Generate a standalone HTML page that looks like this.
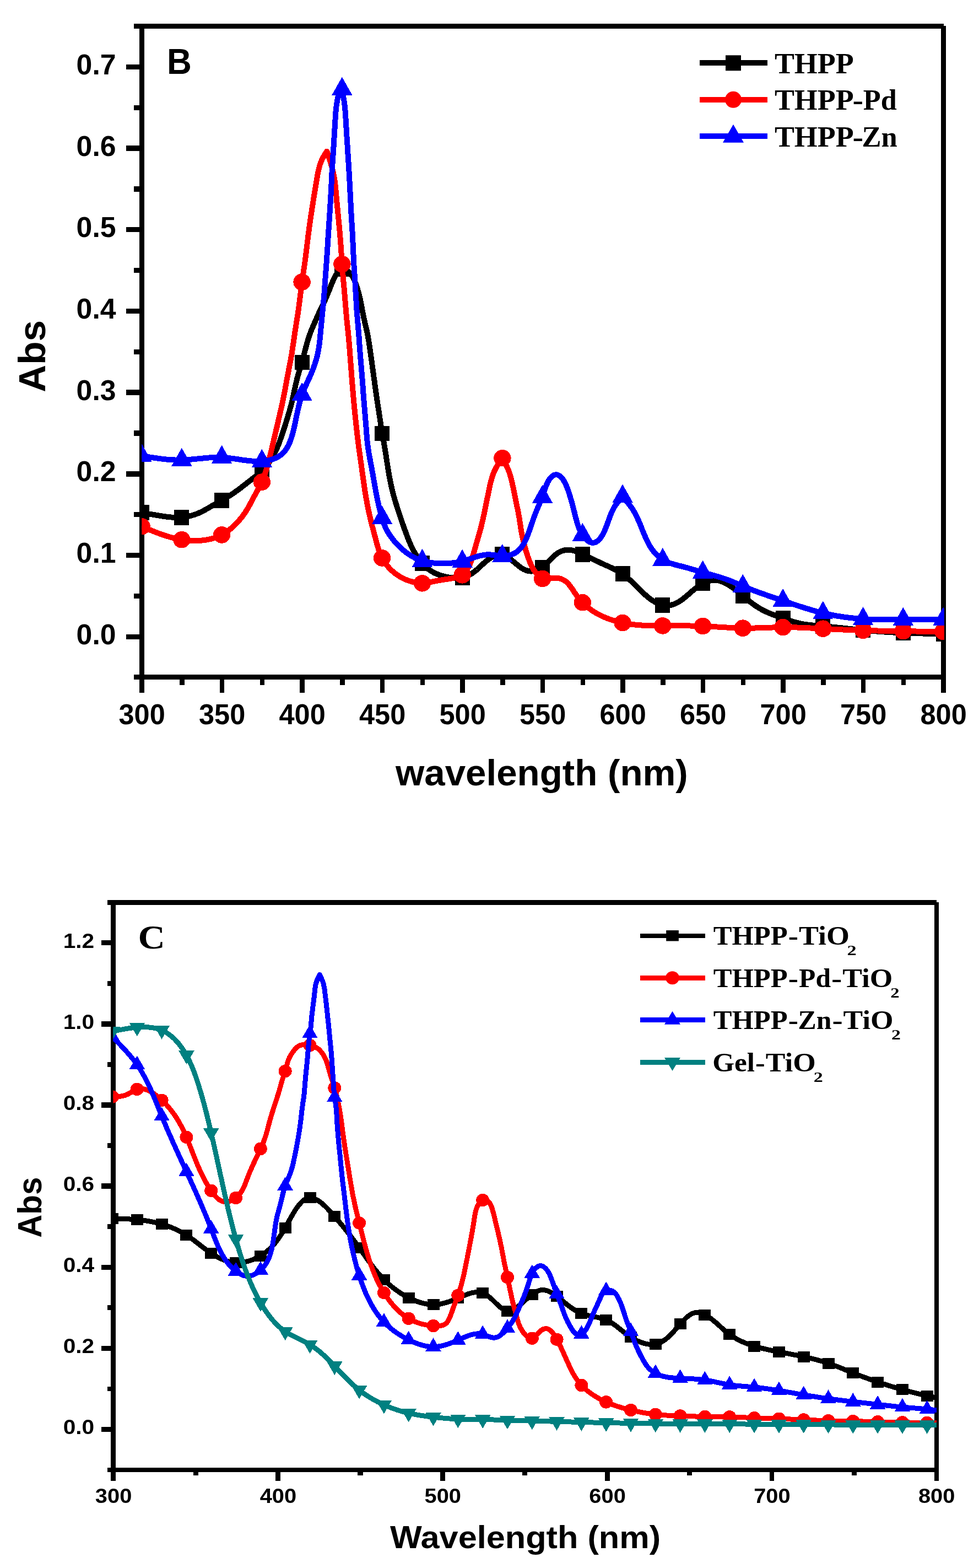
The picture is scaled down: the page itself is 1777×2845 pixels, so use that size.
<!DOCTYPE html>
<html lang="en">
<head>
<meta charset="utf-8">
<title>UV-Vis absorption spectra</title>
<style>
html, body { margin: 0; padding: 0; background: #ffffff; }
body { width: 1777px; height: 2845px; overflow: hidden; }
svg { display: block; }
text { fill: #000; }
</style>
</head>
<body>
<svg xmlns="http://www.w3.org/2000/svg" width="1777" height="2845" viewBox="0 0 1777 2845">
<rect width="1777" height="2845" fill="#fff"/>
<defs>
<clipPath id="clipB"><rect x="257.3" y="47" width="1456.6" height="1182"/></clipPath>
<clipPath id="clipC"><rect x="205.4" y="1637" width="1494.9" height="1030"/></clipPath>
</defs>
<g shape-rendering="crispEdges">
<rect x="243.20" y="42.80" width="1469.40" height="9.20" fill="#000"/>
<rect x="243.20" y="1224.10" width="1473.80" height="8.90" fill="#000"/>
<rect x="253.40" y="42.80" width="8.50" height="1213.70" fill="#000"/>
<rect x="1708.30" y="46.60" width="8.70" height="1209.90" fill="#000"/>
<rect x="228.90" y="1150.50" width="24.50" height="9.40" fill="#000"/>
<rect x="228.90" y="1002.81" width="24.50" height="9.40" fill="#000"/>
<rect x="228.90" y="855.12" width="24.50" height="9.40" fill="#000"/>
<rect x="228.90" y="707.43" width="24.50" height="9.40" fill="#000"/>
<rect x="228.90" y="559.74" width="24.50" height="9.40" fill="#000"/>
<rect x="228.90" y="412.05" width="24.50" height="9.40" fill="#000"/>
<rect x="228.90" y="264.36" width="24.50" height="9.40" fill="#000"/>
<rect x="228.90" y="116.67" width="24.50" height="9.40" fill="#000"/>
<rect x="243.20" y="1076.76" width="10.20" height="9.20" fill="#000"/>
<rect x="243.20" y="929.06" width="10.20" height="9.20" fill="#000"/>
<rect x="243.20" y="781.38" width="10.20" height="9.20" fill="#000"/>
<rect x="243.20" y="633.68" width="10.20" height="9.20" fill="#000"/>
<rect x="243.20" y="486.00" width="10.20" height="9.20" fill="#000"/>
<rect x="243.20" y="338.30" width="10.20" height="9.20" fill="#000"/>
<rect x="243.20" y="190.61" width="10.20" height="9.20" fill="#000"/>
<rect x="398.75" y="1233.00" width="8.70" height="23.50" fill="#000"/>
<rect x="544.25" y="1233.00" width="8.70" height="23.50" fill="#000"/>
<rect x="689.75" y="1233.00" width="8.70" height="23.50" fill="#000"/>
<rect x="835.25" y="1233.00" width="8.70" height="23.50" fill="#000"/>
<rect x="980.75" y="1233.00" width="8.70" height="23.50" fill="#000"/>
<rect x="1126.25" y="1233.00" width="8.70" height="23.50" fill="#000"/>
<rect x="1271.75" y="1233.00" width="8.70" height="23.50" fill="#000"/>
<rect x="1417.25" y="1233.00" width="8.70" height="23.50" fill="#000"/>
<rect x="1562.75" y="1233.00" width="8.70" height="23.50" fill="#000"/>
<rect x="326.00" y="1233.00" width="8.70" height="9.60" fill="#000"/>
<rect x="471.50" y="1233.00" width="8.70" height="9.60" fill="#000"/>
<rect x="617.00" y="1233.00" width="8.70" height="9.60" fill="#000"/>
<rect x="762.50" y="1233.00" width="8.70" height="9.60" fill="#000"/>
<rect x="908.00" y="1233.00" width="8.70" height="9.60" fill="#000"/>
<rect x="1053.50" y="1233.00" width="8.70" height="9.60" fill="#000"/>
<rect x="1199.00" y="1233.00" width="8.70" height="9.60" fill="#000"/>
<rect x="1344.50" y="1233.00" width="8.70" height="9.60" fill="#000"/>
<rect x="1490.00" y="1233.00" width="8.70" height="9.60" fill="#000"/>
<rect x="1635.50" y="1233.00" width="8.70" height="9.60" fill="#000"/>
</g>
<text transform="translate(210.60 1168.70) scale(0.9850 1)" font-family='"Liberation Sans", Arial, Helvetica, sans-serif' font-size="52.6" font-weight="bold" text-anchor="end">0.0</text>
<text transform="translate(210.60 1021.01) scale(0.9850 1)" font-family='"Liberation Sans", Arial, Helvetica, sans-serif' font-size="52.6" font-weight="bold" text-anchor="end">0.1</text>
<text transform="translate(210.60 873.32) scale(0.9850 1)" font-family='"Liberation Sans", Arial, Helvetica, sans-serif' font-size="52.6" font-weight="bold" text-anchor="end">0.2</text>
<text transform="translate(210.60 725.63) scale(0.9850 1)" font-family='"Liberation Sans", Arial, Helvetica, sans-serif' font-size="52.6" font-weight="bold" text-anchor="end">0.3</text>
<text transform="translate(210.60 577.94) scale(0.9850 1)" font-family='"Liberation Sans", Arial, Helvetica, sans-serif' font-size="52.6" font-weight="bold" text-anchor="end">0.4</text>
<text transform="translate(210.60 430.25) scale(0.9850 1)" font-family='"Liberation Sans", Arial, Helvetica, sans-serif' font-size="52.6" font-weight="bold" text-anchor="end">0.5</text>
<text transform="translate(210.60 282.56) scale(0.9850 1)" font-family='"Liberation Sans", Arial, Helvetica, sans-serif' font-size="52.6" font-weight="bold" text-anchor="end">0.6</text>
<text transform="translate(210.60 134.87) scale(0.9850 1)" font-family='"Liberation Sans", Arial, Helvetica, sans-serif' font-size="52.6" font-weight="bold" text-anchor="end">0.7</text>
<text transform="translate(257.60 1314.40) scale(0.9600 1)" font-family='"Liberation Sans", Arial, Helvetica, sans-serif' font-size="52.6" font-weight="bold" text-anchor="middle">300</text>
<text transform="translate(403.10 1314.40) scale(0.9600 1)" font-family='"Liberation Sans", Arial, Helvetica, sans-serif' font-size="52.6" font-weight="bold" text-anchor="middle">350</text>
<text transform="translate(548.60 1314.40) scale(0.9600 1)" font-family='"Liberation Sans", Arial, Helvetica, sans-serif' font-size="52.6" font-weight="bold" text-anchor="middle">400</text>
<text transform="translate(694.10 1314.40) scale(0.9600 1)" font-family='"Liberation Sans", Arial, Helvetica, sans-serif' font-size="52.6" font-weight="bold" text-anchor="middle">450</text>
<text transform="translate(839.60 1314.40) scale(0.9600 1)" font-family='"Liberation Sans", Arial, Helvetica, sans-serif' font-size="52.6" font-weight="bold" text-anchor="middle">500</text>
<text transform="translate(985.10 1314.40) scale(0.9600 1)" font-family='"Liberation Sans", Arial, Helvetica, sans-serif' font-size="52.6" font-weight="bold" text-anchor="middle">550</text>
<text transform="translate(1130.60 1314.40) scale(0.9600 1)" font-family='"Liberation Sans", Arial, Helvetica, sans-serif' font-size="52.6" font-weight="bold" text-anchor="middle">600</text>
<text transform="translate(1276.10 1314.40) scale(0.9600 1)" font-family='"Liberation Sans", Arial, Helvetica, sans-serif' font-size="52.6" font-weight="bold" text-anchor="middle">650</text>
<text transform="translate(1421.60 1314.40) scale(0.9600 1)" font-family='"Liberation Sans", Arial, Helvetica, sans-serif' font-size="52.6" font-weight="bold" text-anchor="middle">700</text>
<text transform="translate(1567.10 1314.40) scale(0.9600 1)" font-family='"Liberation Sans", Arial, Helvetica, sans-serif' font-size="52.6" font-weight="bold" text-anchor="middle">750</text>
<text transform="translate(1712.60 1314.40) scale(0.9600 1)" font-family='"Liberation Sans", Arial, Helvetica, sans-serif' font-size="52.6" font-weight="bold" text-anchor="middle">800</text>
<text transform="translate(983.30 1425.00) scale(1.0050 1)" font-family='"Liberation Sans", Arial, Helvetica, sans-serif' font-size="66.95" font-weight="bold" text-anchor="middle">wavelength (nm)</text>
<text transform="translate(81.80 646.30) rotate(-90) scale(1.0100 1)" font-family='"Liberation Sans", Arial, Helvetica, sans-serif' font-size="68.5" font-weight="bold" text-anchor="middle">Abs</text>
<text transform="translate(303.10 133.90) scale(0.9545 1)" font-family='"Liberation Sans", Arial, Helvetica, sans-serif' font-size="65.06" font-weight="bold" text-anchor="start">B</text>
<g clip-path="url(#clipB)" shape-rendering="crispEdges">
<path d="M257.1,930.0L258.6,930.2L260.1,930.5L261.5,930.8L263.0,931.1L264.5,931.3L266.0,931.6L267.5,931.9L268.9,932.1L270.4,932.4L271.9,932.7L273.4,932.9L274.9,933.2L276.3,933.4L277.8,933.7L279.3,934.0L280.8,934.2L282.3,934.5L283.8,934.7L285.3,935.0L286.8,935.2L288.2,935.5L289.7,935.7L291.2,936.0L292.7,936.2L294.2,936.4L295.7,936.7L297.2,936.9L298.7,937.1L300.2,937.3L301.7,937.5L303.2,937.7L304.7,937.9L306.2,938.1L307.7,938.2L309.2,938.4L310.7,938.5L312.2,938.6L314.2,938.8L316.2,938.9L318.1,939.0L320.1,939.0L322.1,939.0L324.1,939.0L326.1,938.9L328.1,938.8L330.0,938.7L332.0,938.5L334.0,938.3L336.0,938.0L337.9,937.7L339.9,937.3L341.8,936.9L343.8,936.5L345.7,936.0L347.6,935.5L349.5,934.9L351.4,934.3L353.3,933.7L355.2,933.0L357.1,932.3L358.9,931.6L360.8,930.8L362.6,930.0L364.4,929.2L366.2,928.3L368.0,927.4L369.3,926.7L370.6,926.0L372.0,925.3L373.3,924.5L374.6,923.8L375.9,923.1L377.2,922.3L378.5,921.6L379.8,920.8L381.1,920.1L382.4,919.3L383.7,918.6L385.0,917.8L386.4,917.1L387.7,916.4L389.0,915.6L390.3,914.9L391.6,914.2L392.9,913.4L394.2,912.7L395.5,912.0L396.9,911.2L398.2,910.5L399.5,909.7L400.8,909.0L402.1,908.3L403.4,907.5L404.7,906.8L406.0,906.0L407.3,905.2L409.0,904.2L410.7,903.2L412.4,902.2L414.1,901.1L415.8,900.1L417.5,899.0L419.2,897.9L420.8,896.8L422.5,895.7L424.1,894.6L425.8,893.4L427.4,892.3L429.0,891.1L430.7,889.9L432.3,888.7L433.5,887.8L434.7,886.9L435.9,886.0L437.1,885.1L438.3,884.2L439.4,883.3L440.6,882.4L441.8,881.5L443.0,880.5L444.2,879.6L445.4,878.7L446.6,877.8L447.7,876.8L448.9,875.9L450.1,875.0L451.3,874.0L452.5,873.1L453.7,872.2L454.9,871.3L456.0,870.4L457.2,869.4L458.4,868.5L459.6,867.6L460.8,866.7L462.0,865.8L463.2,864.9L464.4,863.9L465.9,862.7L467.5,861.4L469.0,860.2L470.5,858.9L472.0,857.6L473.5,856.2L475.0,854.9L476.4,853.5L477.8,852.1L479.1,850.6L480.5,849.1L481.8,847.6L483.1,846.1L484.3,844.6L485.6,843.0L486.8,841.4L487.9,839.8L488.8,838.6L489.6,837.3L490.5,836.1L491.3,834.8L492.1,833.5L492.9,832.3L493.7,831.0L494.5,829.7L495.2,828.4L495.9,827.0L496.7,825.7L497.4,824.4L498.1,823.0L498.8,821.7L499.4,820.3L500.1,819.0L500.8,817.6L501.4,816.2L502.0,814.9L502.6,813.5L503.2,812.1L503.8,810.7L504.4,809.3L505.0,807.9L505.5,806.5L506.1,805.1L506.6,803.7L507.2,802.3L507.7,800.9L508.2,799.5L508.7,798.0L509.2,796.6L509.7,795.2L510.2,793.8L510.7,792.4L511.2,790.9L511.7,789.5L512.2,788.1L512.7,786.7L513.1,785.2L513.6,783.8L514.1,782.4L514.6,781.0L515.0,779.5L515.5,778.1L515.9,776.7L516.4,775.3L516.9,773.8L517.3,772.4L517.8,771.0L518.2,769.5L518.7,768.1L519.1,766.7L519.6,765.2L520.0,763.8L520.4,762.4L520.9,760.9L521.3,759.5L521.8,758.1L522.2,756.6L522.6,755.2L523.0,753.7L523.5,752.3L523.9,750.9L524.3,749.4L524.9,747.5L525.4,745.6L526.0,743.7L526.5,741.7L527.0,739.8L527.6,737.9L528.1,735.9L528.6,734.0L529.1,732.1L529.6,730.1L530.0,728.2L530.5,726.2L530.9,724.3L531.4,722.3L531.8,720.4L532.3,718.4L532.7,716.5L533.1,714.5L533.5,712.6L533.9,710.6L534.3,708.7L534.7,706.7L535.2,704.8L535.6,702.8L536.0,700.8L536.4,698.9L536.9,696.9L537.3,695.0L537.8,693.1L538.3,691.1L538.7,689.2L539.2,687.2L539.7,685.3L540.3,683.4L540.8,681.5L541.3,679.5L541.9,677.6L542.5,675.7L543.0,673.8L543.6,671.9L544.2,670.0L544.6,668.5L545.1,667.1L545.5,665.7L546.0,664.2L546.4,662.8L546.8,661.3L547.2,659.9L547.7,658.5L548.1,657.0L548.5,655.6L548.9,654.1L549.3,652.7L549.7,651.2L550.1,649.8L550.5,648.3L550.9,646.9L551.2,645.4L551.6,644.0L552.0,642.5L552.4,641.0L552.8,639.6L553.1,638.1L553.5,636.7L553.9,635.2L554.3,633.8L554.7,632.3L555.0,630.9L555.4,629.4L555.8,628.0L556.2,626.5L556.7,624.6L557.3,622.7L557.8,620.7L558.4,618.8L559.0,616.9L559.5,615.0L560.1,613.1L560.8,611.2L561.4,609.3L562.0,607.4L562.7,605.6L563.4,603.7L564.1,601.9L564.8,600.0L565.6,598.2L566.4,596.3L567.1,594.5L567.9,592.7L568.7,590.9L569.5,589.1L570.3,587.2L571.1,585.4L571.9,583.6L572.7,581.8L573.5,580.0L574.3,578.2L575.1,576.3L575.9,574.5L576.7,572.7L577.5,570.9L578.3,569.1L579.1,567.3L579.9,565.5L580.7,563.7L581.6,561.9L582.4,560.1L583.3,558.3L584.2,556.5L584.8,555.2L585.5,553.8L586.2,552.5L586.8,551.1L587.5,549.7L588.1,548.3L588.8,547.0L589.4,545.6L590.1,544.2L590.7,542.7L591.3,541.3L592.0,539.9L592.6,538.4L593.2,537.0L593.8,535.5L594.5,534.0L595.1,532.5L595.7,531.0L596.3,529.5L596.9,528.0L597.6,526.4L598.2,524.9L598.8,523.3L599.4,521.7L600.1,520.1L600.7,518.5L601.3,516.9L602.0,515.3L602.7,513.7L603.3,512.0L604.0,510.5L604.7,508.9L605.4,507.3L606.1,505.8L606.8,504.3L607.5,502.9L608.3,501.4L609.0,500.1L609.8,498.8L610.9,497.1L612.0,495.6L613.1,494.1L614.2,492.9L615.4,491.7L616.6,490.8L618.2,489.8L619.8,489.1L621.5,488.7L623.3,488.7L625.1,489.0L626.6,489.4L628.0,490.0L629.5,490.8L630.9,491.7L632.3,492.8L633.7,494.0L635.0,495.3L636.2,496.7L637.4,498.2L638.5,499.8L639.6,501.5L640.3,502.8L641.1,504.1L641.8,505.5L642.5,506.9L643.1,508.4L643.8,509.9L644.4,511.3L645.0,512.9L645.6,514.4L646.1,515.9L646.7,517.5L647.2,519.0L647.7,520.5L648.2,522.1L648.7,523.6L649.2,525.2L649.6,526.7L650.1,528.3L650.5,529.8L651.0,531.3L651.4,532.8L651.8,534.4L652.1,535.9L652.5,537.4L652.9,538.9L653.2,540.4L653.6,541.9L653.9,543.5L654.2,545.0L654.5,546.5L654.8,548.0L655.1,549.4L655.4,550.9L655.7,552.4L656.0,553.9L656.3,555.4L656.5,556.9L656.8,558.4L657.1,559.8L657.4,561.3L657.6,562.8L658.0,564.8L658.4,566.7L658.8,568.7L659.1,570.6L659.5,572.6L659.9,574.5L660.3,576.5L660.8,578.4L661.2,580.4L661.6,582.3L662.1,584.3L662.5,586.2L663.0,588.2L663.4,590.1L663.9,592.0L664.3,594.0L664.8,595.9L665.2,597.9L665.7,599.8L666.1,601.7L666.5,603.7L666.9,605.6L667.3,607.6L667.7,609.6L668.0,611.5L668.4,613.5L668.7,615.5L669.1,617.4L669.4,619.4L669.7,621.4L670.0,623.3L670.3,625.3L670.6,626.8L670.8,628.3L671.0,629.8L671.2,631.3L671.4,632.7L671.7,634.2L671.9,635.7L672.1,637.2L672.3,638.7L672.5,640.2L672.7,641.7L672.9,643.1L673.1,644.6L673.3,646.1L673.5,647.6L673.7,649.1L673.9,650.6L674.1,652.1L674.3,653.6L674.6,655.0L674.8,656.5L675.0,658.0L675.2,659.5L675.4,661.0L675.6,662.5L675.8,664.0L676.0,665.5L676.2,666.9L676.4,668.4L676.6,669.9L676.8,671.4L677.0,672.9L677.2,674.4L677.4,675.9L677.6,677.3L677.8,678.8L678.0,680.3L678.2,681.8L678.4,683.3L678.6,684.8L678.9,686.3L679.1,687.8L679.3,689.2L679.5,690.7L679.7,692.2L679.9,693.7L680.1,695.2L680.3,696.7L680.5,698.2L680.7,699.6L680.9,701.1L681.1,702.6L681.3,704.1L681.5,705.6L681.7,707.1L681.9,708.6L682.2,710.0L682.4,711.5L682.6,713.0L682.8,714.5L683.0,716.0L683.2,717.5L683.4,719.0L683.6,720.4L683.9,721.9L684.1,723.4L684.3,724.9L684.5,726.4L684.7,727.9L685.0,729.4L685.2,730.8L685.4,732.3L685.6,733.8L685.9,735.3L686.1,736.8L686.3,738.3L686.5,739.7L686.8,741.2L687.0,742.7L687.2,744.2L687.5,745.7L687.7,747.2L687.9,748.6L688.1,750.1L688.4,751.6L688.6,753.1L688.8,754.6L689.1,756.0L689.3,757.5L689.5,759.0L689.7,760.5L690.0,762.0L690.2,763.5L690.4,764.9L690.6,766.4L690.9,767.9L691.1,769.4L691.3,770.9L691.5,772.4L691.8,773.8L692.0,775.3L692.2,776.8L692.5,778.8L692.8,780.8L693.1,782.7L693.4,784.7L693.8,786.7L694.1,788.7L694.4,790.6L694.8,792.6L695.1,794.6L695.5,796.5L695.9,798.5L696.2,800.5L696.5,801.9L696.8,803.4L697.0,804.9L697.3,806.4L697.6,807.9L697.8,809.3L698.1,810.8L698.3,812.3L698.6,813.8L698.8,815.2L699.1,816.7L699.3,818.2L699.6,819.7L699.8,821.2L700.0,822.6L700.3,824.1L700.5,825.6L700.7,827.1L701.0,828.6L701.2,830.1L701.4,831.5L701.6,833.0L701.9,834.5L702.1,836.0L702.3,837.5L702.5,839.0L702.8,840.4L703.0,841.9L703.2,843.4L703.5,844.9L703.7,846.4L703.9,847.9L704.2,849.3L704.4,850.8L704.6,852.3L704.9,853.8L705.1,855.3L705.4,856.8L705.6,858.2L705.9,859.7L706.2,861.2L706.4,862.7L706.7,864.1L707.0,865.6L707.2,867.1L707.5,868.6L707.8,870.0L708.1,871.5L708.4,873.0L708.7,874.5L709.0,875.9L709.4,877.9L709.8,879.8L710.2,881.8L710.7,883.7L711.1,885.7L711.6,887.6L712.0,889.6L712.5,891.5L713.0,893.5L713.5,895.4L714.0,897.3L714.5,899.3L715.1,901.2L715.6,903.1L716.2,905.0L716.7,906.9L717.3,908.9L717.7,910.3L718.1,911.7L718.6,913.2L719.0,914.6L719.5,916.0L719.9,917.5L720.4,918.9L720.8,920.3L721.3,921.8L721.8,923.2L722.2,924.6L722.7,926.0L723.2,927.5L723.6,928.9L724.1,930.3L724.6,931.8L725.0,933.2L725.5,934.6L726.0,936.0L726.5,937.5L726.9,938.9L727.4,940.3L727.9,941.7L728.4,943.2L728.9,944.6L729.4,946.0L729.8,947.4L730.3,948.8L730.8,950.3L731.3,951.7L731.8,953.1L732.3,954.5L732.8,955.9L733.3,957.4L733.8,958.8L734.3,960.2L734.8,961.6L735.3,963.0L735.9,964.4L736.4,965.8L736.9,967.2L737.4,968.7L738.0,970.1L738.5,971.5L739.0,972.9L739.6,974.3L740.1,975.7L740.7,977.1L741.2,978.5L741.8,979.9L742.4,981.3L742.9,982.7L743.5,984.1L744.1,985.4L744.7,986.8L745.3,988.2L745.9,989.6L746.5,990.9L747.2,992.3L747.8,993.7L748.5,995.0L749.1,996.3L749.8,997.7L750.5,999.0L751.2,1000.3L752.0,1001.6L752.7,1002.9L753.5,1004.2L754.2,1005.5L755.3,1007.2L756.4,1008.9L757.5,1010.6L758.6,1012.2L759.8,1013.8L761.0,1015.4L762.2,1017.0L763.5,1018.6L764.7,1020.1L766.0,1021.6L767.4,1023.1L768.7,1024.6L770.1,1026.0L771.5,1027.4L773.0,1028.8L774.5,1030.1L776.0,1031.4L777.5,1032.6L779.1,1033.8L780.7,1034.9L782.4,1036.0L784.1,1037.1L785.8,1038.0L787.5,1039.0L789.3,1039.9L791.1,1040.7L793.0,1041.5L794.4,1042.0L795.8,1042.6L797.2,1043.1L798.6,1043.6L800.1,1044.0L801.5,1044.5L803.0,1044.9L804.4,1045.3L805.9,1045.7L807.4,1046.0L808.9,1046.3L810.4,1046.7L811.9,1046.9L813.4,1047.2L814.9,1047.5L816.4,1047.7L817.9,1047.9L819.4,1048.1L820.9,1048.2L822.5,1048.4L824.0,1048.5L825.5,1048.5L827.0,1048.6L828.5,1048.6L830.5,1048.6L832.4,1048.5L834.4,1048.3L836.4,1048.1L838.3,1047.7L840.2,1047.4L842.1,1046.9L844.0,1046.4L845.8,1045.8L847.7,1045.1L849.5,1044.3L851.2,1043.5L853.0,1042.6L854.7,1041.6L856.4,1040.6L858.0,1039.5L859.7,1038.3L860.9,1037.4L862.1,1036.5L863.2,1035.5L864.4,1034.6L865.6,1033.6L866.7,1032.6L867.9,1031.5L869.0,1030.5L870.2,1029.4L871.3,1028.4L872.4,1027.3L873.6,1026.2L874.7,1025.1L875.9,1024.1L877.0,1023.0L878.2,1021.9L879.4,1020.9L880.5,1019.9L881.7,1018.8L882.9,1017.8L884.1,1016.9L885.3,1015.9L886.5,1015.0L887.8,1014.1L889.0,1013.3L890.3,1012.5L892.0,1011.4L893.8,1010.5L895.5,1009.7L897.3,1008.9L899.1,1008.3L900.9,1007.8L902.8,1007.3L904.6,1007.0L906.4,1006.9L908.2,1006.8L910.0,1007.0L911.8,1007.2L913.6,1007.6L915.3,1008.2L917.0,1008.9L918.7,1009.7L920.4,1010.6L922.1,1011.6L923.8,1012.7L925.0,1013.6L926.2,1014.5L927.5,1015.4L928.7,1016.4L929.9,1017.4L931.1,1018.4L932.4,1019.4L933.6,1020.4L934.8,1021.5L936.0,1022.5L937.2,1023.5L938.5,1024.5L939.7,1025.5L940.9,1026.5L942.1,1027.5L943.4,1028.4L944.6,1029.3L945.9,1030.2L947.1,1031.0L948.8,1032.0L950.6,1033.0L952.3,1033.8L954.1,1034.5L955.9,1035.2L957.7,1035.7L959.5,1036.1L961.4,1036.4L963.2,1036.5L965.1,1036.5L967.0,1036.4L968.8,1036.2L970.7,1035.8L972.5,1035.4L974.3,1034.8L976.1,1034.1L977.9,1033.3L979.6,1032.4L981.4,1031.4L983.0,1030.4L984.7,1029.2L986.2,1028.0L987.4,1027.1L988.5,1026.1L989.7,1025.0L990.8,1024.0L991.8,1022.9L992.9,1021.8L994.0,1020.7L995.1,1019.6L996.1,1018.5L997.2,1017.4L998.2,1016.2L999.3,1015.1L1000.3,1014.0L1001.4,1012.9L1002.5,1011.8L1003.6,1010.7L1004.7,1009.7L1005.8,1008.7L1006.9,1007.7L1008.4,1006.4L1010.0,1005.2L1011.6,1004.1L1013.2,1003.0L1014.9,1002.0L1016.5,1001.2L1018.3,1000.4L1020.0,999.7L1021.8,999.1L1023.6,998.6L1025.4,998.2L1027.2,997.9L1029.1,997.8L1030.9,997.7L1032.8,997.8L1034.7,997.9L1036.6,998.2L1038.5,998.5L1040.4,999.0L1042.3,999.5L1044.2,1000.1L1045.6,1000.5L1047.0,1001.0L1048.5,1001.6L1049.9,1002.1L1051.3,1002.7L1052.7,1003.3L1054.1,1003.9L1055.5,1004.5L1056.9,1005.2L1058.3,1005.8L1059.7,1006.5L1061.1,1007.1L1062.5,1007.8L1063.8,1008.4L1065.2,1009.1L1066.6,1009.8L1067.9,1010.4L1069.3,1011.1L1070.7,1011.8L1072.0,1012.4L1073.4,1013.1L1074.7,1013.8L1076.1,1014.5L1077.4,1015.1L1078.8,1015.8L1080.1,1016.5L1081.5,1017.1L1082.8,1017.8L1084.6,1018.6L1086.4,1019.5L1088.2,1020.4L1090.0,1021.2L1091.8,1022.1L1093.6,1022.9L1095.5,1023.7L1097.3,1024.5L1099.1,1025.4L1100.9,1026.2L1102.7,1027.0L1104.5,1027.8L1106.4,1028.6L1108.2,1029.5L1110.0,1030.3L1111.8,1031.1L1113.6,1032.0L1115.4,1032.9L1117.1,1033.8L1118.9,1034.8L1120.2,1035.5L1121.5,1036.2L1122.8,1037.0L1124.1,1037.7L1125.4,1038.5L1126.7,1039.3L1128.0,1040.2L1129.2,1041.0L1130.5,1041.9L1131.7,1042.8L1133.0,1043.7L1134.2,1044.7L1135.4,1045.6L1136.6,1046.6L1137.9,1047.6L1139.1,1048.6L1140.2,1049.6L1141.4,1050.7L1142.6,1051.7L1143.8,1052.8L1145.0,1053.9L1146.1,1055.0L1147.3,1056.1L1148.5,1057.2L1149.6,1058.3L1150.8,1059.4L1151.9,1060.5L1153.1,1061.7L1154.2,1062.8L1155.3,1063.9L1156.5,1065.1L1157.6,1066.2L1158.8,1067.3L1159.9,1068.4L1161.0,1069.6L1162.2,1070.7L1163.3,1071.8L1164.4,1072.9L1165.6,1074.0L1166.7,1075.1L1167.9,1076.1L1169.0,1077.2L1170.1,1078.2L1171.3,1079.3L1172.4,1080.3L1173.6,1081.3L1174.8,1082.3L1175.9,1083.2L1177.1,1084.2L1178.6,1085.4L1180.2,1086.6L1181.8,1087.7L1183.4,1088.9L1185.0,1089.9L1186.6,1090.9L1188.3,1091.9L1189.9,1092.8L1191.6,1093.6L1193.2,1094.4L1194.9,1095.1L1196.6,1095.8L1198.4,1096.4L1200.1,1096.9L1201.9,1097.3L1203.7,1097.7L1205.5,1098.0L1207.3,1098.2L1209.1,1098.3L1211.0,1098.4L1212.8,1098.3L1214.7,1098.2L1216.5,1098.0L1218.3,1097.7L1220.1,1097.2L1221.8,1096.7L1223.6,1096.1L1225.3,1095.4L1227.0,1094.7L1228.7,1093.8L1230.4,1092.9L1232.0,1092.0L1233.7,1090.9L1235.3,1089.8L1237.0,1088.7L1238.2,1087.8L1239.4,1086.9L1240.6,1086.0L1241.8,1085.0L1243.0,1084.1L1244.2,1083.1L1245.4,1082.1L1246.6,1081.1L1247.8,1080.0L1249.0,1079.0L1250.2,1078.0L1251.4,1076.9L1252.6,1075.9L1253.8,1074.8L1255.0,1073.8L1256.2,1072.7L1257.4,1071.7L1258.7,1070.7L1259.9,1069.7L1261.1,1068.7L1262.3,1067.7L1263.6,1066.7L1264.8,1065.7L1266.1,1064.8L1267.3,1063.9L1268.6,1063.0L1269.9,1062.1L1271.2,1061.2L1272.5,1060.4L1273.8,1059.6L1275.1,1058.9L1276.4,1058.2L1277.8,1057.5L1279.6,1056.6L1281.4,1055.9L1283.2,1055.2L1285.1,1054.5L1286.9,1054.0L1288.8,1053.6L1290.6,1053.2L1292.5,1052.9L1294.4,1052.7L1296.2,1052.7L1298.1,1052.7L1299.9,1052.8L1301.7,1053.1L1303.6,1053.4L1305.4,1053.8L1307.2,1054.3L1309.0,1054.8L1310.8,1055.5L1312.6,1056.2L1314.4,1057.0L1316.2,1057.8L1318.0,1058.7L1319.3,1059.5L1320.6,1060.2L1321.9,1061.0L1323.2,1061.8L1324.5,1062.6L1325.8,1063.5L1327.1,1064.4L1328.4,1065.3L1329.7,1066.2L1331.0,1067.1L1332.3,1068.1L1333.6,1069.1L1334.8,1070.1L1336.1,1071.0L1337.4,1072.1L1338.6,1073.1L1339.9,1074.1L1341.1,1075.1L1342.4,1076.1L1343.6,1077.2L1344.9,1078.2L1346.1,1079.2L1347.3,1080.3L1348.5,1081.3L1349.8,1082.3L1351.0,1083.3L1352.2,1084.3L1353.4,1085.3L1354.6,1086.3L1355.8,1087.3L1357.0,1088.2L1358.2,1089.2L1359.4,1090.2L1360.6,1091.1L1361.8,1092.0L1363.0,1093.0L1364.2,1093.9L1365.4,1094.8L1367.0,1096.0L1368.6,1097.1L1370.2,1098.3L1371.8,1099.4L1373.5,1100.5L1375.1,1101.6L1376.8,1102.6L1378.4,1103.6L1380.1,1104.6L1381.8,1105.6L1383.6,1106.6L1385.3,1107.5L1387.0,1108.3L1388.8,1109.2L1390.6,1110.0L1392.4,1110.8L1394.2,1111.6L1396.1,1112.4L1397.9,1113.2L1399.7,1113.9L1401.6,1114.6L1403.5,1115.3L1405.3,1116.0L1406.8,1116.5L1408.2,1117.0L1409.6,1117.6L1411.0,1118.1L1412.4,1118.6L1413.8,1119.1L1415.3,1119.6L1416.7,1120.0L1418.1,1120.5L1419.5,1121.0L1421.0,1121.5L1422.4,1122.0L1423.8,1122.5L1425.2,1123.0L1426.6,1123.5L1428.1,1124.0L1429.5,1124.5L1430.9,1125.0L1432.3,1125.5L1433.7,1126.0L1435.6,1126.6L1437.5,1127.3L1439.4,1127.9L1441.3,1128.4L1443.2,1129.0L1445.2,1129.5L1447.1,1130.0L1449.0,1130.5L1450.9,1131.0L1452.9,1131.4L1454.8,1131.8L1456.8,1132.1L1458.7,1132.5L1460.7,1132.8L1462.7,1133.1L1464.7,1133.4L1466.6,1133.6L1468.6,1133.9L1470.6,1134.1L1472.6,1134.3L1474.1,1134.5L1475.6,1134.6L1477.1,1134.7L1478.6,1134.9L1480.1,1135.0L1481.6,1135.1L1483.1,1135.2L1484.6,1135.4L1486.1,1135.5L1487.6,1135.6L1489.1,1135.7L1490.6,1135.8L1492.1,1135.9L1493.6,1136.1L1495.1,1136.2L1496.6,1136.3L1498.1,1136.4L1499.6,1136.6L1501.1,1136.7L1502.6,1136.8L1504.1,1137.0L1505.6,1137.1L1507.1,1137.2L1508.6,1137.4L1510.0,1137.5L1511.5,1137.7L1513.0,1137.8L1514.5,1138.0L1516.0,1138.1L1517.5,1138.3L1519.0,1138.4L1520.5,1138.6L1522.0,1138.7L1523.5,1138.9L1525.0,1139.0L1526.5,1139.2L1528.0,1139.3L1529.5,1139.5L1531.0,1139.7L1532.9,1139.9L1534.9,1140.1L1536.9,1140.3L1538.9,1140.5L1540.9,1140.7L1542.9,1140.9L1544.9,1141.1L1546.9,1141.4L1548.8,1141.6L1550.8,1141.8L1552.8,1142.0L1554.8,1142.2L1556.8,1142.4L1558.8,1142.6L1560.8,1142.8L1562.8,1143.0L1564.8,1143.2L1566.7,1143.4L1568.7,1143.6L1570.7,1143.8L1572.7,1144.0L1574.7,1144.1L1576.2,1144.3L1577.7,1144.4L1579.2,1144.5L1580.7,1144.7L1582.2,1144.8L1583.7,1144.9L1585.2,1145.0L1586.7,1145.2L1588.2,1145.3L1589.7,1145.4L1591.2,1145.5L1592.7,1145.6L1594.1,1145.7L1595.6,1145.9L1597.1,1146.0L1598.6,1146.1L1600.1,1146.2L1601.6,1146.3L1603.1,1146.4L1604.6,1146.5L1606.1,1146.6L1607.6,1146.7L1609.1,1146.8L1610.6,1146.9L1612.1,1147.0L1613.6,1147.1L1615.1,1147.2L1616.6,1147.3L1618.1,1147.4L1619.6,1147.4L1621.1,1147.5L1622.6,1147.6L1624.1,1147.7L1625.6,1147.8L1627.1,1147.8L1628.6,1147.9L1630.1,1148.0L1631.6,1148.1L1633.1,1148.1L1634.6,1148.2L1636.1,1148.3L1637.6,1148.3L1639.1,1148.4L1640.6,1148.5L1642.1,1148.5L1643.6,1148.6L1645.1,1148.6L1646.6,1148.7L1648.1,1148.7L1649.6,1148.8L1651.1,1148.8L1652.6,1148.9L1654.1,1148.9L1655.6,1149.0L1657.1,1149.0L1658.6,1149.1L1660.1,1149.1L1661.6,1149.1L1663.1,1149.2L1664.6,1149.2L1666.1,1149.3L1667.6,1149.3L1669.1,1149.3L1670.6,1149.4L1672.1,1149.4L1673.6,1149.4L1675.1,1149.5L1676.6,1149.5L1678.1,1149.5L1679.6,1149.5L1681.1,1149.6L1682.6,1149.6L1684.1,1149.6L1685.6,1149.7L1687.1,1149.7L1688.6,1149.7L1690.1,1149.7L1691.6,1149.7L1693.1,1149.8L1694.6,1149.8L1696.1,1149.8L1697.6,1149.8L1699.1,1149.9L1700.6,1149.9L1702.1,1149.9L1703.6,1149.9L1705.1,1149.9L1706.6,1150.0L1708.1,1150.0L1709.6,1150.0L1711.1,1150.0L1712.1,1150.0" fill="none" stroke="#000000" stroke-width="10.0" stroke-linejoin="round" stroke-linecap="butt"/>
<rect x="243.6" y="916.1" width="27" height="27.8" fill="#000000"/>
<rect x="316.4" y="924.9" width="27" height="27.8" fill="#000000"/>
<rect x="389.1" y="894.1" width="27" height="27.8" fill="#000000"/>
<rect x="461.9" y="840.9" width="27" height="27.8" fill="#000000"/>
<rect x="534.6" y="643.6" width="27" height="27.8" fill="#000000"/>
<rect x="607.4" y="473.7" width="27" height="27.8" fill="#000000"/>
<rect x="680.1" y="772.5" width="27" height="27.8" fill="#000000"/>
<rect x="752.9" y="1007.9" width="27" height="27.8" fill="#000000"/>
<rect x="825.6" y="1033.9" width="27" height="27.8" fill="#000000"/>
<rect x="898.4" y="992.4" width="27" height="27.8" fill="#000000"/>
<rect x="971.1" y="1015.9" width="27" height="27.8" fill="#000000"/>
<rect x="1043.8" y="991.7" width="27" height="27.8" fill="#000000"/>
<rect x="1116.6" y="1027.4" width="27" height="27.8" fill="#000000"/>
<rect x="1189.3" y="1083.7" width="27" height="27.8" fill="#000000"/>
<rect x="1262.1" y="1044.6" width="27" height="27.8" fill="#000000"/>
<rect x="1334.8" y="1067.3" width="27" height="27.8" fill="#000000"/>
<rect x="1407.6" y="1107.5" width="27" height="27.8" fill="#000000"/>
<rect x="1480.3" y="1122.1" width="27" height="27.8" fill="#000000"/>
<rect x="1553.1" y="1129.5" width="27" height="27.8" fill="#000000"/>
<rect x="1625.8" y="1134.5" width="27" height="27.8" fill="#000000"/>
<rect x="1698.6" y="1136.1" width="27" height="27.8" fill="#000000"/>
<path d="M257.1,955.2L258.5,955.8L259.9,956.4L261.3,957.0L262.6,957.6L264.0,958.1L265.4,958.7L266.8,959.3L268.2,959.9L269.6,960.4L271.0,961.0L272.3,961.6L273.7,962.1L275.1,962.7L276.5,963.3L277.9,963.8L279.3,964.4L280.7,964.9L282.1,965.5L283.5,966.0L284.9,966.5L286.3,967.1L287.7,967.6L289.1,968.1L290.5,968.6L292.0,969.1L293.4,969.6L294.8,970.1L296.2,970.6L297.6,971.1L299.1,971.5L300.5,972.0L301.9,972.4L303.4,972.9L304.8,973.3L306.2,973.8L307.7,974.2L309.1,974.6L310.6,975.0L312.1,975.4L313.5,975.7L315.0,976.1L316.4,976.5L317.9,976.8L319.4,977.1L320.9,977.5L322.4,977.8L323.9,978.1L325.3,978.4L326.8,978.6L328.4,978.9L329.9,979.1L331.4,979.4L332.9,979.6L334.4,979.8L335.9,980.0L337.5,980.2L339.0,980.3L340.5,980.5L342.1,980.6L343.6,980.7L345.2,980.8L346.7,980.9L348.3,981.0L349.8,981.1L351.3,981.1L352.9,981.1L354.4,981.1L356.0,981.1L357.5,981.1L359.1,981.0L360.6,981.0L362.1,980.9L363.7,980.8L365.2,980.7L366.7,980.5L368.3,980.4L369.8,980.2L371.3,980.0L372.8,979.8L374.3,979.5L375.8,979.3L377.3,979.0L378.8,978.7L380.3,978.4L381.7,978.0L383.2,977.7L384.7,977.3L386.1,976.9L387.6,976.5L389.0,976.0L390.9,975.4L392.8,974.7L394.6,974.0L396.5,973.2L398.3,972.4L400.1,971.6L401.9,970.7L403.6,969.8L405.4,968.8L407.1,967.8L408.8,966.7L410.4,965.6L412.1,964.5L413.7,963.3L414.9,962.4L416.1,961.5L417.3,960.6L418.4,959.6L419.6,958.6L420.7,957.7L421.9,956.7L423.0,955.6L424.1,954.6L425.2,953.6L426.3,952.5L427.3,951.5L428.4,950.4L429.4,949.3L430.5,948.2L431.5,947.1L432.5,946.0L433.5,944.8L434.5,943.7L435.5,942.5L436.4,941.4L437.4,940.2L438.3,939.1L439.3,937.9L440.2,936.7L441.1,935.5L442.0,934.3L442.8,933.0L443.7,931.8L444.5,930.6L445.6,928.9L446.7,927.2L447.8,925.5L448.8,923.8L449.8,922.1L450.6,920.8L451.3,919.5L452.0,918.2L452.7,916.8L453.5,915.5L454.2,914.2L454.9,912.9L455.6,911.6L456.3,910.2L457.0,908.9L457.7,907.6L458.4,906.2L459.1,904.9L459.8,903.6L460.5,902.3L461.2,900.9L462.0,899.6L462.7,898.3L463.4,897.0L464.1,895.6L464.8,894.3L465.5,893.0L466.2,891.7L467.0,890.4L467.7,889.0L468.4,887.7L469.1,886.4L470.0,884.6L471.0,882.9L471.9,881.1L472.8,879.3L473.7,877.5L474.6,875.7L475.4,873.9L476.2,872.1L477.0,870.3L477.8,868.4L478.5,866.6L479.2,864.7L479.9,862.9L480.6,861.0L481.2,859.1L481.9,857.2L482.5,855.3L483.1,853.4L483.5,852.0L484.0,850.5L484.4,849.1L484.8,847.6L485.2,846.2L485.6,844.7L486.0,843.3L486.4,841.8L486.8,840.4L487.2,838.9L487.5,837.5L487.9,836.0L488.3,834.5L488.6,833.1L489.0,831.6L489.4,830.2L489.7,828.7L490.1,827.2L490.4,825.8L490.8,824.3L491.2,822.8L491.5,821.4L491.9,819.9L492.2,818.4L492.6,817.0L492.9,815.5L493.3,814.1L493.6,812.6L494.0,811.1L494.3,809.7L494.7,808.2L495.0,806.7L495.4,805.3L495.7,803.8L496.1,802.4L496.4,800.9L496.8,799.4L497.1,798.0L497.4,796.5L497.8,795.1L498.1,793.6L498.5,792.1L498.8,790.7L499.2,789.2L499.5,787.7L499.8,786.3L500.2,784.8L500.5,783.4L500.9,781.9L501.2,780.4L501.5,779.0L501.9,777.5L502.2,776.1L502.6,774.6L502.9,773.1L503.3,771.7L503.6,770.2L503.9,768.8L504.3,767.3L504.6,765.8L504.9,764.4L505.3,762.9L505.6,761.4L506.0,760.0L506.3,758.5L506.6,757.1L507.0,755.6L507.3,754.1L507.7,752.7L508.0,751.2L508.3,749.8L508.7,748.3L509.0,746.8L509.4,745.4L509.7,743.9L510.0,742.4L510.4,741.0L510.7,739.5L511.1,738.1L511.4,736.6L511.7,735.1L512.0,733.7L512.4,732.2L512.7,730.7L513.0,729.3L513.3,727.8L513.6,726.3L513.9,724.9L514.2,723.4L514.5,721.9L514.8,720.5L515.1,719.0L515.4,717.5L515.7,716.0L515.9,714.6L516.2,713.1L516.5,711.6L516.8,710.1L517.0,708.7L517.3,707.2L517.6,705.7L517.9,704.2L518.1,702.8L518.4,701.3L518.7,699.8L518.9,698.3L519.2,696.9L519.5,695.4L519.7,693.9L520.0,692.4L520.3,690.9L520.6,689.5L520.8,688.0L521.1,686.5L521.4,685.0L521.7,683.6L522.0,682.1L522.2,680.6L522.5,679.1L522.8,677.7L523.1,676.2L523.4,674.7L523.7,673.3L524.0,671.8L524.2,670.3L524.5,668.8L524.8,667.4L525.1,665.9L525.4,664.4L525.7,662.9L526.0,661.5L526.3,660.0L526.5,658.5L526.8,657.0L527.1,655.6L527.4,654.1L527.6,652.6L527.9,651.1L528.2,649.7L528.4,648.2L528.7,646.7L529.0,645.2L529.2,643.8L529.5,642.3L529.7,640.8L529.9,639.3L530.2,637.8L530.4,636.4L530.6,634.9L530.9,633.4L531.1,631.9L531.3,630.4L531.5,628.9L531.8,627.5L532.0,626.0L532.2,624.5L532.4,623.0L532.6,621.5L532.8,620.0L533.1,618.5L533.3,617.1L533.5,615.6L533.7,614.1L533.9,612.6L534.1,611.1L534.3,609.6L534.5,608.1L534.8,606.7L535.0,605.2L535.2,603.7L535.4,602.2L535.7,600.7L535.9,599.2L536.1,597.8L536.3,596.3L536.6,594.8L536.8,593.3L537.0,591.8L537.3,590.3L537.5,588.9L537.8,587.4L538.0,585.9L538.2,584.4L538.5,582.9L538.7,581.5L539.0,580.0L539.2,578.5L539.4,577.0L539.7,575.5L539.9,574.0L540.1,572.6L540.4,571.1L540.6,569.6L540.8,568.1L541.0,566.6L541.3,565.1L541.5,563.7L541.7,562.2L541.9,560.7L542.1,559.2L542.3,557.7L542.5,556.2L542.7,554.7L542.9,553.3L543.1,551.8L543.3,550.3L543.5,548.8L543.7,547.3L543.9,545.8L544.1,544.3L544.3,542.8L544.4,541.3L544.6,539.9L544.8,538.4L545.0,536.9L545.2,535.4L545.4,533.9L545.5,532.4L545.7,530.9L545.9,529.4L546.1,527.9L546.3,526.4L546.4,525.0L546.6,523.5L546.8,522.0L547.0,520.5L547.2,519.0L547.4,517.5L547.6,516.0L547.8,514.5L548.0,513.0L548.2,511.6L548.4,510.1L548.6,508.6L548.8,507.1L549.0,505.6L549.2,504.1L549.4,502.6L549.6,501.2L549.9,499.7L550.1,498.2L550.3,496.7L550.5,495.2L550.8,493.7L551.0,492.3L551.2,490.8L551.4,489.3L551.6,487.8L551.9,486.3L552.1,484.8L552.3,483.3L552.5,481.9L552.7,480.4L552.9,478.9L553.2,477.4L553.4,475.9L553.6,474.4L553.8,472.9L554.0,471.5L554.2,470.0L554.4,468.5L554.6,467.0L554.8,465.5L555.0,464.0L555.1,462.5L555.3,461.0L555.5,459.6L555.7,458.1L555.9,456.6L556.1,455.1L556.3,453.6L556.4,452.1L556.6,450.6L556.8,449.1L557.0,447.6L557.2,446.1L557.3,444.7L557.5,443.2L557.7,441.7L557.9,440.2L558.1,438.7L558.2,437.2L558.4,435.7L558.6,434.2L558.8,432.7L559.0,431.2L559.2,429.8L559.4,428.3L559.5,426.8L559.7,425.3L559.9,423.8L560.1,422.3L560.3,420.8L560.5,419.3L560.7,417.8L560.9,416.4L561.1,414.9L561.3,413.4L561.5,411.9L561.7,410.4L561.9,408.9L562.1,407.4L562.3,406.0L562.5,404.5L562.7,403.0L562.9,401.5L563.2,400.0L563.4,398.5L563.6,397.0L563.8,395.6L564.0,394.1L564.2,392.6L564.4,391.1L564.7,389.6L564.9,388.1L565.1,386.6L565.3,385.2L565.6,383.7L565.8,382.2L566.0,380.7L566.2,379.2L566.5,377.7L566.7,376.3L566.9,374.8L567.2,373.3L567.4,371.8L567.7,370.3L567.9,368.9L568.1,367.4L568.4,365.9L568.6,364.4L568.9,362.9L569.1,361.4L569.3,360.0L569.6,358.5L569.8,357.0L570.1,355.5L570.3,354.0L570.5,352.5L570.8,351.1L571.0,349.6L571.3,348.1L571.5,346.6L571.7,345.1L572.0,343.6L572.2,342.2L572.5,340.7L572.7,339.2L573.0,337.7L573.2,336.2L573.4,334.7L573.7,333.2L573.9,331.7L574.2,330.3L574.4,328.8L574.7,327.3L574.9,325.8L575.2,324.3L575.5,322.8L575.7,321.4L576.0,319.9L576.3,318.4L576.5,316.9L576.8,315.4L577.1,314.0L577.4,312.5L577.7,311.0L578.1,309.1L578.6,307.1L579.0,305.2L579.5,303.3L580.0,301.3L580.6,299.4L581.2,297.6L581.9,295.7L582.6,293.9L583.3,292.0L584.1,290.2L584.9,288.5L585.8,286.7L586.8,285.0L587.7,283.3L588.7,281.6L589.8,279.9L590.8,278.2L591.9,276.6L593.0,274.9L593.3,274.5L593.8,275.9L594.3,277.4L594.7,278.8L595.2,280.2L595.7,281.6L596.2,283.1L596.7,284.5L597.1,285.9L597.6,287.4L598.1,288.8L598.5,290.2L599.0,291.7L599.4,293.1L599.9,294.5L600.3,296.0L600.7,297.4L601.2,298.8L601.7,300.8L602.2,302.7L602.8,304.6L603.3,306.5L603.8,308.5L604.2,310.4L604.7,312.4L605.1,314.3L605.5,316.3L605.9,318.2L606.3,320.2L606.6,322.1L607.0,324.1L607.3,326.1L607.6,328.0L607.8,330.0L608.1,332.0L608.3,334.0L608.6,336.0L608.8,338.0L608.9,339.5L609.1,340.9L609.3,342.4L609.4,343.9L609.5,345.4L609.7,346.9L609.8,348.4L610.0,349.9L610.1,351.4L610.2,352.9L610.4,354.4L610.5,355.9L610.6,357.4L610.8,358.9L610.9,360.4L611.0,361.9L611.2,363.4L611.3,364.9L611.4,366.4L611.6,367.9L611.7,369.4L611.9,370.9L612.0,372.4L612.1,373.8L612.3,375.3L612.4,376.8L612.6,378.3L612.7,379.8L612.9,381.3L613.0,382.8L613.2,384.3L613.3,385.8L613.4,387.3L613.6,388.8L613.7,390.3L613.9,391.8L614.0,393.3L614.2,394.8L614.3,396.3L614.5,397.8L614.6,399.2L614.8,400.7L614.9,402.2L615.1,403.7L615.2,405.2L615.4,406.7L615.5,408.2L615.7,409.7L615.8,411.2L615.9,412.7L616.1,414.2L616.2,415.7L616.3,417.2L616.5,418.7L616.6,420.2L616.8,421.7L616.9,423.2L617.0,424.7L617.1,426.1L617.3,427.6L617.4,429.1L617.5,430.6L617.6,432.1L617.7,433.6L617.9,435.1L618.0,436.6L618.1,438.1L618.2,439.6L618.3,441.1L618.4,442.6L618.5,444.1L618.6,445.6L618.7,447.1L618.8,448.6L618.9,450.1L619.0,451.6L619.1,453.1L619.2,454.6L619.3,456.1L619.4,457.6L619.5,459.1L619.6,460.6L619.7,462.1L619.8,463.6L619.9,465.1L620.0,466.6L620.1,468.1L620.2,469.6L620.3,471.1L620.4,472.6L620.5,474.1L620.6,475.6L620.7,477.1L620.8,478.5L620.9,480.0L621.0,481.5L621.2,483.0L621.3,484.5L621.4,486.0L621.5,487.5L621.6,489.0L621.8,490.5L621.9,492.0L622.0,493.5L622.1,495.0L622.2,496.5L622.4,498.0L622.5,499.5L622.6,501.0L622.8,502.5L622.9,504.0L623.0,505.5L623.1,507.0L623.3,508.5L623.4,510.0L623.5,511.5L623.7,513.0L623.8,514.5L623.9,515.9L624.1,517.4L624.2,518.9L624.3,520.4L624.5,521.9L624.6,523.4L624.7,524.9L624.9,526.4L625.0,527.9L625.1,529.4L625.3,530.9L625.4,532.4L625.5,533.9L625.6,535.4L625.8,536.9L625.9,538.4L626.0,539.9L626.1,541.4L626.3,542.9L626.4,544.4L626.5,545.9L626.6,547.4L626.8,548.8L626.9,550.3L627.0,551.8L627.1,553.3L627.2,554.8L627.4,556.3L627.5,557.8L627.6,559.3L627.7,560.8L627.8,562.3L628.0,563.8L628.1,565.3L628.2,566.8L628.3,568.3L628.5,569.8L628.6,571.3L628.7,572.8L628.9,574.3L629.0,575.8L629.1,577.3L629.3,578.8L629.4,580.2L629.6,581.7L629.7,583.2L629.9,584.7L630.0,586.2L630.2,587.7L630.4,589.2L630.5,590.7L630.7,592.2L630.8,593.7L631.0,595.2L631.2,596.7L631.3,598.2L631.5,599.6L631.7,601.1L631.8,602.6L632.0,604.1L632.1,605.6L632.3,607.1L632.4,608.6L632.6,610.1L632.7,611.6L632.8,613.1L633.0,614.6L633.1,616.1L633.2,617.6L633.4,619.1L633.5,620.6L633.6,622.0L633.8,623.5L633.9,625.0L634.0,626.5L634.1,628.0L634.3,629.5L634.4,631.0L634.5,632.5L634.6,634.0L634.7,635.5L634.8,637.0L635.0,638.5L635.1,640.0L635.2,641.5L635.3,643.0L635.4,644.5L635.5,646.0L635.6,647.5L635.8,649.0L635.9,650.5L636.0,652.0L636.1,653.5L636.2,655.0L636.3,656.5L636.4,658.0L636.6,659.5L636.7,661.0L636.8,662.5L636.9,663.9L637.0,665.4L637.1,666.9L637.2,668.4L637.3,669.9L637.5,671.4L637.6,672.9L637.7,674.4L637.8,675.9L637.9,677.4L638.0,678.9L638.1,680.4L638.3,681.9L638.4,683.4L638.5,684.9L638.6,686.4L638.7,687.9L638.8,689.4L639.0,690.9L639.1,692.4L639.2,693.9L639.3,695.4L639.4,696.9L639.6,698.4L639.7,699.9L639.8,701.4L639.9,702.9L640.1,704.4L640.2,705.8L640.3,707.3L640.4,708.8L640.6,710.3L640.7,711.8L640.8,713.3L641.0,714.8L641.1,716.3L641.2,717.8L641.3,719.3L641.5,720.8L641.6,722.3L641.7,723.8L641.9,725.3L642.0,726.8L642.2,728.3L642.3,729.8L642.4,731.3L642.6,732.8L642.7,734.3L642.9,735.7L643.0,737.2L643.2,738.7L643.3,740.2L643.4,741.7L643.6,743.2L643.7,744.7L643.9,746.2L644.0,747.7L644.2,749.2L644.3,750.7L644.5,752.2L644.6,753.7L644.8,755.2L644.9,756.7L645.1,758.2L645.3,759.6L645.4,761.1L645.6,762.6L645.7,764.1L645.9,765.6L646.0,767.1L646.2,768.6L646.4,770.1L646.5,771.6L646.7,773.1L646.9,774.6L647.0,776.1L647.2,777.6L647.3,779.0L647.5,780.5L647.7,782.0L647.9,783.5L648.0,785.0L648.2,786.5L648.4,788.0L648.5,789.5L648.7,791.0L648.9,792.5L649.1,794.0L649.2,795.4L649.4,796.9L649.6,798.4L649.8,799.9L650.0,801.4L650.2,802.9L650.3,804.4L650.5,805.9L650.7,807.4L650.9,808.9L651.1,810.3L651.3,811.8L651.5,813.3L651.7,814.8L651.9,816.3L652.1,817.8L652.3,819.3L652.5,820.8L652.7,822.2L652.9,823.7L653.1,825.2L653.3,826.7L653.6,828.2L653.8,829.7L654.0,831.2L654.2,832.6L654.4,834.1L654.6,835.6L654.8,837.1L655.0,838.6L655.2,840.1L655.5,841.6L655.7,843.0L655.9,844.5L656.1,846.0L656.3,847.5L656.5,849.0L656.7,850.5L656.9,852.0L657.1,853.5L657.3,854.9L657.5,856.4L657.8,857.9L658.0,859.4L658.2,860.9L658.4,862.4L658.6,863.9L658.8,865.4L659.0,866.8L659.2,868.3L659.4,869.8L659.6,871.3L659.8,872.8L660.0,874.3L660.2,875.8L660.4,877.2L660.7,878.7L660.9,880.2L661.1,881.7L661.3,883.2L661.5,884.7L661.7,886.2L662.0,887.6L662.2,889.1L662.4,890.6L662.7,892.1L662.9,893.6L663.1,895.1L663.4,896.5L663.6,898.0L663.9,899.5L664.1,901.0L664.4,902.5L664.6,903.9L664.9,905.4L665.2,906.9L665.4,908.4L665.7,909.8L666.0,911.3L666.3,912.8L666.5,914.3L666.8,915.7L667.1,917.2L667.4,918.7L667.7,920.2L668.0,921.6L668.3,923.1L668.6,924.6L668.9,926.0L669.2,927.5L669.5,929.0L669.9,930.4L670.2,931.9L670.5,933.4L670.8,934.8L671.2,936.3L671.5,937.8L671.9,939.2L672.2,940.7L672.5,942.1L672.9,943.6L673.3,945.1L673.6,946.5L674.0,948.0L674.3,949.4L674.7,950.9L675.1,952.3L675.4,953.8L675.8,955.3L676.2,956.7L676.6,958.2L676.9,959.6L677.3,961.1L677.7,962.5L678.1,964.0L678.5,965.5L678.8,966.9L679.2,968.4L679.6,969.8L680.0,971.3L680.4,972.7L680.8,974.2L681.2,975.7L681.6,977.1L681.9,978.6L682.3,980.0L682.7,981.5L683.1,983.0L683.5,984.4L683.9,985.9L684.3,987.3L684.7,988.8L685.2,990.2L685.6,991.7L686.0,993.1L686.5,994.5L687.0,996.0L687.4,997.4L687.9,998.8L688.6,1000.7L689.3,1002.6L690.1,1004.4L690.8,1006.3L691.6,1008.1L692.5,1009.9L693.4,1011.7L694.3,1013.4L695.0,1014.8L695.8,1016.1L696.6,1017.3L697.4,1018.6L698.2,1019.9L699.0,1021.1L699.9,1022.4L700.8,1023.6L701.7,1024.8L702.6,1026.0L703.6,1027.2L704.5,1028.3L705.5,1029.5L706.5,1030.6L707.6,1031.7L708.6,1032.8L709.7,1033.8L710.8,1034.9L711.9,1035.9L713.0,1036.9L714.2,1037.9L715.3,1038.9L716.5,1039.9L717.7,1040.8L718.9,1041.7L720.2,1042.6L721.4,1043.4L722.7,1044.3L723.9,1045.1L725.2,1045.9L726.5,1046.7L727.9,1047.4L729.2,1048.1L730.5,1048.8L731.9,1049.5L733.3,1050.1L734.7,1050.8L736.0,1051.4L737.4,1052.0L738.8,1052.5L740.3,1053.1L741.7,1053.6L743.1,1054.1L744.6,1054.5L746.0,1055.0L747.5,1055.4L748.9,1055.8L750.4,1056.1L751.8,1056.4L753.8,1056.8L755.8,1057.2L757.7,1057.4L759.7,1057.7L761.7,1057.8L763.7,1057.9L765.6,1057.9L767.6,1057.9L769.6,1057.8L771.5,1057.6L773.5,1057.4L775.5,1057.1L777.5,1056.8L778.9,1056.6L780.4,1056.3L781.9,1056.0L783.4,1055.8L784.9,1055.5L786.4,1055.2L787.9,1054.9L789.4,1054.6L790.9,1054.3L792.4,1054.0L793.9,1053.7L795.4,1053.4L797.0,1053.1L798.5,1052.9L800.0,1052.6L801.5,1052.3L803.1,1052.1L804.6,1051.8L806.1,1051.6L807.7,1051.3L809.2,1051.1L810.8,1050.9L812.3,1050.7L813.9,1050.4L815.4,1050.2L816.9,1050.0L818.4,1049.7L820.0,1049.4L821.5,1049.1L822.9,1048.8L824.4,1048.5L826.3,1048.0L828.2,1047.5L830.1,1046.9L831.9,1046.3L833.6,1045.5L835.3,1044.7L836.9,1043.8L838.5,1042.9L840.0,1041.8L841.4,1040.6L842.8,1039.3L844.1,1037.9L845.3,1036.5L846.5,1035.0L847.6,1033.4L848.7,1031.8L849.7,1030.1L850.7,1028.3L851.4,1027.0L852.0,1025.6L852.7,1024.2L853.3,1022.8L853.9,1021.4L854.5,1020.0L855.0,1018.6L855.5,1017.1L856.1,1015.7L856.6,1014.2L857.0,1012.8L857.5,1011.3L858.0,1009.8L858.4,1008.3L858.9,1006.9L859.3,1005.4L859.7,1003.9L860.1,1002.4L860.5,1000.9L860.9,999.4L861.3,998.0L861.7,996.5L862.1,995.0L862.6,993.5L863.0,992.1L863.4,990.6L863.8,989.1L864.2,987.7L864.6,986.2L865.1,984.7L865.5,983.3L865.9,981.8L866.3,980.4L866.8,978.9L867.2,977.5L867.6,976.0L868.1,974.6L868.5,973.2L868.9,971.7L869.3,970.3L869.7,968.8L870.1,967.4L870.7,965.5L871.2,963.5L871.8,961.6L872.3,959.7L872.8,957.8L873.3,955.8L873.8,953.9L874.3,952.0L874.7,950.0L875.2,948.1L875.7,946.1L876.1,944.2L876.5,942.2L877.0,940.3L877.4,938.3L877.8,936.4L878.3,934.4L878.7,932.5L879.0,931.0L879.3,929.5L879.6,928.1L879.9,926.6L880.2,925.1L880.5,923.7L880.8,922.2L881.1,920.7L881.4,919.2L881.7,917.8L882.0,916.3L882.3,914.8L882.6,913.3L882.9,911.9L883.2,910.4L883.5,908.9L883.8,907.4L884.1,906.0L884.4,904.5L884.7,903.0L885.0,901.5L885.3,900.1L885.6,898.6L885.9,897.1L886.2,895.6L886.5,894.2L886.8,892.7L887.1,891.2L887.4,889.7L887.7,888.3L888.0,886.8L888.3,885.3L888.6,883.9L889.0,882.4L889.3,880.9L889.6,879.5L890.0,878.0L890.3,876.5L890.8,874.6L891.3,872.7L891.9,870.7L892.4,868.8L893.0,866.9L893.5,865.0L894.2,863.1L894.8,861.3L895.5,859.4L896.2,857.6L897.0,855.7L897.7,853.9L898.6,852.2L899.5,850.4L900.4,848.7L901.4,846.9L902.4,845.2L903.4,843.5L904.5,841.9L905.6,840.2L906.7,838.5L907.8,836.9L909.0,835.3L909.8,834.0L910.7,832.8L911.6,831.6L911.8,831.2L912.8,832.9L913.8,834.7L914.8,836.4L915.7,838.2L916.7,839.9L917.6,841.7L918.5,843.5L919.4,845.2L920.2,847.0L921.0,848.8L921.8,850.7L922.6,852.5L923.3,854.3L924.0,856.2L924.7,858.1L925.3,860.0L925.9,861.8L926.4,863.8L927.0,865.7L927.5,867.6L928.0,869.5L928.5,871.5L929.0,873.4L929.4,875.3L929.9,877.3L930.2,878.8L930.5,880.2L930.8,881.7L931.2,883.2L931.5,884.6L931.8,886.1L932.1,887.6L932.4,889.0L932.7,890.5L933.0,892.0L933.3,893.5L933.6,894.9L933.9,896.4L934.2,897.9L934.5,899.4L934.8,900.8L935.1,902.3L935.4,903.8L935.7,905.3L936.0,906.7L936.2,908.2L936.5,909.7L936.9,911.1L937.2,912.6L937.5,914.1L937.8,915.6L938.1,917.0L938.4,918.5L938.7,920.0L939.1,921.9L939.5,923.9L939.9,925.8L940.3,927.8L940.7,929.8L941.1,931.7L941.4,933.7L941.8,935.6L942.1,937.6L942.5,939.6L942.8,941.5L943.1,943.5L943.4,945.5L943.7,947.5L944.0,949.4L944.3,951.4L944.6,953.4L944.9,955.4L945.2,957.3L945.5,959.3L945.9,961.3L946.2,963.2L946.5,965.2L946.9,967.2L947.3,969.1L947.6,971.1L948.0,973.1L948.5,975.0L948.8,976.5L949.1,978.0L949.4,979.4L949.8,980.9L950.1,982.3L950.5,983.8L950.9,985.3L951.2,986.7L951.6,988.2L952.0,989.7L952.4,991.1L952.8,992.6L953.2,994.1L953.6,995.5L954.0,997.0L954.4,998.5L954.9,999.9L955.3,1001.4L955.7,1002.9L956.2,1004.3L956.7,1005.8L957.1,1007.2L957.6,1008.7L958.1,1010.2L958.6,1011.6L959.2,1013.1L959.7,1014.5L960.3,1016.0L960.8,1017.4L961.4,1018.9L962.0,1020.3L962.6,1021.7L963.2,1023.2L963.9,1024.6L964.5,1026.0L965.2,1027.4L965.9,1028.8L966.6,1030.1L967.4,1031.5L968.1,1032.8L968.9,1034.1L969.8,1035.4L970.6,1036.6L971.8,1038.2L973.0,1039.8L974.3,1041.3L975.6,1042.6L977.0,1043.9L978.4,1045.1L979.9,1046.2L981.4,1047.1L983.0,1047.9L984.7,1048.6L986.4,1049.0L988.2,1049.4L990.0,1049.6L991.8,1049.7L993.7,1049.7L995.6,1049.6L997.6,1049.5L999.5,1049.4L1001.5,1049.2L1003.4,1049.1L1005.4,1049.0L1007.3,1048.9L1009.2,1048.9L1011.1,1049.0L1013.0,1049.1L1014.8,1049.4L1016.6,1049.8L1018.3,1050.3L1020.0,1050.9L1021.7,1051.7L1023.3,1052.5L1024.8,1053.4L1026.3,1054.4L1027.8,1055.5L1029.2,1056.8L1030.5,1058.0L1031.8,1059.4L1033.0,1060.9L1034.2,1062.4L1035.4,1063.9L1036.5,1065.5L1037.6,1067.2L1038.5,1068.4L1039.3,1069.7L1040.1,1070.9L1041.0,1072.2L1041.8,1073.5L1042.7,1074.8L1043.5,1076.0L1044.4,1077.3L1045.3,1078.5L1046.2,1079.8L1047.1,1081.0L1048.0,1082.2L1048.9,1083.4L1049.9,1084.6L1050.8,1085.8L1051.8,1087.0L1052.8,1088.1L1053.8,1089.3L1054.8,1090.4L1055.8,1091.5L1056.9,1092.6L1057.9,1093.7L1059.0,1094.8L1060.1,1095.8L1061.1,1096.9L1062.2,1097.9L1063.4,1098.9L1064.5,1099.9L1065.6,1100.9L1066.8,1101.8L1068.0,1102.8L1069.1,1103.7L1070.7,1104.9L1072.3,1106.1L1074.0,1107.2L1075.6,1108.4L1077.3,1109.5L1079.0,1110.5L1080.7,1111.6L1082.4,1112.6L1084.2,1113.5L1085.9,1114.5L1087.2,1115.2L1088.6,1115.9L1089.9,1116.5L1091.3,1117.2L1092.6,1117.8L1094.0,1118.5L1095.4,1119.1L1096.8,1119.7L1098.1,1120.3L1099.5,1120.8L1100.9,1121.4L1102.3,1121.9L1103.7,1122.5L1105.1,1123.0L1106.6,1123.5L1108.0,1124.0L1109.4,1124.5L1110.8,1125.0L1112.3,1125.4L1113.7,1125.9L1115.1,1126.3L1116.6,1126.7L1118.0,1127.1L1119.5,1127.5L1120.9,1127.9L1122.4,1128.3L1123.9,1128.7L1125.3,1129.0L1126.8,1129.4L1128.3,1129.7L1129.7,1130.0L1131.2,1130.3L1132.7,1130.6L1134.1,1130.9L1135.6,1131.1L1137.6,1131.5L1139.6,1131.8L1141.5,1132.1L1143.5,1132.4L1145.5,1132.7L1147.5,1132.9L1149.5,1133.2L1150.9,1133.3L1152.4,1133.5L1153.9,1133.7L1155.4,1133.8L1156.9,1133.9L1158.4,1134.1L1159.9,1134.2L1161.4,1134.3L1162.9,1134.4L1164.4,1134.5L1165.9,1134.6L1167.4,1134.7L1168.9,1134.8L1170.4,1134.8L1171.9,1134.9L1173.4,1135.0L1174.9,1135.0L1176.4,1135.1L1177.9,1135.1L1179.5,1135.2L1181.0,1135.2L1182.5,1135.2L1184.0,1135.3L1185.5,1135.3L1187.0,1135.3L1188.5,1135.4L1190.0,1135.4L1191.5,1135.4L1193.0,1135.4L1194.5,1135.4L1196.0,1135.4L1197.5,1135.4L1199.0,1135.4L1200.6,1135.4L1202.1,1135.4L1203.6,1135.4L1205.1,1135.4L1206.6,1135.4L1208.1,1135.4L1209.6,1135.4L1211.1,1135.4L1212.6,1135.4L1214.1,1135.4L1215.6,1135.4L1217.1,1135.4L1218.6,1135.4L1220.1,1135.4L1221.6,1135.4L1223.1,1135.4L1224.6,1135.4L1226.1,1135.4L1227.6,1135.4L1229.1,1135.4L1230.6,1135.4L1232.1,1135.4L1233.6,1135.4L1235.1,1135.4L1236.6,1135.4L1238.1,1135.4L1239.6,1135.4L1241.1,1135.4L1243.1,1135.4L1245.1,1135.4L1247.1,1135.4L1249.1,1135.4L1251.1,1135.4L1253.1,1135.5L1255.1,1135.5L1257.1,1135.5L1259.1,1135.6L1261.1,1135.6L1263.1,1135.6L1265.1,1135.7L1267.1,1135.7L1269.1,1135.8L1271.1,1135.9L1273.1,1135.9L1275.1,1136.0L1277.1,1136.1L1279.1,1136.2L1281.1,1136.3L1282.6,1136.3L1284.1,1136.4L1285.6,1136.5L1287.1,1136.6L1288.6,1136.7L1290.1,1136.8L1291.6,1136.8L1293.1,1136.9L1294.6,1137.0L1296.1,1137.1L1297.6,1137.2L1299.1,1137.3L1300.6,1137.4L1302.1,1137.5L1303.6,1137.6L1305.1,1137.7L1306.6,1137.8L1308.1,1137.9L1309.6,1137.9L1311.1,1138.0L1312.6,1138.1L1314.1,1138.2L1315.6,1138.3L1317.1,1138.4L1318.6,1138.5L1320.1,1138.6L1321.6,1138.7L1323.1,1138.7L1324.6,1138.8L1326.1,1138.9L1327.6,1139.0L1329.1,1139.0L1330.6,1139.1L1332.1,1139.2L1333.6,1139.2L1335.1,1139.3L1336.6,1139.4L1338.1,1139.4L1339.6,1139.5L1341.1,1139.5L1342.6,1139.5L1344.1,1139.6L1346.1,1139.6L1348.1,1139.6L1350.1,1139.7L1352.1,1139.7L1354.1,1139.7L1355.6,1139.7L1357.1,1139.7L1358.6,1139.7L1360.1,1139.7L1361.6,1139.6L1363.1,1139.6L1364.6,1139.6L1366.1,1139.6L1367.6,1139.5L1369.1,1139.5L1370.6,1139.5L1372.1,1139.4L1373.6,1139.4L1375.1,1139.3L1376.6,1139.3L1378.1,1139.3L1379.6,1139.2L1381.1,1139.2L1382.6,1139.1L1384.1,1139.1L1385.6,1139.0L1387.1,1139.0L1388.6,1138.9L1390.1,1138.9L1391.6,1138.8L1393.1,1138.8L1394.6,1138.7L1396.1,1138.7L1397.6,1138.6L1399.1,1138.6L1400.6,1138.5L1402.1,1138.5L1403.6,1138.4L1405.1,1138.4L1406.6,1138.3L1408.1,1138.3L1409.6,1138.3L1411.1,1138.2L1412.6,1138.2L1414.1,1138.2L1415.6,1138.2L1417.1,1138.1L1418.6,1138.1L1420.1,1138.1L1421.6,1138.1L1423.1,1138.1L1424.6,1138.1L1426.1,1138.1L1427.6,1138.1L1429.1,1138.1L1430.6,1138.1L1432.1,1138.1L1433.6,1138.2L1435.1,1138.2L1436.6,1138.2L1438.1,1138.2L1439.6,1138.3L1441.1,1138.3L1442.6,1138.4L1444.1,1138.4L1445.6,1138.4L1447.1,1138.5L1448.6,1138.5L1450.1,1138.6L1451.6,1138.6L1453.1,1138.7L1454.6,1138.8L1456.1,1138.8L1457.6,1138.9L1459.1,1138.9L1460.6,1139.0L1462.1,1139.1L1463.6,1139.1L1465.1,1139.2L1466.6,1139.3L1468.1,1139.4L1469.6,1139.4L1471.1,1139.5L1472.6,1139.6L1474.1,1139.7L1475.6,1139.7L1477.1,1139.8L1478.6,1139.9L1480.1,1140.0L1481.6,1140.1L1483.1,1140.1L1484.6,1140.2L1486.1,1140.3L1487.6,1140.4L1489.1,1140.5L1490.6,1140.5L1492.1,1140.6L1493.6,1140.7L1495.1,1140.8L1496.6,1140.9L1498.1,1140.9L1499.6,1141.0L1501.1,1141.1L1502.6,1141.2L1504.1,1141.2L1505.6,1141.3L1507.1,1141.4L1508.6,1141.5L1510.1,1141.5L1511.6,1141.6L1513.1,1141.7L1514.6,1141.8L1516.1,1141.8L1517.6,1141.9L1519.1,1142.0L1520.6,1142.1L1522.1,1142.1L1523.6,1142.2L1525.1,1142.3L1526.6,1142.3L1528.0,1142.4L1529.5,1142.5L1531.0,1142.5L1532.5,1142.6L1534.0,1142.6L1535.5,1142.7L1537.0,1142.8L1538.5,1142.8L1540.0,1142.9L1541.5,1143.0L1543.0,1143.0L1544.5,1143.1L1546.0,1143.1L1547.5,1143.2L1549.0,1143.2L1550.5,1143.3L1552.0,1143.4L1553.5,1143.4L1555.0,1143.5L1556.5,1143.5L1558.0,1143.6L1559.5,1143.6L1561.0,1143.7L1562.5,1143.7L1564.0,1143.7L1565.5,1143.8L1567.0,1143.8L1568.5,1143.9L1570.0,1143.9L1571.5,1144.0L1573.0,1144.0L1574.5,1144.0L1576.0,1144.1L1577.5,1144.1L1579.0,1144.2L1580.5,1144.2L1582.0,1144.2L1583.5,1144.3L1585.0,1144.3L1586.5,1144.3L1588.0,1144.4L1589.5,1144.4L1591.0,1144.4L1592.5,1144.5L1594.0,1144.5L1595.5,1144.5L1597.0,1144.5L1598.5,1144.6L1600.0,1144.6L1601.5,1144.6L1603.0,1144.6L1604.5,1144.7L1606.0,1144.7L1607.5,1144.7L1609.1,1144.7L1610.6,1144.8L1612.1,1144.8L1613.6,1144.8L1615.1,1144.8L1616.6,1144.9L1618.1,1144.9L1619.6,1144.9L1621.1,1144.9L1622.6,1144.9L1624.1,1145.0L1625.6,1145.0L1627.1,1145.0L1628.6,1145.0L1630.1,1145.0L1631.6,1145.1L1633.1,1145.1L1634.6,1145.1L1636.1,1145.1L1637.6,1145.1L1639.1,1145.2L1640.6,1145.2L1642.1,1145.2L1643.6,1145.2L1645.1,1145.2L1646.6,1145.2L1648.1,1145.3L1649.6,1145.3L1651.1,1145.3L1652.6,1145.3L1654.1,1145.3L1655.6,1145.4L1657.1,1145.4L1658.6,1145.4L1660.1,1145.4L1661.6,1145.4L1663.1,1145.5L1664.6,1145.5L1666.1,1145.5L1667.6,1145.5L1669.1,1145.5L1670.6,1145.5L1672.1,1145.6L1673.6,1145.6L1675.1,1145.6L1676.6,1145.6L1678.1,1145.6L1679.6,1145.7L1681.1,1145.7L1682.6,1145.7L1684.1,1145.7L1685.6,1145.7L1687.1,1145.7L1688.6,1145.8L1690.1,1145.8L1691.6,1145.8L1693.1,1145.8L1694.6,1145.8L1696.1,1145.9L1697.6,1145.9L1699.1,1145.9L1700.6,1145.9L1702.1,1145.9L1703.6,1145.9L1705.1,1146.0L1706.6,1146.0L1708.1,1146.0L1709.6,1146.0L1711.1,1146.0L1712.1,1146.0" fill="none" stroke="#ff0000" stroke-width="10.0" stroke-linejoin="round" stroke-linecap="butt"/>
<ellipse cx="257.1" cy="955.2" rx="15.7" ry="15.3" fill="#ff0000"/>
<ellipse cx="329.9" cy="979.2" rx="15.7" ry="15.3" fill="#ff0000"/>
<ellipse cx="402.6" cy="970.4" rx="15.7" ry="15.3" fill="#ff0000"/>
<ellipse cx="475.4" cy="874.6" rx="15.7" ry="15.3" fill="#ff0000"/>
<ellipse cx="548.1" cy="511.7" rx="15.7" ry="15.3" fill="#ff0000"/>
<ellipse cx="620.9" cy="479.2" rx="15.7" ry="15.3" fill="#ff0000"/>
<ellipse cx="693.6" cy="1012.4" rx="15.7" ry="15.3" fill="#ff0000"/>
<ellipse cx="766.4" cy="1058.3" rx="15.7" ry="15.3" fill="#ff0000"/>
<ellipse cx="839.1" cy="1043.3" rx="15.7" ry="15.3" fill="#ff0000"/>
<ellipse cx="911.9" cy="831.2" rx="15.7" ry="15.3" fill="#ff0000"/>
<ellipse cx="984.6" cy="1050.0" rx="15.7" ry="15.3" fill="#ff0000"/>
<ellipse cx="1057.3" cy="1093.2" rx="15.7" ry="15.3" fill="#ff0000"/>
<ellipse cx="1130.1" cy="1130.1" rx="15.7" ry="15.3" fill="#ff0000"/>
<ellipse cx="1202.8" cy="1135.4" rx="15.7" ry="15.3" fill="#ff0000"/>
<ellipse cx="1275.6" cy="1136.0" rx="15.7" ry="15.3" fill="#ff0000"/>
<ellipse cx="1348.3" cy="1139.7" rx="15.7" ry="15.3" fill="#ff0000"/>
<ellipse cx="1421.1" cy="1138.1" rx="15.7" ry="15.3" fill="#ff0000"/>
<ellipse cx="1493.8" cy="1140.7" rx="15.7" ry="15.3" fill="#ff0000"/>
<ellipse cx="1566.6" cy="1143.8" rx="15.7" ry="15.3" fill="#ff0000"/>
<ellipse cx="1639.3" cy="1145.2" rx="15.7" ry="15.3" fill="#ff0000"/>
<ellipse cx="1712.1" cy="1146.0" rx="15.7" ry="15.3" fill="#ff0000"/>
<path d="M257.1,827.0L258.6,827.3L260.1,827.5L261.6,827.8L263.1,828.0L264.6,828.3L266.0,828.5L267.5,828.8L269.0,829.0L270.5,829.3L272.0,829.5L273.5,829.7L275.0,830.0L276.5,830.2L278.0,830.4L279.5,830.7L281.0,830.9L282.5,831.1L284.0,831.3L285.4,831.5L286.9,831.7L288.4,831.9L289.9,832.1L291.4,832.3L292.9,832.5L294.4,832.7L295.9,832.8L297.4,833.0L298.9,833.2L300.4,833.3L301.9,833.5L303.4,833.6L305.4,833.8L307.3,833.9L309.3,834.1L311.3,834.2L313.3,834.3L315.3,834.4L317.3,834.5L319.3,834.6L321.3,834.6L323.3,834.7L325.3,834.7L327.3,834.7L329.3,834.6L331.3,834.6L333.3,834.5L335.3,834.4L337.3,834.3L338.8,834.2L340.3,834.1L341.8,834.0L343.3,833.9L344.7,833.8L346.2,833.7L347.7,833.5L349.2,833.4L350.7,833.3L352.2,833.1L353.7,833.0L355.2,832.8L356.7,832.7L358.2,832.5L359.7,832.4L361.2,832.2L362.7,832.1L364.2,831.9L365.7,831.8L367.2,831.6L368.7,831.5L370.2,831.3L371.7,831.2L373.2,831.0L374.7,830.9L376.2,830.8L377.7,830.6L379.2,830.5L380.7,830.4L382.2,830.3L383.7,830.2L385.2,830.1L387.2,830.0L389.2,830.0L391.2,829.9L393.2,829.9L395.2,829.8L397.2,829.8L399.2,829.9L401.2,829.9L403.2,830.0L405.2,830.1L407.2,830.3L409.2,830.4L410.6,830.6L412.1,830.7L413.6,830.9L415.1,831.0L416.6,831.2L418.1,831.4L419.6,831.6L421.1,831.8L422.6,832.0L424.1,832.2L425.6,832.4L427.1,832.6L428.6,832.8L430.1,833.1L431.6,833.3L433.1,833.5L434.6,833.7L436.0,833.9L437.5,834.2L439.0,834.4L440.5,834.6L442.0,834.8L443.5,835.0L445.0,835.2L446.5,835.4L448.0,835.6L449.5,835.8L451.0,836.0L452.5,836.1L454.0,836.3L455.5,836.4L457.0,836.5L458.5,836.6L460.0,836.7L461.5,836.8L463.0,836.9L464.5,837.0L466.0,837.0L467.5,837.0L469.0,837.0L470.5,837.0L472.0,837.0L473.6,836.9L475.1,836.8L476.6,836.7L478.1,836.6L479.6,836.4L481.1,836.3L482.6,836.1L484.1,835.8L485.6,835.6L487.1,835.3L488.5,835.0L490.0,834.7L491.5,834.3L493.4,833.7L495.3,833.1L497.1,832.5L499.0,831.7L500.8,830.9L502.5,830.1L504.2,829.1L505.9,828.1L507.5,827.0L509.1,825.9L510.6,824.7L512.1,823.4L513.5,822.1L514.8,820.7L516.1,819.2L517.4,817.7L518.5,816.1L519.7,814.5L520.7,812.9L521.7,811.2L522.7,809.5L523.6,807.7L524.5,805.9L525.1,804.5L525.7,803.1L526.3,801.7L526.8,800.3L527.3,798.9L527.9,797.5L528.3,796.1L528.8,794.6L529.3,793.2L529.7,791.7L530.2,790.3L530.6,788.8L531.0,787.3L531.4,785.9L531.8,784.4L532.2,782.9L532.5,781.4L532.9,780.0L533.2,778.5L533.6,777.0L533.9,775.5L534.3,774.0L534.6,772.6L534.9,771.1L535.2,769.6L535.6,768.1L535.9,766.6L536.2,765.1L536.5,763.7L536.8,762.2L537.1,760.7L537.4,759.2L537.7,757.8L538.0,756.3L538.3,754.8L538.6,753.3L539.0,751.9L539.3,750.4L539.6,748.9L539.9,747.4L540.2,746.0L540.5,744.5L540.9,743.0L541.2,741.6L541.5,740.1L541.9,738.6L542.2,737.2L542.6,735.7L542.9,734.3L543.4,732.3L543.9,730.4L544.4,728.5L545.0,726.5L545.5,724.6L546.1,722.7L546.7,720.8L547.3,718.9L547.9,717.0L548.6,715.1L549.3,713.3L550.0,711.4L550.7,709.5L551.5,707.7L552.3,705.8L552.9,704.5L553.5,703.1L554.1,701.7L554.7,700.3L555.3,699.0L555.9,697.6L556.6,696.2L557.2,694.9L557.8,693.5L558.4,692.1L559.1,690.8L559.7,689.4L560.3,688.0L560.9,686.6L561.6,685.3L562.2,683.9L562.8,682.5L563.4,681.1L564.0,679.8L564.6,678.4L565.2,677.0L565.8,675.6L566.3,674.2L566.9,672.8L567.5,671.4L568.0,670.0L568.5,668.6L569.1,667.2L569.6,665.8L570.1,664.4L570.6,663.0L571.3,661.1L571.9,659.2L572.5,657.3L573.1,655.4L573.7,653.5L574.3,651.6L574.8,649.6L575.3,647.7L575.8,645.8L576.3,643.9L576.7,641.9L577.1,640.0L577.5,638.0L577.9,636.0L578.2,634.1L578.5,632.1L578.8,630.1L579.1,628.2L579.4,626.2L579.6,624.7L579.8,623.2L580.0,621.7L580.1,620.2L580.3,618.7L580.5,617.2L580.6,615.7L580.8,614.2L580.9,612.7L581.1,611.2L581.2,609.7L581.3,608.2L581.5,606.7L581.6,605.2L581.8,603.7L581.9,602.2L582.0,600.7L582.2,599.3L582.3,597.8L582.5,596.3L582.6,594.8L582.7,593.3L582.9,591.8L583.0,590.3L583.2,588.8L583.3,587.3L583.5,585.8L583.6,584.3L583.8,582.8L583.9,581.3L584.1,579.8L584.2,578.3L584.3,576.8L584.5,575.3L584.6,573.8L584.8,572.3L584.9,570.8L585.1,569.3L585.2,567.8L585.4,566.3L585.5,564.8L585.7,563.4L585.8,561.9L586.0,560.4L586.1,558.9L586.3,557.4L586.4,555.9L586.6,554.4L586.7,552.9L586.9,551.4L587.0,549.9L587.1,548.4L587.3,546.9L587.4,545.4L587.5,543.9L587.7,542.4L587.8,540.9L587.9,539.4L588.0,537.9L588.2,536.4L588.3,534.9L588.4,533.5L588.5,532.0L588.6,530.5L588.7,529.0L588.8,527.5L589.0,526.0L589.1,524.5L589.2,523.0L589.3,521.5L589.4,520.0L589.5,518.5L589.6,517.0L589.7,515.5L589.8,514.0L589.9,512.5L590.0,511.0L590.1,509.5L590.3,508.0L590.4,506.5L590.5,505.0L590.6,503.5L590.7,502.0L590.8,500.5L590.9,499.0L591.0,497.5L591.1,496.0L591.2,494.5L591.4,493.0L591.5,491.5L591.6,490.0L591.7,488.5L591.8,487.0L591.9,485.5L592.0,484.0L592.2,482.5L592.3,481.0L592.4,479.5L592.5,478.0L592.6,476.6L592.7,475.1L592.8,473.6L592.9,472.1L593.0,470.6L593.1,469.1L593.2,467.6L593.3,466.1L593.4,464.6L593.5,463.1L593.6,461.6L593.7,460.1L593.8,458.6L593.9,457.1L594.0,455.6L594.1,454.1L594.2,452.6L594.3,451.1L594.4,449.6L594.5,448.1L594.5,446.6L594.6,445.1L594.7,443.6L594.8,442.1L594.9,440.6L595.0,439.1L595.1,437.6L595.2,436.1L595.3,434.6L595.4,433.1L595.5,431.6L595.6,430.1L595.7,428.6L595.8,427.1L595.9,425.6L596.0,424.1L596.1,422.6L596.2,421.1L596.3,419.6L596.4,418.1L596.5,416.6L596.6,415.1L596.7,413.6L596.8,412.1L596.9,410.6L597.0,409.1L597.1,407.6L597.2,406.1L597.3,404.6L597.4,403.1L597.5,401.6L597.6,400.1L597.7,398.6L597.8,397.1L597.9,395.6L598.0,394.1L598.1,392.6L598.2,391.1L598.3,389.7L598.4,388.2L598.5,386.7L598.6,385.2L598.7,383.7L598.8,382.2L598.9,380.7L599.0,379.2L599.1,377.7L599.2,376.2L599.3,374.7L599.4,373.2L599.4,371.7L599.5,370.2L599.6,368.7L599.7,367.2L599.8,365.7L599.9,364.2L600.0,362.7L600.1,361.2L600.1,359.7L600.2,358.2L600.3,356.7L600.4,355.2L600.5,353.7L600.6,352.2L600.6,350.7L600.7,349.2L600.8,347.7L600.9,346.2L600.9,344.7L601.0,343.2L601.1,341.7L601.2,340.2L601.2,338.7L601.3,337.2L601.4,335.7L601.5,334.2L601.5,332.7L601.6,331.2L601.7,329.7L601.8,328.2L601.8,326.7L601.9,325.2L602.0,323.7L602.0,322.2L602.1,320.7L602.2,319.2L602.3,317.7L602.4,316.2L602.4,314.7L602.5,313.2L602.6,311.7L602.7,310.2L602.8,308.7L602.8,307.2L602.9,305.7L603.0,304.2L603.1,302.7L603.2,301.2L603.3,299.7L603.4,298.2L603.5,296.7L603.6,295.2L603.7,293.7L603.8,292.2L603.9,290.7L604.0,289.2L604.1,287.7L604.2,286.2L604.3,284.7L604.4,283.2L604.5,281.7L604.6,280.2L604.7,278.7L604.8,277.2L604.9,275.7L605.0,274.2L605.1,272.7L605.2,271.2L605.3,269.7L605.4,268.2L605.5,266.7L605.6,265.2L605.7,263.7L605.8,262.2L605.9,260.7L606.0,259.3L606.1,257.8L606.2,256.3L606.2,254.8L606.3,253.3L606.4,251.8L606.5,250.3L606.6,248.8L606.7,247.3L606.8,245.8L606.9,244.3L607.0,242.8L607.1,241.3L607.1,239.8L607.2,238.2L607.3,236.7L607.4,235.2L607.5,233.7L607.6,232.2L607.7,230.7L607.8,229.2L607.8,227.7L607.9,226.2L608.0,224.7L608.1,223.2L608.2,221.7L608.3,220.2L608.4,218.7L608.5,217.2L608.6,215.7L608.7,214.2L608.8,212.7L608.9,211.2L609.0,209.7L609.1,208.2L609.2,206.7L609.3,205.2L609.4,203.6L609.6,202.1L609.7,200.7L609.9,199.2L610.0,197.7L610.2,196.2L610.4,194.2L610.6,192.2L610.9,190.2L611.2,188.3L611.5,186.3L611.8,184.3L612.1,182.4L612.5,180.5L612.9,178.5L613.3,176.6L613.7,174.7L614.2,172.8L614.7,170.9L615.3,169.0L615.9,167.2L616.5,165.3L617.1,163.5L617.8,161.7L618.3,160.3L619.0,162.0L619.7,163.7L620.4,165.4L621.0,167.2L621.5,169.0L622.1,170.9L622.5,172.7L623.0,174.6L623.4,176.5L623.7,178.4L624.1,180.3L624.4,182.3L624.7,184.2L625.0,186.2L625.2,188.2L625.5,190.1L625.7,192.1L625.8,193.6L626.0,195.1L626.1,196.6L626.3,198.1L626.4,199.6L626.6,201.1L626.7,202.6L626.8,204.1L626.9,205.6L627.0,207.2L627.1,208.7L627.2,210.2L627.3,211.7L627.4,213.2L627.5,214.7L627.6,216.2L627.7,217.8L627.8,219.3L627.9,220.8L628.0,222.3L628.1,223.8L628.2,225.3L628.3,226.8L628.4,228.3L628.4,229.8L628.5,231.3L628.6,232.8L628.7,234.3L628.8,235.8L628.9,237.3L629.0,238.8L629.1,240.3L629.2,241.8L629.2,243.3L629.3,244.8L629.4,246.3L629.5,247.8L629.6,249.3L629.7,250.8L629.8,252.3L629.9,253.8L630.0,255.3L630.1,256.8L630.2,258.3L630.3,259.8L630.4,261.3L630.5,262.8L630.6,264.3L630.7,265.8L630.7,267.3L630.8,268.8L630.9,270.3L631.0,271.8L631.1,273.3L631.2,274.8L631.3,276.3L631.4,277.8L631.5,279.3L631.6,280.8L631.7,282.3L631.8,283.8L631.9,285.3L632.0,286.8L632.1,288.3L632.2,289.8L632.3,291.3L632.4,292.8L632.5,294.3L632.6,295.8L632.7,297.3L632.8,298.8L632.9,300.3L633.0,301.8L633.1,303.3L633.2,304.8L633.2,306.3L633.3,307.8L633.4,309.2L633.5,310.7L633.6,312.2L633.7,313.7L633.8,315.2L633.8,316.7L633.9,318.2L634.0,319.7L634.1,321.2L634.2,322.7L634.3,324.2L634.3,325.7L634.4,327.2L634.5,328.7L634.6,330.2L634.7,331.7L634.7,333.2L634.8,334.7L634.9,336.2L635.0,337.7L635.0,339.2L635.1,340.7L635.2,342.2L635.3,343.7L635.3,345.2L635.4,346.7L635.5,348.2L635.6,349.7L635.6,351.2L635.7,352.7L635.8,354.2L635.9,355.7L635.9,357.2L636.0,358.7L636.1,360.2L636.2,361.7L636.2,363.2L636.3,364.7L636.4,366.2L636.5,367.7L636.5,369.2L636.6,370.7L636.7,372.2L636.8,373.7L636.8,375.2L636.9,376.7L637.0,378.2L637.1,379.7L637.2,381.2L637.3,382.7L637.3,384.2L637.4,385.7L637.5,387.2L637.6,388.7L637.7,390.2L637.8,391.7L637.8,393.2L637.9,394.7L638.0,396.2L638.1,397.7L638.2,399.2L638.3,400.7L638.4,402.2L638.5,403.7L638.6,405.2L638.7,406.7L638.8,408.2L638.9,409.7L638.9,411.2L639.0,412.7L639.1,414.2L639.2,415.7L639.3,417.2L639.4,418.6L639.5,420.1L639.6,421.6L639.7,423.1L639.7,424.6L639.8,426.1L639.9,427.6L640.0,429.1L640.1,430.6L640.1,432.1L640.2,433.6L640.3,435.1L640.4,436.6L640.4,438.1L640.5,439.6L640.6,441.1L640.6,442.6L640.7,444.1L640.8,445.6L640.8,447.1L640.9,448.6L641.0,450.1L641.0,451.6L641.1,453.1L641.2,454.6L641.2,456.1L641.3,457.6L641.4,459.1L641.4,460.6L641.5,462.1L641.6,463.6L641.6,465.1L641.7,466.6L641.8,468.1L641.9,469.6L641.9,471.1L642.0,472.6L642.1,474.1L642.2,475.6L642.3,477.1L642.4,478.6L642.4,480.1L642.5,481.6L642.6,483.1L642.7,484.6L642.8,486.1L642.9,487.6L643.0,489.1L643.1,490.6L643.2,492.1L643.3,493.6L643.4,495.1L643.5,496.6L643.6,498.1L643.7,499.6L643.8,501.1L643.9,502.6L644.0,504.1L644.1,505.6L644.2,507.1L644.2,508.6L644.3,510.1L644.4,511.6L644.5,513.1L644.6,514.6L644.7,516.1L644.8,517.6L644.9,519.1L645.0,520.5L645.1,522.0L645.2,523.5L645.2,525.0L645.3,526.5L645.4,528.0L645.5,529.5L645.6,531.0L645.7,532.5L645.8,534.0L645.9,535.5L645.9,537.0L646.0,538.5L646.1,540.0L646.2,541.5L646.3,543.0L646.4,544.5L646.5,546.0L646.6,547.5L646.7,549.0L646.7,550.5L646.8,552.0L646.9,553.5L647.0,555.0L647.1,556.5L647.2,558.0L647.3,559.5L647.4,561.0L647.5,562.5L647.6,564.0L647.8,565.5L647.9,567.0L648.0,568.5L648.1,570.0L648.2,571.5L648.3,573.0L648.5,574.5L648.6,576.0L648.7,577.5L648.8,578.9L649.0,580.4L649.1,581.9L649.2,583.4L649.4,584.9L649.5,586.4L649.6,587.9L649.8,589.4L649.9,590.9L650.0,592.4L650.1,593.9L650.3,595.4L650.4,596.9L650.5,598.4L650.7,599.9L650.8,601.4L650.9,602.9L651.0,604.4L651.1,605.9L651.3,607.4L651.4,608.9L651.5,610.4L651.6,611.9L651.7,613.3L651.8,614.8L651.9,616.3L652.0,617.8L652.1,619.3L652.2,620.8L652.3,622.3L652.4,623.8L652.5,625.3L652.6,626.8L652.7,628.3L652.8,629.8L653.0,631.3L653.1,632.8L653.2,634.3L653.3,635.8L653.4,637.3L653.5,638.8L653.6,640.3L653.7,641.8L653.8,643.3L654.0,644.8L654.1,646.3L654.2,647.8L654.3,649.3L654.4,650.8L654.6,652.3L654.7,653.8L654.8,655.3L655.0,656.7L655.1,658.2L655.2,659.7L655.3,661.2L655.5,662.7L655.6,664.2L655.7,665.7L655.9,667.2L656.0,668.7L656.1,670.2L656.3,671.7L656.4,673.2L656.5,674.7L656.6,676.2L656.8,677.7L656.9,679.2L657.0,680.7L657.1,682.2L657.3,683.7L657.4,685.2L657.5,686.7L657.6,688.2L657.7,689.6L657.8,691.1L658.0,692.6L658.1,694.1L658.2,695.6L658.3,697.1L658.4,698.6L658.5,700.1L658.6,701.6L658.7,703.1L658.8,704.6L658.9,706.1L659.0,707.6L659.1,709.1L659.2,710.6L659.3,712.1L659.4,713.6L659.6,715.1L659.7,716.6L659.8,718.1L659.9,719.6L660.0,721.1L660.1,722.6L660.2,724.1L660.3,725.6L660.5,727.1L660.6,728.6L660.7,730.1L660.8,731.6L660.9,733.1L661.1,734.5L661.2,736.0L661.3,737.5L661.5,739.0L661.6,740.5L661.7,742.0L661.9,743.5L662.0,745.0L662.1,746.5L662.3,748.0L662.4,749.5L662.5,751.0L662.6,752.5L662.8,754.0L662.9,755.5L663.0,757.0L663.2,758.5L663.3,760.0L663.4,761.5L663.5,763.0L663.7,764.5L663.8,766.0L663.9,767.4L664.0,768.9L664.1,770.4L664.3,771.9L664.4,773.4L664.5,774.9L664.6,776.4L664.7,777.9L664.8,779.4L664.9,780.9L665.0,782.4L665.2,783.9L665.3,785.4L665.4,786.9L665.5,788.4L665.6,789.9L665.8,791.4L665.9,792.9L666.1,794.9L666.2,796.9L666.4,798.9L666.6,800.9L666.9,802.8L667.1,804.8L667.3,806.8L667.6,808.8L667.8,810.8L668.1,812.8L668.4,814.7L668.7,816.7L669.0,818.7L669.3,820.7L669.6,822.6L670.0,824.6L670.3,826.6L670.6,828.0L670.9,829.5L671.1,831.0L671.4,832.5L671.7,833.9L672.0,835.4L672.2,836.9L672.5,838.4L672.8,839.8L673.1,841.3L673.4,842.8L673.6,844.3L673.9,845.7L674.2,847.2L674.5,848.7L674.8,850.2L675.0,851.6L675.3,853.1L675.6,854.6L675.9,856.1L676.1,857.6L676.4,859.0L676.7,860.5L676.9,862.0L677.2,863.5L677.4,864.9L677.7,866.4L678.0,867.9L678.2,869.4L678.5,870.9L678.7,872.3L679.0,873.8L679.3,875.3L679.5,876.8L679.8,878.3L680.0,879.7L680.3,881.2L680.6,882.7L680.8,884.2L681.1,885.6L681.4,887.1L681.6,888.6L681.9,890.1L682.2,891.6L682.5,893.0L682.8,894.5L683.0,896.0L683.3,897.5L683.6,898.9L683.9,900.4L684.2,901.9L684.5,903.4L684.8,904.8L685.1,906.3L685.4,907.8L685.8,909.2L686.1,910.7L686.4,912.2L686.7,913.6L687.1,915.1L687.4,916.6L687.7,918.0L688.1,919.5L688.4,921.0L688.8,922.4L689.2,923.9L689.5,925.3L689.9,926.8L690.3,928.2L690.7,929.7L691.1,931.1L691.4,932.6L691.8,934.0L692.3,935.5L692.7,936.9L693.1,938.4L693.5,939.8L694.0,941.2L694.5,943.1L695.2,945.0L695.8,946.9L696.4,948.8L697.1,950.7L697.8,952.6L698.6,954.4L699.3,956.2L700.1,958.0L701.0,959.8L701.9,961.6L702.8,963.3L703.8,965.1L704.8,966.8L705.9,968.5L706.9,970.1L708.1,971.8L709.2,973.4L710.4,975.0L711.6,976.6L712.5,977.8L713.4,979.0L714.4,980.2L715.3,981.3L716.3,982.5L717.3,983.6L718.3,984.8L719.3,985.9L720.3,987.0L721.3,988.1L722.4,989.2L723.4,990.2L724.5,991.3L725.6,992.4L726.7,993.4L727.8,994.4L728.9,995.4L730.0,996.4L731.2,997.4L732.3,998.4L733.5,999.4L734.6,1000.3L735.8,1001.3L737.0,1002.2L738.2,1003.1L739.4,1004.0L740.7,1004.8L741.9,1005.7L743.1,1006.5L744.4,1007.4L745.7,1008.2L747.4,1009.2L749.1,1010.2L750.9,1011.1L752.6,1012.1L754.4,1012.9L756.2,1013.8L758.1,1014.6L759.9,1015.3L761.8,1016.0L763.6,1016.7L765.5,1017.3L767.4,1017.9L769.3,1018.4L771.3,1018.9L773.2,1019.4L775.2,1019.8L777.1,1020.2L779.1,1020.5L780.6,1020.7L782.1,1020.9L783.6,1021.1L785.1,1021.3L786.6,1021.5L788.1,1021.6L789.6,1021.7L791.1,1021.8L792.6,1021.9L794.1,1022.0L795.6,1022.1L797.1,1022.1L798.6,1022.2L800.1,1022.2L801.6,1022.2L803.1,1022.2L804.7,1022.2L806.2,1022.2L807.7,1022.2L809.2,1022.1L810.7,1022.1L812.2,1022.0L813.7,1022.0L815.2,1021.9L816.7,1021.8L818.2,1021.7L819.7,1021.6L821.2,1021.4L822.7,1021.3L824.2,1021.1L825.7,1020.9L827.2,1020.7L828.7,1020.5L830.2,1020.3L831.7,1020.0L833.6,1019.7L835.6,1019.3L837.5,1018.8L839.5,1018.4L840.9,1018.0L842.4,1017.6L843.8,1017.2L845.3,1016.7L846.7,1016.3L848.1,1015.8L849.6,1015.4L851.0,1014.9L852.4,1014.4L853.8,1013.9L855.3,1013.4L856.7,1012.9L858.1,1012.4L859.5,1011.9L861.4,1011.3L863.3,1010.6L865.2,1010.0L867.1,1009.5L869.0,1008.9L870.9,1008.4L872.8,1008.0L874.7,1007.6L876.6,1007.2L878.6,1006.9L880.5,1006.7L882.4,1006.5L884.4,1006.4L886.3,1006.4L888.3,1006.4L890.3,1006.5L892.2,1006.6L894.2,1006.8L896.2,1007.0L898.1,1007.2L900.1,1007.5L902.1,1007.7L904.1,1007.9L906.1,1008.2L908.0,1008.3L910.0,1008.5L912.0,1008.5L914.0,1008.6L916.0,1008.5L918.0,1008.4L919.9,1008.1L921.9,1007.9L923.8,1007.5L925.7,1007.0L927.5,1006.5L929.4,1005.9L931.1,1005.2L932.9,1004.4L934.5,1003.5L936.2,1002.5L937.7,1001.4L939.3,1000.3L940.7,999.0L942.1,997.7L943.5,996.3L944.8,994.9L946.0,993.4L947.2,991.8L948.3,990.2L949.4,988.5L950.4,986.8L951.4,985.1L952.1,983.8L952.8,982.4L953.5,981.1L954.1,979.7L954.8,978.3L955.4,976.9L956.0,975.5L956.6,974.1L957.1,972.7L957.7,971.3L958.3,969.9L958.8,968.4L959.3,967.0L959.8,965.6L960.4,964.2L960.9,962.7L961.4,961.3L961.9,959.8L962.4,958.4L962.9,957.0L963.3,955.5L963.8,954.1L964.3,952.7L964.8,951.3L965.3,949.8L965.8,948.4L966.3,947.0L966.8,945.6L967.4,943.7L968.1,941.8L968.7,939.9L969.4,938.0L970.1,936.2L970.8,934.3L971.5,932.5L972.2,930.6L973.0,928.8L973.7,927.0L974.5,925.1L975.3,923.3L976.1,921.5L976.8,919.6L977.4,918.2L978.0,916.9L978.6,915.5L979.2,914.1L979.8,912.7L980.4,911.2L981.0,909.8L981.5,908.4L982.1,906.9L982.7,905.5L983.3,904.0L983.8,902.5L984.4,901.0L984.9,899.5L985.4,898.0L986.0,896.5L986.5,894.9L987.0,893.4L987.5,891.9L988.1,890.3L988.6,888.8L989.1,887.2L989.7,885.7L990.2,884.2L990.8,882.7L991.4,881.3L991.9,879.8L992.6,878.4L993.2,877.0L993.8,875.6L994.7,873.9L995.7,872.1L996.7,870.5L997.7,869.0L998.8,867.5L999.9,866.2L1001.1,865.0L1002.3,863.9L1003.6,863.1L1004.9,862.3L1006.6,861.7L1008.4,861.4L1010.1,861.3L1011.9,861.6L1013.6,862.2L1014.9,862.9L1016.2,863.8L1017.5,864.8L1018.7,866.0L1019.9,867.3L1021.0,868.7L1022.1,870.2L1023.1,871.8L1024.1,873.6L1024.9,874.9L1025.6,876.2L1026.3,877.6L1026.9,879.0L1027.6,880.4L1028.2,881.9L1028.8,883.3L1029.4,884.8L1030.0,886.2L1030.5,887.7L1031.1,889.2L1031.6,890.7L1032.1,892.2L1032.6,893.7L1033.1,895.3L1033.6,896.8L1034.0,898.3L1034.5,899.8L1035.0,901.3L1035.4,902.9L1035.8,904.4L1036.3,905.9L1036.7,907.4L1037.1,908.9L1037.6,910.4L1038.0,911.9L1038.4,913.4L1038.8,914.9L1039.2,916.4L1039.6,917.9L1040.0,919.4L1040.4,920.9L1040.8,922.4L1041.2,923.8L1041.5,925.3L1041.9,926.8L1042.3,928.3L1042.7,929.8L1043.0,931.3L1043.4,932.8L1043.8,934.3L1044.2,935.8L1044.5,937.3L1044.9,938.8L1045.3,940.3L1045.7,941.8L1046.1,943.3L1046.5,944.8L1046.9,946.3L1047.3,947.7L1047.8,949.2L1048.2,950.7L1048.7,952.1L1049.2,953.6L1049.7,955.0L1050.2,956.4L1050.8,957.8L1051.3,959.2L1051.9,960.6L1052.7,962.4L1053.6,964.2L1054.5,966.0L1055.5,967.7L1056.5,969.4L1057.6,971.1L1058.7,972.7L1059.9,974.3L1061.2,975.8L1062.5,977.3L1063.8,978.7L1065.2,979.9L1066.6,981.1L1068.0,982.1L1069.5,983.0L1071.0,983.7L1072.5,984.3L1073.9,984.6L1075.4,984.8L1077.3,984.8L1078.8,984.5L1080.2,984.1L1081.7,983.5L1083.1,982.7L1084.5,981.8L1085.8,980.7L1087.1,979.6L1088.3,978.2L1089.5,976.8L1090.6,975.3L1091.7,973.7L1092.7,972.1L1093.5,970.8L1094.2,969.4L1095.0,968.1L1095.6,966.7L1096.3,965.3L1097.0,963.8L1097.6,962.4L1098.2,961.0L1098.8,959.5L1099.4,958.1L1100.0,956.6L1100.6,955.1L1101.2,953.7L1101.7,952.2L1102.3,950.7L1102.8,949.2L1103.3,947.7L1103.9,946.3L1104.4,944.8L1104.9,943.3L1105.4,941.9L1106.0,940.4L1106.5,939.0L1107.0,937.5L1107.6,936.1L1108.1,934.7L1108.7,933.3L1109.3,931.9L1109.9,930.5L1110.5,929.1L1111.3,927.3L1112.2,925.5L1113.1,923.7L1114.0,922.0L1115.0,920.3L1116.0,918.6L1117.1,917.0L1118.2,915.3L1119.4,913.7L1120.6,912.2L1121.8,910.6L1123.0,909.1L1124.3,907.5L1125.6,906.0L1126.8,904.5L1128.1,903.0L1129.4,901.5L1130.1,900.7L1131.1,901.9L1132.0,903.0L1133.0,904.2L1134.0,905.3L1135.0,906.5L1135.9,907.6L1136.9,908.8L1137.8,910.0L1138.8,911.1L1139.7,912.3L1140.9,913.9L1142.2,915.5L1143.4,917.1L1144.5,918.7L1145.7,920.3L1146.8,921.9L1147.9,923.6L1149.0,925.2L1150.1,926.9L1151.1,928.6L1152.1,930.3L1153.0,932.1L1153.9,933.8L1154.8,935.6L1155.7,937.4L1156.6,939.2L1157.4,941.0L1158.2,942.8L1158.8,944.2L1159.4,945.6L1160.0,946.9L1160.6,948.3L1161.2,949.7L1161.8,951.1L1162.3,952.5L1162.9,953.9L1163.5,955.3L1164.0,956.7L1164.6,958.1L1165.2,959.6L1165.7,961.0L1166.3,962.4L1166.9,963.8L1167.4,965.2L1168.0,966.6L1168.6,968.0L1169.2,969.4L1169.8,970.8L1170.4,972.2L1171.0,973.6L1171.6,975.0L1172.2,976.4L1172.9,977.8L1173.5,979.2L1174.2,980.5L1174.8,981.9L1175.5,983.2L1176.2,984.6L1176.9,985.9L1177.6,987.2L1178.4,988.6L1179.1,989.9L1179.9,991.2L1180.7,992.4L1181.5,993.7L1182.4,995.0L1183.2,996.2L1184.1,997.4L1185.0,998.6L1185.9,999.8L1186.8,1001.0L1188.1,1002.6L1189.4,1004.1L1190.7,1005.5L1192.1,1006.9L1193.5,1008.3L1195.0,1009.7L1196.5,1010.9L1198.0,1012.2L1199.6,1013.4L1201.2,1014.5L1202.8,1015.5L1204.5,1016.5L1206.2,1017.5L1207.9,1018.3L1209.7,1019.2L1211.5,1020.0L1213.3,1020.7L1215.2,1021.4L1217.1,1022.0L1219.0,1022.7L1220.4,1023.1L1221.8,1023.5L1223.3,1024.0L1224.7,1024.4L1226.2,1024.8L1227.7,1025.2L1229.1,1025.5L1230.6,1025.9L1232.1,1026.3L1233.6,1026.7L1235.1,1027.0L1236.5,1027.4L1238.0,1027.8L1239.5,1028.1L1241.0,1028.5L1242.5,1028.9L1243.9,1029.3L1245.4,1029.7L1246.9,1030.1L1248.3,1030.5L1249.8,1030.9L1251.2,1031.4L1252.7,1031.8L1254.1,1032.2L1255.6,1032.6L1257.0,1033.1L1258.5,1033.5L1259.9,1033.9L1261.4,1034.3L1262.8,1034.8L1264.2,1035.2L1265.7,1035.6L1267.1,1036.1L1268.6,1036.5L1270.0,1036.9L1271.5,1037.4L1272.9,1037.8L1274.3,1038.2L1275.8,1038.6L1277.2,1039.0L1278.7,1039.4L1280.1,1039.8L1281.6,1040.2L1283.0,1040.6L1284.5,1041.0L1285.9,1041.4L1287.4,1041.8L1288.8,1042.2L1290.3,1042.6L1291.7,1043.0L1293.2,1043.4L1294.6,1043.8L1296.1,1044.2L1297.5,1044.6L1299.0,1045.1L1300.4,1045.5L1301.8,1045.9L1303.8,1046.4L1305.7,1047.0L1307.6,1047.6L1309.5,1048.2L1311.4,1048.8L1313.3,1049.4L1315.2,1050.1L1317.1,1050.7L1319.0,1051.4L1320.8,1052.1L1322.7,1052.8L1324.6,1053.5L1326.4,1054.2L1328.3,1055.0L1330.1,1055.7L1332.0,1056.5L1333.8,1057.3L1335.2,1057.9L1336.6,1058.5L1337.9,1059.1L1339.3,1059.7L1340.7,1060.3L1342.1,1060.8L1343.5,1061.4L1344.8,1062.0L1346.2,1062.6L1347.6,1063.2L1349.0,1063.8L1350.4,1064.4L1351.7,1064.9L1353.1,1065.5L1354.5,1066.1L1355.9,1066.6L1357.3,1067.2L1358.7,1067.8L1360.1,1068.3L1361.5,1068.9L1362.9,1069.4L1364.3,1069.9L1365.7,1070.5L1367.1,1071.0L1368.5,1071.5L1369.9,1072.1L1371.3,1072.6L1372.7,1073.1L1374.1,1073.6L1375.5,1074.2L1376.9,1074.7L1378.4,1075.2L1379.8,1075.7L1381.2,1076.2L1382.6,1076.7L1384.0,1077.2L1385.4,1077.7L1386.8,1078.2L1388.3,1078.7L1389.7,1079.2L1391.1,1079.7L1392.5,1080.2L1393.9,1080.7L1395.4,1081.2L1396.8,1081.7L1398.2,1082.2L1399.6,1082.7L1401.0,1083.1L1402.5,1083.6L1403.9,1084.1L1405.3,1084.6L1406.7,1085.1L1408.1,1085.6L1409.6,1086.0L1411.0,1086.5L1412.4,1087.0L1413.8,1087.5L1415.3,1088.0L1416.7,1088.5L1418.1,1088.9L1419.5,1089.4L1421.0,1089.9L1422.4,1090.4L1423.8,1090.9L1425.2,1091.4L1426.7,1091.8L1428.1,1092.3L1429.5,1092.8L1430.9,1093.3L1432.4,1093.8L1433.8,1094.2L1435.2,1094.7L1436.6,1095.2L1438.1,1095.7L1439.5,1096.2L1440.9,1096.6L1442.3,1097.1L1443.8,1097.6L1445.2,1098.1L1446.6,1098.5L1448.0,1099.0L1449.5,1099.5L1450.9,1099.9L1452.3,1100.4L1453.8,1100.9L1455.2,1101.3L1456.6,1101.8L1458.0,1102.2L1459.5,1102.7L1460.9,1103.1L1462.3,1103.6L1463.8,1104.0L1465.2,1104.5L1466.7,1104.9L1468.1,1105.3L1469.5,1105.8L1471.0,1106.2L1472.4,1106.6L1473.8,1107.0L1475.3,1107.5L1476.7,1107.9L1478.2,1108.3L1479.6,1108.7L1481.1,1109.1L1482.5,1109.5L1484.0,1109.9L1485.4,1110.2L1486.9,1110.6L1488.3,1111.0L1489.8,1111.4L1491.2,1111.7L1492.7,1112.1L1494.2,1112.4L1495.6,1112.8L1497.1,1113.1L1498.5,1113.4L1500.0,1113.8L1501.5,1114.1L1502.9,1114.4L1504.4,1114.7L1505.9,1115.0L1507.4,1115.3L1508.8,1115.6L1510.3,1115.9L1511.8,1116.2L1513.3,1116.5L1514.7,1116.8L1516.2,1117.0L1517.7,1117.3L1519.2,1117.6L1520.7,1117.8L1522.1,1118.1L1523.6,1118.3L1525.1,1118.5L1526.6,1118.8L1528.1,1119.0L1529.6,1119.2L1531.1,1119.4L1532.5,1119.6L1534.0,1119.8L1535.5,1120.0L1537.0,1120.2L1538.5,1120.4L1540.0,1120.6L1541.5,1120.8L1543.0,1120.9L1544.5,1121.1L1546.0,1121.3L1547.5,1121.4L1549.0,1121.6L1550.5,1121.7L1552.0,1121.9L1553.5,1122.0L1555.0,1122.1L1556.5,1122.3L1558.0,1122.4L1559.5,1122.5L1561.0,1122.6L1562.5,1122.7L1564.0,1122.8L1565.5,1122.9L1567.0,1123.0L1568.5,1123.1L1570.0,1123.2L1571.5,1123.3L1573.0,1123.3L1574.5,1123.4L1576.0,1123.5L1577.5,1123.5L1579.0,1123.6L1580.5,1123.6L1582.0,1123.7L1583.5,1123.7L1585.0,1123.8L1586.5,1123.8L1588.0,1123.8L1589.5,1123.9L1591.0,1123.9L1592.5,1123.9L1594.0,1123.9L1595.5,1123.9L1597.0,1124.0L1598.5,1124.0L1600.0,1124.0L1601.5,1124.0L1603.0,1124.0L1604.5,1124.0L1606.0,1124.0L1607.5,1124.0L1609.0,1124.0L1610.5,1124.0L1612.0,1124.0L1613.5,1124.0L1615.0,1124.0L1616.5,1124.0L1618.0,1124.0L1619.5,1123.9L1621.0,1123.9L1622.5,1123.9L1624.0,1123.9L1625.5,1123.9L1627.0,1123.9L1628.5,1123.9L1630.0,1123.8L1631.5,1123.8L1633.0,1123.8L1634.5,1123.8L1636.0,1123.8L1637.5,1123.8L1639.0,1123.8L1640.5,1123.7L1642.0,1123.7L1643.5,1123.7L1645.0,1123.7L1646.5,1123.7L1648.0,1123.7L1649.5,1123.7L1651.0,1123.7L1652.5,1123.7L1654.0,1123.7L1655.5,1123.7L1657.0,1123.7L1658.5,1123.7L1660.1,1123.7L1661.6,1123.6L1663.1,1123.6L1664.6,1123.6L1666.1,1123.6L1667.6,1123.6L1669.1,1123.6L1670.6,1123.6L1672.1,1123.6L1673.6,1123.6L1675.1,1123.6L1676.6,1123.6L1678.1,1123.6L1679.6,1123.6L1681.1,1123.6L1682.6,1123.6L1684.1,1123.7L1685.6,1123.7L1687.1,1123.7L1688.6,1123.7L1690.1,1123.7L1691.6,1123.7L1693.1,1123.7L1694.6,1123.7L1696.1,1123.7L1697.6,1123.7L1699.1,1123.7L1700.6,1123.7L1702.1,1123.7L1703.6,1123.7L1705.1,1123.7L1706.6,1123.7L1708.1,1123.7L1709.6,1123.7L1711.1,1123.7L1712.1,1123.7" fill="none" stroke="#0000ff" stroke-width="10.0" stroke-linejoin="round" stroke-linecap="butt"/>
<polygon points="257.1,805.0 275.7,838.0 238.5,838.0" fill="#0000ff"/>
<polygon points="329.9,812.7 348.5,845.7 311.2,845.7" fill="#0000ff"/>
<polygon points="402.6,807.8 421.2,840.8 384.0,840.8" fill="#0000ff"/>
<polygon points="475.4,814.8 494.0,847.8 456.8,847.8" fill="#0000ff"/>
<polygon points="548.1,694.0 566.7,727.0 529.5,727.0" fill="#0000ff"/>
<polygon points="620.9,139.7 639.5,172.7 602.2,172.7" fill="#0000ff"/>
<polygon points="693.6,917.6 712.2,950.6 675.0,950.6" fill="#0000ff"/>
<polygon points="766.4,995.7 785.0,1028.7 747.8,1028.7" fill="#0000ff"/>
<polygon points="839.1,996.7 857.7,1029.7 820.5,1029.7" fill="#0000ff"/>
<polygon points="911.9,987.0 930.5,1020.0 893.2,1020.0" fill="#0000ff"/>
<polygon points="984.6,879.6 1003.2,912.6 966.0,912.6" fill="#0000ff"/>
<polygon points="1057.3,948.7 1075.9,981.7 1038.8,981.7" fill="#0000ff"/>
<polygon points="1130.1,878.7 1148.7,911.7 1111.5,911.7" fill="#0000ff"/>
<polygon points="1202.8,993.9 1221.4,1026.9 1184.2,1026.9" fill="#0000ff"/>
<polygon points="1275.6,1016.7 1294.2,1049.7 1257.0,1049.7" fill="#0000ff"/>
<polygon points="1348.3,1041.6 1366.9,1074.6 1329.8,1074.6" fill="#0000ff"/>
<polygon points="1421.1,1067.9 1439.7,1100.9 1402.5,1100.9" fill="#0000ff"/>
<polygon points="1493.8,1090.4 1512.4,1123.4 1475.2,1123.4" fill="#0000ff"/>
<polygon points="1566.6,1101.0 1585.2,1134.0 1548.0,1134.0" fill="#0000ff"/>
<polygon points="1639.3,1101.7 1657.9,1134.7 1620.8,1134.7" fill="#0000ff"/>
<polygon points="1712.1,1101.7 1730.7,1134.7 1693.5,1134.7" fill="#0000ff"/>
</g>
<g shape-rendering="crispEdges"><rect x="1270" y="109.3" width="123.2" height="10" fill="#000000"/></g>
<rect x="1317.0" y="100.3" width="28" height="28" fill="#000000"/>
<text y="133.0" font-family='"Liberation Serif", "Times New Roman", Times, serif' font-size="52.5" font-weight="bold"><tspan x="1405.93" textLength="143.73" lengthAdjust="spacingAndGlyphs">THPP</tspan></text>
<g shape-rendering="crispEdges"><rect x="1270" y="175.8" width="123.2" height="10" fill="#ff0000"/></g>
<ellipse cx="1331.0" cy="180.8" rx="15" ry="15" fill="#ff0000"/>
<text y="199.0" font-family='"Liberation Serif", "Times New Roman", Times, serif' font-size="52.5" font-weight="bold"><tspan x="1405.93" textLength="143.73" lengthAdjust="spacingAndGlyphs">THPP</tspan><tspan x="1547.56" textLength="19.55" lengthAdjust="spacingAndGlyphs">-</tspan><tspan x="1566.81" textLength="60.91" lengthAdjust="spacingAndGlyphs">Pd</tspan></text>
<g shape-rendering="crispEdges"><rect x="1270" y="242.4" width="123.2" height="10" fill="#0000ff"/></g>
<polygon points="1331.0,225.7 1350.0,258.7 1312.0,258.7" fill="#0000ff"/>
<text y="266.1" font-family='"Liberation Serif", "Times New Roman", Times, serif' font-size="52.5" font-weight="bold"><tspan x="1405.93" textLength="143.73" lengthAdjust="spacingAndGlyphs">THPP</tspan><tspan x="1547.55" textLength="19.68" lengthAdjust="spacingAndGlyphs">-</tspan><tspan x="1564.50" textLength="64.21" lengthAdjust="spacingAndGlyphs">Zn</tspan></text>
<g shape-rendering="crispEdges">
<rect x="194.90" y="1633.00" width="1504.90" height="8.60" fill="#000"/>
<rect x="194.90" y="2663.10" width="1509.20" height="8.30" fill="#000"/>
<rect x="201.20" y="1633.00" width="8.90" height="1053.60" fill="#000"/>
<rect x="1695.50" y="1636.50" width="8.60" height="1050.10" fill="#000"/>
<rect x="184.20" y="2588.70" width="17.00" height="9.20" fill="#000"/>
<rect x="184.20" y="2441.62" width="17.00" height="9.20" fill="#000"/>
<rect x="184.20" y="2294.54" width="17.00" height="9.20" fill="#000"/>
<rect x="184.20" y="2147.46" width="17.00" height="9.20" fill="#000"/>
<rect x="184.20" y="2000.38" width="17.00" height="9.20" fill="#000"/>
<rect x="184.20" y="1853.30" width="17.00" height="9.20" fill="#000"/>
<rect x="184.20" y="1706.22" width="17.00" height="9.20" fill="#000"/>
<rect x="194.90" y="2515.56" width="6.30" height="8.40" fill="#000"/>
<rect x="194.90" y="2368.48" width="6.30" height="8.40" fill="#000"/>
<rect x="194.90" y="2221.40" width="6.30" height="8.40" fill="#000"/>
<rect x="194.90" y="2074.32" width="6.30" height="8.40" fill="#000"/>
<rect x="194.90" y="1927.24" width="6.30" height="8.40" fill="#000"/>
<rect x="194.90" y="1780.16" width="6.30" height="8.40" fill="#000"/>
<rect x="500.12" y="2671.40" width="8.80" height="15.20" fill="#000"/>
<rect x="798.94" y="2671.40" width="8.80" height="15.20" fill="#000"/>
<rect x="1097.76" y="2671.40" width="8.80" height="15.20" fill="#000"/>
<rect x="1396.58" y="2671.40" width="8.80" height="15.20" fill="#000"/>
<rect x="350.51" y="2671.40" width="9.20" height="5.40" fill="#000"/>
<rect x="649.33" y="2671.40" width="9.20" height="5.40" fill="#000"/>
<rect x="948.15" y="2671.40" width="9.20" height="5.40" fill="#000"/>
<rect x="1246.97" y="2671.40" width="9.20" height="5.40" fill="#000"/>
<rect x="1545.79" y="2671.40" width="9.20" height="5.40" fill="#000"/>
</g>
<text transform="translate(171.20 2602.40) scale(1.0900 1)" font-family='"Liberation Sans", Arial, Helvetica, sans-serif' font-size="37.3" font-weight="bold" text-anchor="end">0.0</text>
<text transform="translate(171.20 2455.32) scale(1.0900 1)" font-family='"Liberation Sans", Arial, Helvetica, sans-serif' font-size="37.3" font-weight="bold" text-anchor="end">0.2</text>
<text transform="translate(171.20 2308.24) scale(1.0900 1)" font-family='"Liberation Sans", Arial, Helvetica, sans-serif' font-size="37.3" font-weight="bold" text-anchor="end">0.4</text>
<text transform="translate(171.20 2161.16) scale(1.0900 1)" font-family='"Liberation Sans", Arial, Helvetica, sans-serif' font-size="37.3" font-weight="bold" text-anchor="end">0.6</text>
<text transform="translate(171.20 2014.08) scale(1.0900 1)" font-family='"Liberation Sans", Arial, Helvetica, sans-serif' font-size="37.3" font-weight="bold" text-anchor="end">0.8</text>
<text transform="translate(171.20 1867.00) scale(1.0900 1)" font-family='"Liberation Sans", Arial, Helvetica, sans-serif' font-size="37.3" font-weight="bold" text-anchor="end">1.0</text>
<text transform="translate(171.20 1719.92) scale(1.0900 1)" font-family='"Liberation Sans", Arial, Helvetica, sans-serif' font-size="37.3" font-weight="bold" text-anchor="end">1.2</text>
<text transform="translate(206.10 2726.90) scale(1.0920 1)" font-family='"Liberation Sans", Arial, Helvetica, sans-serif' font-size="36.5" font-weight="bold" text-anchor="middle">300</text>
<text transform="translate(504.92 2726.90) scale(1.0920 1)" font-family='"Liberation Sans", Arial, Helvetica, sans-serif' font-size="36.5" font-weight="bold" text-anchor="middle">400</text>
<text transform="translate(803.74 2726.90) scale(1.0920 1)" font-family='"Liberation Sans", Arial, Helvetica, sans-serif' font-size="36.5" font-weight="bold" text-anchor="middle">500</text>
<text transform="translate(1102.56 2726.90) scale(1.0920 1)" font-family='"Liberation Sans", Arial, Helvetica, sans-serif' font-size="36.5" font-weight="bold" text-anchor="middle">600</text>
<text transform="translate(1401.38 2726.90) scale(1.0920 1)" font-family='"Liberation Sans", Arial, Helvetica, sans-serif' font-size="36.5" font-weight="bold" text-anchor="middle">700</text>
<text transform="translate(1700.20 2726.90) scale(1.0920 1)" font-family='"Liberation Sans", Arial, Helvetica, sans-serif' font-size="36.5" font-weight="bold" text-anchor="middle">800</text>
<text transform="translate(953.55 2809.00) scale(1.0843 1)" font-family='"Liberation Sans", Arial, Helvetica, sans-serif' font-size="56.5" font-weight="bold" text-anchor="middle">Wavelength (nm)</text>
<text transform="translate(74.70 2190.70) rotate(-90) scale(0.9478 1)" font-family='"Liberation Sans", Arial, Helvetica, sans-serif' font-size="61.57" font-weight="bold" text-anchor="middle">Abs</text>
<text transform="translate(250.50 1720.90) scale(1.1230 1)" font-family='"Liberation Serif", "Times New Roman", Times, serif' font-size="60.8" font-weight="bold" text-anchor="start">C</text>
<g clip-path="url(#clipC)" shape-rendering="crispEdges">
<path d="M204.0,2211.1L205.5,2211.1L207.0,2211.2L208.5,2211.2L210.0,2211.2L211.5,2211.2L213.0,2211.3L214.5,2211.3L216.0,2211.3L217.5,2211.4L219.0,2211.4L220.5,2211.4L222.0,2211.5L223.5,2211.5L225.0,2211.6L226.5,2211.6L228.0,2211.7L229.5,2211.7L231.0,2211.8L232.5,2211.9L234.0,2211.9L235.5,2212.0L237.0,2212.1L238.5,2212.2L240.0,2212.3L242.0,2212.4L244.0,2212.5L245.5,2212.7L247.0,2212.8L248.5,2212.9L250.0,2213.1L251.5,2213.2L253.0,2213.4L254.5,2213.5L255.9,2213.7L257.4,2213.9L258.9,2214.1L260.4,2214.3L261.9,2214.5L263.4,2214.7L264.9,2214.9L266.4,2215.1L267.8,2215.4L269.3,2215.6L270.8,2215.9L272.3,2216.2L273.8,2216.4L275.2,2216.7L276.7,2217.0L278.2,2217.3L279.6,2217.6L281.1,2218.0L282.6,2218.3L284.0,2218.6L285.5,2219.0L287.0,2219.4L288.4,2219.7L289.9,2220.1L291.3,2220.5L292.8,2220.9L294.2,2221.4L295.7,2221.8L297.1,2222.2L298.6,2222.7L300.0,2223.2L301.4,2223.6L302.9,2224.1L304.3,2224.6L305.7,2225.1L307.1,2225.7L308.5,2226.2L309.9,2226.7L311.3,2227.3L312.7,2227.9L314.1,2228.4L315.5,2229.0L316.9,2229.6L318.3,2230.3L319.7,2230.9L321.0,2231.5L322.4,2232.2L323.7,2232.8L325.1,2233.5L326.4,2234.2L327.7,2234.9L329.1,2235.6L330.8,2236.5L332.6,2237.5L334.3,2238.5L336.0,2239.5L337.7,2240.6L339.4,2241.7L341.0,2242.7L342.7,2243.8L344.3,2245.0L346.0,2246.1L347.6,2247.3L349.2,2248.4L350.8,2249.6L352.4,2250.8L354.0,2252.0L355.5,2253.2L357.1,2254.4L358.7,2255.6L360.3,2256.9L361.9,2258.1L363.4,2259.3L364.6,2260.2L365.8,2261.1L367.0,2262.1L368.2,2263.0L369.4,2263.9L370.6,2264.8L371.8,2265.7L373.0,2266.6L374.2,2267.5L375.4,2268.4L376.7,2269.3L377.9,2270.2L379.1,2271.1L380.4,2271.9L381.7,2272.8L382.9,2273.6L384.2,2274.5L385.5,2275.3L386.8,2276.1L388.1,2276.9L389.4,2277.7L390.7,2278.5L392.1,2279.3L393.4,2280.0L394.7,2280.8L396.1,2281.5L397.5,2282.2L398.8,2282.9L400.2,2283.5L401.6,2284.2L403.0,2284.8L404.4,2285.4L405.8,2285.9L407.2,2286.5L408.7,2287.0L410.1,2287.5L411.5,2288.0L413.0,2288.4L414.4,2288.8L415.9,2289.2L417.3,2289.5L419.3,2290.0L421.3,2290.3L423.2,2290.6L425.2,2290.8L427.2,2291.0L429.2,2291.1L430.7,2291.1L432.2,2291.1L433.7,2291.1L435.2,2291.0L436.7,2290.9L438.2,2290.7L439.7,2290.5L441.3,2290.3L442.8,2290.1L444.3,2289.8L445.8,2289.5L447.3,2289.1L448.7,2288.8L450.2,2288.4L451.7,2287.9L453.2,2287.5L454.6,2287.0L456.1,2286.5L457.5,2286.0L459.0,2285.4L460.4,2284.8L461.8,2284.2L463.2,2283.6L464.6,2283.0L465.9,2282.3L467.3,2281.6L468.6,2280.9L470.0,2280.2L471.7,2279.2L473.4,2278.2L475.1,2277.2L476.7,2276.1L478.3,2275.0L479.9,2273.9L481.4,2272.8L483.0,2271.6L484.4,2270.4L485.9,2269.2L487.4,2267.9L488.8,2266.6L490.2,2265.3L491.5,2263.9L492.9,2262.6L494.2,2261.2L495.5,2259.7L496.8,2258.3L498.1,2256.8L499.4,2255.3L500.6,2253.7L501.5,2252.5L502.5,2251.3L503.4,2250.1L504.3,2248.9L505.2,2247.6L506.1,2246.4L507.0,2245.1L507.8,2243.8L508.7,2242.5L509.6,2241.1L510.5,2239.8L511.3,2238.4L512.2,2237.0L513.1,2235.6L513.9,2234.2L514.8,2232.8L515.6,2231.3L516.5,2229.8L517.4,2228.3L518.2,2226.8L519.1,2225.3L519.9,2223.8L520.8,2222.2L521.7,2220.6L522.5,2219.1L523.4,2217.5L524.3,2215.9L525.1,2214.3L526.0,2212.7L526.9,2211.2L527.8,2209.6L528.6,2208.0L529.5,2206.5L530.4,2204.9L531.3,2203.4L532.2,2201.8L533.1,2200.3L534.0,2198.9L534.9,2197.4L535.8,2195.9L536.8,2194.5L537.7,2193.1L538.6,2191.8L539.5,2190.4L540.5,2189.2L541.4,2187.9L542.4,2186.7L543.4,2185.5L544.7,2184.0L546.0,2182.6L547.3,2181.2L548.6,2179.9L550.0,2178.8L551.3,2177.7L552.7,2176.8L554.1,2175.9L555.5,2175.2L557.0,2174.6L558.4,2174.1L559.9,2173.7L561.4,2173.5L562.9,2173.4L564.4,2173.4L565.9,2173.6L567.5,2174.0L569.1,2174.4L570.7,2175.0L572.3,2175.6L573.9,2176.4L575.5,2177.3L577.1,2178.3L578.8,2179.3L580.4,2180.5L581.6,2181.4L582.9,2182.4L584.1,2183.3L585.3,2184.4L586.6,2185.5L587.8,2186.6L589.0,2187.7L590.3,2188.8L591.5,2190.0L592.7,2191.2L593.9,2192.5L595.1,2193.7L596.3,2195.0L597.5,2196.2L598.7,2197.5L599.9,2198.8L601.1,2200.1L602.3,2201.4L603.4,2202.7L604.6,2204.0L605.7,2205.3L606.9,2206.6L608.0,2207.9L609.1,2209.2L610.2,2210.5L611.2,2211.7L612.3,2213.0L613.4,2214.2L614.4,2215.5L615.5,2216.7L616.5,2217.9L617.5,2219.1L618.5,2220.3L619.5,2221.5L620.5,2222.7L621.5,2223.9L622.5,2225.1L623.4,2226.3L624.4,2227.5L625.3,2228.6L626.3,2229.8L627.5,2231.4L628.8,2232.9L630.0,2234.5L631.2,2236.0L632.4,2237.5L633.6,2239.1L634.8,2240.6L635.9,2242.1L637.1,2243.6L638.3,2245.2L639.4,2246.7L640.6,2248.2L641.7,2249.7L642.8,2251.3L644.0,2252.8L645.1,2254.3L646.2,2255.9L647.4,2257.4L648.5,2259.0L649.6,2260.5L650.7,2262.1L651.9,2263.6L653.0,2265.2L654.1,2266.8L655.2,2268.4L656.4,2270.0L657.5,2271.6L658.6,2273.2L659.8,2274.9L660.9,2276.5L662.1,2278.1L663.2,2279.7L664.4,2281.4L665.2,2282.6L666.1,2283.8L667.0,2285.0L667.9,2286.3L668.8,2287.5L669.6,2288.7L670.5,2289.9L671.4,2291.1L672.3,2292.4L673.2,2293.6L674.1,2294.8L675.0,2296.0L676.0,2297.2L676.9,2298.4L677.8,2299.6L678.7,2300.8L679.7,2302.0L680.6,2303.2L681.6,2304.4L682.5,2305.5L683.5,2306.7L684.5,2307.9L685.4,2309.1L686.4,2310.2L687.4,2311.4L688.4,2312.5L689.4,2313.6L690.4,2314.8L691.4,2315.9L692.4,2317.0L693.4,2318.1L694.5,2319.2L695.5,2320.3L696.6,2321.4L697.6,2322.4L698.7,2323.5L699.8,2324.5L700.9,2325.6L701.9,2326.6L703.0,2327.6L704.5,2329.0L706.0,2330.3L707.5,2331.6L709.0,2332.9L710.6,2334.2L712.1,2335.5L713.7,2336.7L715.3,2337.9L716.9,2339.1L718.1,2340.0L719.3,2340.9L720.5,2341.8L721.8,2342.6L723.0,2343.5L724.2,2344.3L725.5,2345.1L726.8,2346.0L728.0,2346.8L729.3,2347.6L730.6,2348.4L731.9,2349.1L733.2,2349.9L734.5,2350.7L735.9,2351.4L737.2,2352.1L738.6,2352.9L739.9,2353.6L741.3,2354.3L742.6,2355.0L744.0,2355.7L745.4,2356.3L746.8,2357.0L748.2,2357.6L749.6,2358.3L751.0,2358.9L752.5,2359.5L753.9,2360.0L755.3,2360.6L756.8,2361.2L758.2,2361.7L759.6,2362.2L761.1,2362.7L762.5,2363.1L764.0,2363.6L765.5,2364.0L766.9,2364.4L768.4,2364.8L769.9,2365.1L771.3,2365.5L773.3,2365.8L775.3,2366.2L777.2,2366.5L779.2,2366.7L781.1,2366.9L783.1,2367.1L785.0,2367.1L787.0,2367.2L788.9,2367.1L790.8,2367.0L792.8,2366.9L794.7,2366.7L796.6,2366.4L798.6,2366.1L800.5,2365.8L802.4,2365.4L804.3,2364.9L806.2,2364.4L808.1,2363.9L810.1,2363.3L811.5,2362.9L813.0,2362.4L814.4,2362.0L815.8,2361.5L817.3,2360.9L818.7,2360.4L820.2,2359.9L821.7,2359.3L823.1,2358.7L824.6,2358.1L826.1,2357.5L827.5,2356.9L829.0,2356.3L830.5,2355.7L832.0,2355.0L833.5,2354.4L835.0,2353.8L836.5,2353.1L838.0,2352.5L839.5,2351.8L841.0,2351.2L842.5,2350.6L844.0,2350.0L845.5,2349.4L847.0,2348.8L848.5,2348.2L850.0,2347.7L851.5,2347.2L853.0,2346.8L854.5,2346.3L856.0,2345.9L857.5,2345.6L858.9,2345.3L860.9,2345.0L862.9,2344.7L864.8,2344.6L866.7,2344.5L868.6,2344.6L870.5,2344.7L872.4,2345.1L874.2,2345.5L876.0,2346.1L877.8,2346.8L879.6,2347.6L880.9,2348.3L882.3,2349.1L883.6,2350.0L884.8,2350.9L886.1,2351.8L887.4,2352.8L888.6,2353.8L889.9,2354.9L891.1,2356.0L892.3,2357.1L893.6,2358.2L894.8,2359.4L896.0,2360.6L897.2,2361.7L898.4,2362.9L899.6,2364.0L900.8,2365.2L902.0,2366.3L903.1,2367.5L904.3,2368.5L905.5,2369.6L906.6,2370.6L907.8,2371.6L909.4,2372.9L910.9,2374.0L912.5,2375.1L914.0,2376.0L915.6,2376.8L917.1,2377.5L918.7,2378.0L920.2,2378.4L921.8,2378.6L923.4,2378.6L924.9,2378.5L926.5,2378.2L928.1,2377.7L929.7,2377.2L931.3,2376.4L932.9,2375.6L934.5,2374.7L936.2,2373.6L937.8,2372.5L939.0,2371.6L940.2,2370.7L941.5,2369.7L942.7,2368.6L944.0,2367.6L945.2,2366.5L946.5,2365.4L947.7,2364.3L949.0,2363.1L950.3,2362.0L951.6,2360.8L952.8,2359.7L954.1,2358.5L955.4,2357.3L956.7,2356.2L958.0,2355.0L959.3,2353.9L960.7,2352.8L962.0,2351.7L963.3,2350.6L964.6,2349.6L966.0,2348.6L967.3,2347.6L968.7,2346.7L970.0,2345.8L971.4,2344.9L972.8,2344.2L974.1,2343.5L975.5,2342.8L977.3,2342.1L979.2,2341.4L981.0,2341.0L982.9,2340.6L984.8,2340.5L986.6,2340.5L988.5,2340.7L990.3,2341.1L992.2,2341.6L994.1,2342.2L995.9,2342.9L997.3,2343.6L998.7,2344.3L1000.0,2345.0L1001.4,2345.8L1002.7,2346.6L1004.1,2347.5L1005.4,2348.4L1006.8,2349.3L1008.1,2350.2L1009.4,2351.2L1010.7,2352.1L1011.9,2353.1L1013.2,2354.1L1014.5,2355.1L1015.7,2356.0L1017.0,2357.0L1018.2,2358.0L1019.4,2359.0L1020.6,2360.0L1021.8,2361.0L1023.0,2361.9L1024.2,2362.9L1025.4,2363.9L1026.6,2364.8L1027.8,2365.8L1029.0,2366.7L1030.1,2367.7L1031.3,2368.6L1032.9,2369.8L1034.5,2371.0L1036.1,2372.2L1037.7,2373.3L1039.3,2374.4L1040.9,2375.5L1042.6,2376.6L1044.2,2377.6L1045.9,2378.6L1047.6,2379.5L1049.3,2380.4L1051.0,2381.2L1052.8,2382.0L1054.6,2382.8L1056.4,2383.5L1058.3,2384.1L1060.2,2384.7L1062.1,2385.3L1064.0,2385.8L1065.5,2386.2L1066.9,2386.6L1068.4,2386.9L1069.9,2387.2L1071.4,2387.6L1072.8,2387.9L1074.3,2388.2L1075.8,2388.5L1077.3,2388.8L1078.8,2389.1L1080.3,2389.4L1081.8,2389.7L1083.3,2390.0L1084.8,2390.4L1086.3,2390.7L1087.7,2391.0L1089.2,2391.4L1090.7,2391.8L1092.6,2392.3L1094.5,2392.9L1096.3,2393.5L1098.2,2394.2L1100.0,2394.9L1101.8,2395.7L1103.5,2396.5L1105.3,2397.4L1107.0,2398.3L1108.6,2399.3L1110.3,2400.3L1111.9,2401.4L1113.5,2402.4L1115.1,2403.6L1116.7,2404.7L1118.3,2405.9L1119.9,2407.1L1121.4,2408.3L1123.0,2409.6L1124.2,2410.5L1125.4,2411.4L1126.5,2412.4L1127.7,2413.3L1128.9,2414.3L1130.1,2415.3L1131.3,2416.2L1132.5,2417.2L1133.7,2418.1L1134.9,2419.1L1136.2,2420.0L1137.4,2420.9L1138.7,2421.9L1139.9,2422.8L1141.2,2423.7L1142.5,2424.6L1143.8,2425.5L1145.2,2426.3L1146.5,2427.2L1147.9,2428.0L1149.3,2428.8L1150.7,2429.6L1152.1,2430.4L1153.6,2431.1L1155.0,2431.9L1156.4,2432.6L1157.9,2433.2L1159.4,2433.9L1160.9,2434.5L1162.3,2435.1L1163.8,2435.6L1165.3,2436.2L1166.8,2436.6L1168.3,2437.1L1169.8,2437.5L1171.3,2437.9L1172.8,2438.2L1174.2,2438.5L1176.2,2438.9L1178.2,2439.1L1180.1,2439.3L1182.0,2439.4L1183.9,2439.4L1185.8,2439.3L1187.7,2439.2L1189.5,2438.9L1191.3,2438.6L1193.0,2438.1L1194.8,2437.5L1196.5,2436.9L1198.2,2436.2L1199.8,2435.4L1201.4,2434.5L1203.1,2433.6L1204.6,2432.5L1206.2,2431.4L1207.8,2430.3L1209.3,2429.1L1210.8,2427.8L1212.0,2426.8L1213.1,2425.8L1214.2,2424.7L1215.3,2423.7L1216.4,2422.6L1217.5,2421.4L1218.6,2420.3L1219.7,2419.1L1220.9,2418.0L1222.0,2416.8L1223.1,2415.6L1224.2,2414.3L1225.3,2413.1L1226.4,2411.8L1227.5,2410.6L1228.6,2409.3L1229.7,2408.0L1230.8,2406.8L1231.9,2405.5L1233.0,2404.2L1234.2,2402.9L1235.3,2401.6L1236.4,2400.3L1237.6,2399.1L1238.8,2397.8L1239.9,2396.6L1241.1,2395.3L1242.3,2394.1L1243.5,2392.9L1244.7,2391.8L1245.9,2390.7L1247.1,2389.6L1248.3,2388.6L1249.6,2387.7L1250.8,2386.7L1252.1,2385.9L1253.8,2384.8L1255.5,2383.9L1257.2,2383.1L1259.0,2382.5L1260.8,2381.9L1262.6,2381.6L1264.4,2381.4L1266.3,2381.4L1268.1,2381.6L1270.0,2382.0L1271.9,2382.5L1273.8,2383.1L1275.2,2383.7L1276.6,2384.3L1278.0,2384.9L1279.4,2385.6L1280.7,2386.4L1282.1,2387.1L1283.4,2387.9L1284.7,2388.7L1286.0,2389.5L1287.2,2390.3L1288.5,2391.2L1289.7,2392.0L1290.9,2392.9L1292.1,2393.8L1293.3,2394.7L1294.5,2395.7L1295.6,2396.6L1296.8,2397.6L1298.0,2398.6L1299.1,2399.5L1300.2,2400.5L1301.4,2401.5L1302.5,2402.5L1303.6,2403.5L1304.7,2404.5L1305.8,2405.5L1307.0,2406.5L1308.1,2407.6L1309.2,2408.6L1310.3,2409.6L1311.4,2410.6L1312.5,2411.6L1313.7,2412.6L1315.2,2413.9L1316.7,2415.2L1318.2,2416.5L1319.8,2417.7L1321.3,2419.0L1322.9,2420.2L1324.5,2421.4L1326.1,2422.5L1327.8,2423.7L1329.4,2424.8L1331.1,2425.8L1332.8,2426.9L1334.1,2427.7L1335.4,2428.4L1336.7,2429.1L1338.0,2429.9L1339.4,2430.6L1340.7,2431.3L1342.0,2431.9L1343.4,2432.6L1344.8,2433.2L1346.1,2433.9L1347.5,2434.5L1348.9,2435.1L1350.3,2435.7L1351.7,2436.3L1353.1,2436.9L1354.5,2437.4L1355.9,2438.0L1357.3,2438.5L1358.7,2439.0L1360.2,2439.5L1361.6,2440.0L1363.0,2440.5L1364.5,2441.0L1365.9,2441.5L1367.3,2441.9L1368.8,2442.4L1370.2,2442.8L1371.7,2443.3L1373.1,2443.7L1374.6,2444.1L1376.0,2444.5L1377.5,2444.9L1378.9,2445.3L1380.4,2445.6L1381.8,2446.0L1383.3,2446.4L1384.8,2446.7L1386.2,2447.1L1387.7,2447.4L1389.1,2447.8L1390.6,2448.1L1392.6,2448.5L1394.5,2449.0L1396.5,2449.4L1398.4,2449.8L1400.4,2450.2L1402.3,2450.6L1404.3,2451.0L1406.3,2451.4L1408.2,2451.8L1410.2,2452.1L1412.1,2452.5L1414.1,2452.9L1416.1,2453.3L1418.0,2453.6L1420.0,2454.0L1422.0,2454.4L1423.9,2454.8L1425.9,2455.1L1427.9,2455.5L1429.3,2455.8L1430.8,2456.1L1432.3,2456.3L1433.8,2456.6L1435.2,2456.9L1436.7,2457.2L1438.2,2457.5L1439.6,2457.8L1441.1,2458.1L1442.6,2458.4L1444.1,2458.6L1445.5,2458.9L1447.0,2459.2L1448.5,2459.5L1450.0,2459.8L1451.4,2460.1L1452.9,2460.4L1454.4,2460.7L1455.8,2461.1L1457.3,2461.4L1458.8,2461.7L1460.2,2462.0L1461.7,2462.3L1463.2,2462.6L1464.6,2463.0L1466.1,2463.3L1467.6,2463.6L1469.0,2464.0L1470.5,2464.3L1472.0,2464.7L1473.4,2465.0L1474.9,2465.4L1476.3,2465.7L1477.8,2466.1L1479.3,2466.5L1480.7,2466.8L1482.2,2467.2L1483.6,2467.6L1485.1,2468.0L1486.5,2468.4L1488.0,2468.8L1489.4,2469.2L1490.8,2469.6L1492.3,2470.0L1493.7,2470.5L1495.2,2470.9L1497.1,2471.5L1499.0,2472.1L1500.9,2472.7L1502.8,2473.3L1504.7,2474.0L1506.6,2474.6L1508.4,2475.3L1510.3,2476.0L1512.2,2476.7L1514.1,2477.4L1515.9,2478.1L1517.3,2478.6L1518.7,2479.1L1520.1,2479.7L1521.5,2480.2L1522.9,2480.8L1524.3,2481.3L1525.7,2481.9L1527.1,2482.5L1528.5,2483.0L1529.9,2483.6L1531.3,2484.2L1532.7,2484.7L1534.1,2485.3L1535.5,2485.9L1536.8,2486.4L1538.2,2487.0L1539.6,2487.6L1541.0,2488.1L1542.4,2488.7L1543.8,2489.3L1545.2,2489.8L1546.6,2490.4L1548.0,2490.9L1549.4,2491.5L1550.8,2492.1L1552.2,2492.6L1553.6,2493.2L1555.0,2493.7L1556.4,2494.2L1557.8,2494.8L1559.2,2495.3L1560.6,2495.9L1562.0,2496.4L1563.4,2496.9L1564.8,2497.4L1566.2,2498.0L1567.6,2498.5L1569.0,2499.0L1570.4,2499.5L1571.8,2500.0L1573.2,2500.5L1574.6,2501.1L1576.1,2501.6L1577.5,2502.1L1578.9,2502.6L1580.3,2503.1L1581.7,2503.6L1583.1,2504.1L1584.5,2504.6L1586.0,2505.0L1587.4,2505.5L1588.8,2506.0L1590.2,2506.5L1591.6,2507.0L1593.1,2507.5L1594.5,2507.9L1595.9,2508.4L1597.3,2508.9L1598.8,2509.4L1600.2,2509.8L1601.6,2510.3L1603.0,2510.8L1604.5,2511.2L1605.9,2511.7L1607.3,2512.2L1608.8,2512.6L1610.2,2513.1L1611.6,2513.5L1613.0,2514.0L1614.5,2514.4L1615.9,2514.9L1617.3,2515.3L1618.8,2515.7L1620.2,2516.2L1621.6,2516.6L1623.1,2517.1L1624.5,2517.5L1626.0,2517.9L1627.4,2518.3L1628.8,2518.8L1630.3,2519.2L1631.7,2519.6L1633.2,2520.0L1634.6,2520.4L1636.0,2520.8L1637.5,2521.3L1638.9,2521.7L1640.4,2522.1L1641.8,2522.5L1643.3,2522.9L1644.7,2523.3L1646.2,2523.7L1647.6,2524.0L1649.1,2524.4L1650.5,2524.8L1652.0,2525.2L1653.4,2525.6L1654.9,2525.9L1656.3,2526.3L1657.8,2526.7L1659.2,2527.0L1660.7,2527.4L1662.2,2527.8L1663.6,2528.1L1665.1,2528.5L1666.5,2528.8L1668.0,2529.2L1669.5,2529.5L1670.9,2529.9L1672.4,2530.2L1673.8,2530.5L1675.3,2530.9L1676.8,2531.2L1678.2,2531.5L1679.7,2531.8L1681.2,2532.1L1682.6,2532.5L1684.1,2532.8L1685.6,2533.1L1687.0,2533.4L1688.5,2533.7L1690.0,2534.0L1691.5,2534.3L1692.9,2534.6L1694.4,2534.9L1695.9,2535.2L1697.3,2535.5L1698.8,2535.7L1699.8,2535.9" fill="none" stroke="#000000" stroke-width="9.0" stroke-linejoin="round" stroke-linecap="butt"/>
<rect x="193.0" y="2201.1" width="22" height="20" fill="#000000"/>
<rect x="237.8" y="2203.0" width="22" height="20" fill="#000000"/>
<rect x="282.6" y="2211.2" width="22" height="20" fill="#000000"/>
<rect x="327.4" y="2231.0" width="22" height="20" fill="#000000"/>
<rect x="372.2" y="2263.8" width="22" height="20" fill="#000000"/>
<rect x="417.1" y="2281.1" width="22" height="20" fill="#000000"/>
<rect x="461.9" y="2268.5" width="22" height="20" fill="#000000"/>
<rect x="506.7" y="2217.8" width="22" height="20" fill="#000000"/>
<rect x="551.5" y="2163.4" width="22" height="20" fill="#000000"/>
<rect x="596.3" y="2197.1" width="22" height="20" fill="#000000"/>
<rect x="641.1" y="2254.0" width="22" height="20" fill="#000000"/>
<rect x="685.9" y="2311.7" width="22" height="20" fill="#000000"/>
<rect x="730.7" y="2344.5" width="22" height="20" fill="#000000"/>
<rect x="775.5" y="2357.2" width="22" height="20" fill="#000000"/>
<rect x="820.3" y="2345.3" width="22" height="20" fill="#000000"/>
<rect x="865.2" y="2336.1" width="22" height="20" fill="#000000"/>
<rect x="910.0" y="2368.6" width="22" height="20" fill="#000000"/>
<rect x="954.8" y="2338.7" width="22" height="20" fill="#000000"/>
<rect x="999.6" y="2342.1" width="22" height="20" fill="#000000"/>
<rect x="1044.4" y="2373.1" width="22" height="20" fill="#000000"/>
<rect x="1089.2" y="2385.0" width="22" height="20" fill="#000000"/>
<rect x="1134.0" y="2416.2" width="22" height="20" fill="#000000"/>
<rect x="1178.8" y="2428.9" width="22" height="20" fill="#000000"/>
<rect x="1223.6" y="2392.4" width="22" height="20" fill="#000000"/>
<rect x="1268.4" y="2375.7" width="22" height="20" fill="#000000"/>
<rect x="1313.2" y="2411.2" width="22" height="20" fill="#000000"/>
<rect x="1358.1" y="2432.5" width="22" height="20" fill="#000000"/>
<rect x="1402.9" y="2442.8" width="22" height="20" fill="#000000"/>
<rect x="1447.7" y="2451.7" width="22" height="20" fill="#000000"/>
<rect x="1492.5" y="2463.6" width="22" height="20" fill="#000000"/>
<rect x="1537.3" y="2481.1" width="22" height="20" fill="#000000"/>
<rect x="1582.1" y="2497.5" width="22" height="20" fill="#000000"/>
<rect x="1626.9" y="2511.4" width="22" height="20" fill="#000000"/>
<rect x="1671.7" y="2522.5" width="22" height="20" fill="#000000"/>
<path d="M204.0,1990.0L205.5,1989.9L207.0,1989.9L208.5,1989.9L210.0,1989.8L211.5,1989.7L213.0,1989.7L214.5,1989.6L216.0,1989.4L217.5,1989.3L219.0,1989.1L220.5,1988.9L222.0,1988.6L223.4,1988.3L225.4,1987.8L226.8,1987.4L228.2,1986.9L229.7,1986.3L231.0,1985.7L232.4,1985.1L233.8,1984.3L235.1,1983.6L236.4,1982.8L237.7,1982.0L239.0,1981.2L240.3,1980.5L241.6,1979.7L243.4,1978.7L245.1,1977.8L246.9,1977.1L248.7,1976.4L250.5,1975.9L252.3,1975.6L254.1,1975.4L255.9,1975.4L257.8,1975.5L259.7,1975.7L261.6,1976.1L263.4,1976.5L265.3,1977.1L266.8,1977.7L268.2,1978.2L269.6,1978.8L271.0,1979.5L272.4,1980.3L273.8,1981.0L275.3,1981.8L276.7,1982.7L278.0,1983.6L279.4,1984.5L280.8,1985.5L282.2,1986.5L283.5,1987.5L284.9,1988.6L286.2,1989.6L287.5,1990.7L288.8,1991.8L290.1,1993.0L291.4,1994.1L292.6,1995.2L293.9,1996.4L295.1,1997.5L296.3,1998.7L297.5,1999.9L298.6,2001.0L299.8,2002.2L300.9,2003.4L302.0,2004.6L303.1,2005.7L304.1,2006.9L305.2,2008.1L306.2,2009.3L307.2,2010.5L308.2,2011.7L309.2,2012.9L310.2,2014.1L311.2,2015.4L312.1,2016.6L313.0,2017.8L313.9,2019.0L314.8,2020.3L315.7,2021.5L316.6,2022.7L317.4,2024.0L318.3,2025.2L319.4,2026.9L320.5,2028.5L321.5,2030.2L322.5,2031.9L323.6,2033.6L324.6,2035.3L325.5,2037.0L326.5,2038.7L327.4,2040.4L328.4,2042.1L329.3,2043.8L330.1,2045.5L331.0,2047.2L331.9,2049.0L332.7,2050.7L333.6,2052.5L334.4,2054.2L335.2,2055.9L336.0,2057.7L336.8,2059.4L337.5,2061.2L338.3,2063.0L339.0,2064.7L339.8,2066.5L340.5,2068.3L341.3,2070.1L342.0,2071.8L342.7,2073.6L343.4,2075.4L344.1,2077.2L344.8,2079.0L345.5,2080.8L346.2,2082.6L346.9,2084.4L347.6,2086.2L348.3,2088.0L349.0,2089.8L349.7,2091.6L350.4,2093.4L351.1,2095.2L351.8,2097.0L352.5,2098.9L353.2,2100.7L354.0,2102.5L354.7,2104.3L355.4,2106.1L356.2,2108.0L356.9,2109.8L357.7,2111.6L358.4,2113.5L359.2,2115.3L360.0,2117.1L360.8,2118.9L361.4,2120.3L362.0,2121.7L362.6,2123.1L363.2,2124.4L363.9,2125.8L364.5,2127.2L365.2,2128.6L365.8,2129.9L366.5,2131.3L367.2,2132.7L367.9,2134.1L368.6,2135.4L369.3,2136.8L370.0,2138.2L370.7,2139.6L371.5,2140.9L372.2,2142.3L373.0,2143.7L373.7,2145.1L374.5,2146.4L375.3,2147.8L376.1,2149.2L377.0,2150.6L377.8,2151.9L378.7,2153.3L379.5,2154.7L380.4,2156.0L381.3,2157.4L382.2,2158.8L383.1,2160.2L384.1,2161.5L385.0,2162.9L386.0,2164.2L387.0,2165.6L388.0,2166.9L389.0,2168.2L390.1,2169.4L391.1,2170.6L392.2,2171.8L393.3,2172.9L394.4,2174.0L395.6,2175.0L396.8,2176.0L398.4,2177.1L400.0,2178.1L401.7,2179.0L403.4,2179.7L405.2,2180.2L407.1,2180.6L409.0,2180.7L410.9,2180.7L412.8,2180.4L414.8,2180.1L416.3,2179.7L417.7,2179.2L419.2,2178.6L420.6,2178.0L422.0,2177.3L423.4,2176.6L424.8,2175.8L426.1,2174.9L427.4,2174.0L428.6,2173.1L429.8,2172.1L430.9,2171.1L432.0,2170.0L433.0,2168.9L434.3,2167.4L435.6,2165.9L436.7,2164.3L437.9,2162.6L438.9,2160.9L439.7,2159.6L440.4,2158.3L441.1,2156.9L441.8,2155.6L442.4,2154.2L443.1,2152.8L443.7,2151.4L444.3,2150.0L444.9,2148.6L445.4,2147.2L446.0,2145.7L446.5,2144.3L447.1,2142.8L447.6,2141.4L448.2,2139.9L448.7,2138.5L449.3,2137.0L449.8,2135.6L450.4,2134.2L450.9,2132.8L451.5,2131.3L452.1,2129.9L452.6,2128.5L453.2,2127.1L453.8,2125.7L454.4,2124.3L455.0,2122.9L455.6,2121.5L456.2,2120.2L456.8,2118.8L457.4,2117.4L458.1,2116.0L458.9,2114.2L459.7,2112.4L460.5,2110.6L461.4,2108.8L462.2,2107.0L463.1,2105.2L463.9,2103.4L464.8,2101.6L465.6,2099.8L466.5,2098.0L467.3,2096.2L468.2,2094.4L469.0,2092.6L469.9,2090.8L470.7,2089.0L471.6,2087.2L472.4,2085.4L473.2,2083.6L474.1,2081.8L474.9,2079.9L475.5,2078.6L476.1,2077.2L476.7,2075.8L477.3,2074.4L477.8,2073.0L478.4,2071.7L478.9,2070.3L479.6,2068.4L480.3,2066.5L481.0,2064.6L481.6,2062.7L482.2,2060.8L482.8,2058.9L483.2,2057.5L483.6,2056.0L484.0,2054.6L484.5,2053.1L484.9,2051.7L485.3,2050.2L485.6,2048.8L486.0,2047.3L486.4,2045.9L486.8,2044.4L487.2,2043.0L487.6,2041.5L488.0,2040.1L488.4,2038.6L488.7,2037.2L489.1,2035.7L489.5,2034.3L489.9,2032.8L490.4,2031.4L490.8,2029.9L491.2,2028.5L491.6,2027.1L492.0,2025.6L492.5,2024.2L492.9,2022.7L493.3,2021.3L493.8,2019.9L494.2,2018.4L494.7,2017.0L495.1,2015.6L495.6,2014.2L496.0,2012.7L496.5,2011.3L497.0,2009.9L497.4,2008.4L497.9,2007.0L498.3,2005.6L498.8,2004.2L499.3,2002.7L499.8,2001.3L500.2,1999.9L500.7,1998.5L501.2,1997.0L501.6,1995.6L502.1,1994.2L502.6,1992.8L503.0,1991.3L503.5,1989.9L503.9,1988.5L504.4,1987.0L504.8,1985.6L505.3,1984.2L505.7,1982.7L506.1,1981.3L506.6,1979.9L507.0,1978.4L507.4,1977.0L507.8,1975.5L508.2,1974.1L508.6,1972.6L509.0,1971.2L509.4,1969.7L509.7,1968.3L510.2,1966.8L510.7,1964.9L511.3,1963.0L511.8,1961.1L512.4,1959.2L513.1,1957.3L513.7,1955.4L514.3,1953.5L514.8,1952.1L515.3,1950.6L515.8,1949.2L516.3,1947.8L516.7,1946.4L517.2,1944.9L517.6,1943.5L518.1,1942.1L518.5,1940.6L518.9,1939.1L519.2,1937.7L519.6,1936.2L520.0,1934.8L520.4,1933.3L520.8,1931.9L521.2,1930.4L521.6,1929.0L522.0,1927.5L522.6,1925.6L523.3,1923.7L524.0,1921.9L524.8,1920.1L525.6,1918.3L526.6,1916.5L527.3,1915.2L528.1,1913.9L528.9,1912.6L529.7,1911.3L530.6,1910.1L531.5,1908.8L532.4,1907.6L533.3,1906.4L534.2,1905.2L535.2,1904.0L536.2,1902.9L537.2,1901.8L538.6,1900.4L540.2,1899.2L541.8,1898.1L543.5,1897.2L545.3,1896.5L547.1,1896.0L549.1,1895.7L550.6,1895.5L552.1,1895.4L553.7,1895.4L555.2,1895.5L556.8,1895.6L558.4,1895.8L559.9,1896.0L561.5,1896.3L563.0,1896.7L564.5,1897.1L566.0,1897.5L567.5,1898.0L568.9,1898.5L570.3,1899.0L571.7,1899.7L573.1,1900.3L574.8,1901.3L576.5,1902.4L578.1,1903.5L579.6,1904.8L581.0,1906.2L582.3,1907.7L583.6,1909.2L584.5,1910.4L585.4,1911.6L586.2,1912.9L587.0,1914.2L587.7,1915.5L588.5,1916.8L589.2,1918.2L589.9,1919.5L590.5,1920.9L591.1,1922.2L591.7,1923.6L592.3,1925.0L592.8,1926.4L593.3,1927.8L593.8,1929.3L594.2,1930.7L594.7,1932.1L595.1,1933.6L595.5,1935.0L595.9,1936.5L596.3,1937.9L596.7,1939.4L597.1,1940.8L597.5,1942.3L597.9,1943.7L598.3,1945.2L598.7,1946.6L599.1,1948.0L599.6,1949.5L600.0,1950.9L600.5,1952.3L600.9,1953.8L601.4,1955.2L601.8,1956.6L602.3,1958.1L602.8,1959.5L603.2,1960.9L603.7,1962.3L604.1,1963.8L604.6,1965.2L605.1,1966.6L605.5,1968.1L606.0,1969.5L606.5,1971.4L607.1,1973.3L607.7,1975.2L608.2,1977.2L608.8,1979.1L609.3,1981.0L609.8,1982.9L610.2,1984.4L610.5,1985.9L610.9,1987.3L611.3,1988.8L611.6,1990.2L611.9,1991.7L612.3,1993.2L612.6,1994.6L612.9,1996.1L613.2,1997.6L613.6,1999.0L613.9,2000.5L614.2,2002.0L614.5,2003.4L614.7,2004.9L615.0,2006.4L615.3,2007.9L615.6,2009.3L615.8,2010.8L616.1,2012.3L616.4,2013.8L616.6,2015.3L616.9,2016.7L617.1,2018.2L617.4,2019.7L617.6,2021.2L617.8,2022.7L618.1,2024.2L618.3,2025.7L618.5,2027.1L618.7,2028.6L618.9,2030.1L619.2,2031.6L619.4,2033.1L619.6,2034.6L619.8,2036.1L620.0,2037.6L620.2,2039.0L620.4,2040.5L620.6,2042.0L620.8,2043.5L621.0,2045.0L621.2,2046.5L621.4,2048.0L621.6,2049.5L621.7,2051.0L621.9,2052.4L622.1,2053.9L622.3,2055.4L622.5,2056.9L622.7,2058.4L623.0,2060.4L623.2,2062.4L623.5,2064.3L623.8,2066.3L624.1,2068.3L624.3,2070.3L624.5,2071.8L624.8,2073.3L625.0,2074.7L625.2,2076.2L625.4,2077.7L625.7,2079.2L625.9,2080.7L626.1,2082.1L626.4,2083.6L626.6,2085.1L626.8,2086.6L627.1,2088.1L627.3,2089.6L627.5,2091.0L627.8,2092.5L628.0,2094.0L628.3,2095.5L628.5,2097.0L628.8,2098.4L629.0,2099.9L629.2,2101.4L629.5,2102.9L629.7,2104.4L630.0,2105.9L630.2,2107.3L630.4,2108.8L630.7,2110.3L630.9,2111.8L631.2,2113.3L631.4,2114.7L631.6,2116.2L631.9,2117.7L632.1,2119.2L632.3,2120.7L632.6,2122.1L632.8,2123.6L633.1,2125.1L633.3,2126.6L633.5,2128.1L633.8,2129.6L634.0,2131.0L634.3,2132.5L634.5,2134.0L634.7,2135.5L635.0,2137.0L635.2,2138.4L635.5,2139.9L635.7,2141.4L636.0,2142.9L636.2,2144.4L636.5,2145.8L636.7,2147.3L637.0,2148.8L637.2,2150.3L637.5,2151.8L637.7,2153.2L638.0,2154.7L638.2,2156.2L638.5,2157.7L638.8,2159.2L639.0,2160.6L639.3,2162.1L639.6,2163.6L639.8,2165.1L640.1,2166.5L640.4,2168.0L640.7,2169.5L641.0,2171.0L641.3,2172.4L641.6,2173.9L641.9,2175.4L642.2,2176.8L642.5,2178.3L642.8,2179.8L643.1,2181.2L643.4,2182.7L643.7,2184.2L644.1,2185.6L644.4,2187.1L644.7,2188.6L645.0,2190.0L645.4,2191.5L645.7,2193.0L646.0,2194.4L646.4,2195.9L646.7,2197.3L647.1,2198.8L647.4,2200.3L647.8,2201.7L648.1,2203.2L648.5,2204.6L648.9,2206.1L649.2,2207.5L649.6,2209.0L649.9,2210.5L650.3,2211.9L650.7,2213.4L651.0,2214.8L651.4,2216.3L651.8,2217.7L652.1,2219.2L652.5,2220.6L652.9,2222.1L653.2,2223.6L653.6,2225.0L654.0,2226.5L654.3,2227.9L654.7,2229.4L655.1,2230.9L655.4,2232.3L655.8,2233.8L656.2,2235.2L656.5,2236.7L656.9,2238.2L657.3,2239.6L657.6,2241.1L658.0,2242.5L658.4,2244.0L658.7,2245.5L659.1,2246.9L659.5,2248.4L659.9,2249.8L660.2,2251.3L660.6,2252.8L661.0,2254.2L661.4,2255.7L661.8,2257.1L662.2,2258.6L662.6,2260.0L663.0,2261.5L663.4,2263.0L663.8,2264.4L664.2,2265.9L664.6,2267.3L665.0,2268.8L665.4,2270.2L665.8,2271.6L666.2,2273.1L666.7,2274.5L667.1,2276.0L667.5,2277.4L668.0,2278.9L668.4,2280.3L668.9,2281.7L669.3,2283.2L669.8,2284.6L670.2,2286.0L670.7,2287.5L671.2,2288.9L671.7,2290.3L672.1,2291.7L672.6,2293.2L673.1,2294.6L673.6,2296.0L674.1,2297.4L674.7,2298.8L675.2,2300.2L675.7,2301.6L676.2,2303.0L676.8,2304.5L677.3,2305.9L677.9,2307.3L678.4,2308.6L679.0,2310.0L679.6,2311.4L680.2,2312.8L680.7,2314.2L681.3,2315.6L681.9,2317.0L682.6,2318.3L683.2,2319.7L683.8,2321.1L684.4,2322.4L685.1,2323.8L685.7,2325.2L686.4,2326.5L687.1,2327.9L687.8,2329.2L688.5,2330.6L689.1,2331.9L689.9,2333.2L690.6,2334.6L691.3,2335.9L692.0,2337.2L692.8,2338.6L693.5,2339.9L694.3,2341.2L695.1,2342.5L695.9,2343.8L696.7,2345.1L697.5,2346.4L698.3,2347.7L699.1,2349.0L700.0,2350.3L700.8,2351.5L701.7,2352.8L702.6,2354.1L703.5,2355.3L704.4,2356.6L705.3,2357.8L706.2,2359.1L707.1,2360.3L708.0,2361.5L709.0,2362.7L709.9,2363.9L710.9,2365.1L711.9,2366.3L712.9,2367.4L713.9,2368.6L714.9,2369.7L715.9,2370.9L717.0,2372.0L718.0,2373.1L719.1,2374.2L720.1,2375.3L721.2,2376.3L722.3,2377.4L723.4,2378.4L724.5,2379.5L725.6,2380.5L726.7,2381.5L728.3,2382.8L729.8,2384.0L731.4,2385.2L732.9,2386.5L734.5,2387.6L736.1,2388.8L737.8,2389.9L739.4,2390.9L741.1,2391.9L742.8,2392.9L744.5,2393.9L746.2,2394.8L748.0,2395.7L749.7,2396.5L751.5,2397.3L753.3,2398.1L755.2,2398.8L757.0,2399.5L758.9,2400.2L760.8,2400.8L762.7,2401.4L764.1,2401.8L765.6,2402.2L767.0,2402.6L768.5,2402.9L770.0,2403.2L771.5,2403.6L773.0,2403.9L774.5,2404.1L776.1,2404.4L777.6,2404.6L779.2,2404.8L780.8,2405.0L782.3,2405.2L783.9,2405.4L785.5,2405.5L787.2,2405.6L788.8,2405.7L790.4,2405.8L792.1,2405.8L793.7,2405.8L795.3,2405.8L796.9,2405.7L798.5,2405.5L800.0,2405.3L801.5,2405.0L803.4,2404.5L805.2,2403.9L806.9,2403.0L808.5,2402.0L809.9,2400.9L811.2,2399.5L812.3,2398.0L813.4,2396.3L814.3,2394.6L815.0,2393.2L815.6,2391.8L816.2,2390.5L816.8,2389.1L817.4,2387.7L818.0,2386.3L818.5,2384.8L819.0,2383.4L819.6,2382.0L820.1,2380.6L820.6,2379.1L821.1,2377.7L821.6,2376.3L822.1,2374.9L822.6,2373.4L823.1,2372.0L823.7,2370.6L824.2,2369.2L824.7,2367.8L825.3,2366.4L825.8,2365.0L826.4,2363.6L827.1,2361.7L827.8,2359.9L828.5,2358.0L829.2,2356.1L829.9,2354.2L830.6,2352.4L831.2,2350.5L831.9,2348.6L832.6,2346.7L833.2,2344.8L833.6,2343.4L834.1,2342.0L834.6,2340.5L835.0,2339.1L835.4,2337.7L835.9,2336.2L836.3,2334.8L836.7,2333.3L837.1,2331.9L837.5,2330.4L837.9,2329.0L838.3,2327.5L838.7,2326.1L839.0,2324.6L839.4,2323.2L839.8,2321.7L840.1,2320.3L840.5,2318.8L840.8,2317.4L841.2,2315.9L841.5,2314.4L841.8,2313.0L842.2,2311.5L842.5,2310.0L842.8,2308.6L843.1,2307.1L843.4,2305.6L843.7,2304.2L844.0,2302.7L844.3,2301.2L844.6,2299.8L844.9,2298.3L845.2,2296.8L845.5,2295.3L845.8,2293.9L846.1,2292.4L846.4,2290.9L846.7,2289.4L847.0,2288.0L847.3,2286.5L847.6,2285.0L847.9,2283.6L848.1,2282.1L848.4,2280.6L848.7,2279.1L849.0,2277.7L849.3,2276.2L849.6,2274.7L849.9,2273.3L850.2,2271.8L850.4,2270.3L850.7,2268.8L851.0,2267.4L851.3,2265.9L851.6,2264.4L851.9,2262.9L852.1,2261.5L852.4,2260.0L852.7,2258.5L853.0,2257.0L853.3,2255.6L853.5,2254.1L853.8,2252.6L854.1,2251.1L854.4,2249.7L854.6,2248.2L854.9,2246.7L855.2,2245.2L855.5,2243.8L855.7,2242.3L856.0,2240.8L856.3,2239.3L856.6,2237.9L856.8,2236.4L857.1,2234.9L857.4,2233.4L857.6,2231.9L857.9,2230.5L858.2,2228.5L858.5,2226.5L858.9,2224.6L859.2,2222.6L859.5,2220.6L859.8,2218.6L860.1,2216.7L860.3,2214.7L860.6,2212.7L860.9,2210.7L861.2,2209.3L861.4,2207.8L861.7,2206.3L862.0,2204.8L862.2,2203.3L862.5,2201.8L862.9,2200.4L863.2,2198.9L863.6,2197.4L864.0,2195.9L864.4,2194.4L864.9,2192.9L865.4,2191.5L865.9,2190.0L866.5,2188.6L867.2,2187.2L867.9,2185.8L868.7,2184.5L869.5,2183.2L870.5,2182.0L871.5,2180.8L872.9,2179.5L874.5,2178.4L876.2,2177.7L878.1,2177.3L879.9,2177.4L881.8,2177.7L883.6,2178.4L885.3,2179.4L886.8,2180.7L888.1,2182.1L889.3,2183.6L890.3,2185.3L891.0,2186.7L891.7,2188.1L892.2,2189.5L892.7,2191.0L893.2,2192.5L893.7,2194.0L894.1,2195.5L894.5,2197.0L894.9,2198.5L895.3,2200.0L895.7,2201.5L896.1,2203.0L896.4,2204.5L896.8,2206.0L897.2,2207.4L897.5,2208.9L898.0,2210.8L898.4,2212.8L898.9,2214.7L899.4,2216.6L899.8,2218.6L900.3,2220.5L900.8,2222.4L901.2,2224.3L901.7,2226.3L902.2,2228.2L902.6,2230.2L903.1,2232.1L903.5,2233.6L903.8,2235.0L904.2,2236.5L904.5,2237.9L904.8,2239.4L905.2,2240.9L905.5,2242.3L905.9,2243.8L906.2,2245.3L906.5,2246.7L906.9,2248.2L907.2,2249.7L907.5,2251.1L907.8,2252.6L908.2,2254.1L908.5,2255.5L908.8,2257.0L909.1,2258.5L909.4,2259.9L909.7,2261.4L910.0,2262.9L910.3,2264.3L910.6,2265.8L910.9,2267.3L911.1,2268.8L911.4,2270.2L911.7,2271.7L912.0,2273.2L912.3,2274.7L912.5,2276.1L912.8,2277.6L913.1,2279.1L913.3,2280.6L913.6,2282.0L913.9,2283.5L914.2,2285.0L914.5,2286.5L914.7,2287.9L915.0,2289.4L915.3,2290.9L915.6,2292.4L915.9,2293.8L916.2,2295.3L916.5,2296.8L916.9,2298.2L917.2,2299.7L917.5,2301.2L917.8,2302.6L918.1,2304.1L918.4,2305.6L918.8,2307.0L919.1,2308.5L919.4,2310.0L919.7,2311.4L920.0,2312.9L920.3,2314.4L920.6,2315.8L920.9,2317.3L921.2,2318.8L921.6,2320.2L921.9,2321.7L922.2,2323.2L922.5,2324.6L922.8,2326.1L923.1,2327.6L923.5,2329.0L923.8,2330.5L924.1,2332.0L924.4,2333.4L924.7,2334.9L925.0,2336.4L925.4,2338.3L925.8,2340.3L926.2,2342.2L926.7,2344.2L927.1,2346.2L927.5,2348.1L927.9,2350.1L928.2,2351.6L928.5,2353.0L928.8,2354.5L929.1,2356.0L929.4,2357.4L929.8,2358.9L930.1,2360.4L930.5,2361.8L930.8,2363.3L931.2,2364.7L931.6,2366.2L932.0,2367.7L932.3,2369.1L932.7,2370.6L933.1,2372.0L933.5,2373.5L933.9,2374.9L934.3,2376.4L934.9,2378.3L935.4,2380.2L936.0,2382.1L936.5,2384.0L937.0,2385.9L937.5,2387.8L938.0,2389.7L938.5,2391.6L939.0,2393.5L939.5,2395.4L940.1,2397.2L940.7,2399.1L941.1,2400.6L941.6,2402.0L942.2,2403.4L942.8,2404.9L943.4,2406.3L944.1,2407.8L944.8,2409.3L945.6,2410.7L946.4,2412.2L947.3,2413.7L948.3,2415.2L949.3,2416.7L950.3,2418.1L951.4,2419.5L952.6,2420.8L953.7,2422.1L954.9,2423.3L956.1,2424.4L957.3,2425.3L958.9,2426.4L960.6,2427.3L962.2,2427.9L963.8,2428.2L965.4,2428.1L966.9,2427.7L968.5,2427.0L969.9,2425.9L971.4,2424.7L972.5,2423.7L973.6,2422.5L974.7,2421.4L975.8,2420.2L977.0,2418.9L978.1,2417.7L979.3,2416.6L980.5,2415.4L981.7,2414.4L983.0,2413.5L984.3,2412.6L986.0,2411.7L987.8,2411.1L989.6,2410.7L991.4,2410.7L993.1,2410.9L994.7,2411.4L996.3,2412.2L997.9,2413.2L999.4,2414.4L1000.5,2415.5L1001.5,2416.6L1002.6,2417.8L1003.6,2419.1L1004.6,2420.5L1005.6,2421.9L1006.6,2423.3L1007.5,2424.8L1008.4,2426.4L1009.3,2427.9L1010.2,2429.5L1011.1,2431.0L1011.9,2432.6L1012.7,2434.1L1013.5,2435.6L1014.3,2437.2L1015.1,2438.7L1015.9,2440.2L1016.6,2441.7L1017.4,2443.2L1018.1,2444.7L1018.8,2446.2L1019.5,2447.7L1020.2,2449.2L1020.9,2450.6L1021.6,2452.1L1022.2,2453.6L1022.9,2455.0L1023.5,2456.5L1024.2,2457.9L1024.8,2459.3L1025.4,2460.7L1026.1,2462.2L1026.7,2463.6L1027.3,2465.0L1027.9,2466.4L1028.5,2467.7L1029.1,2469.1L1029.9,2470.9L1030.8,2472.8L1031.6,2474.6L1032.4,2476.3L1033.2,2478.1L1034.0,2479.9L1034.8,2481.6L1035.7,2483.3L1036.5,2485.0L1037.3,2486.7L1038.2,2488.4L1039.1,2490.1L1040.0,2491.7L1040.9,2493.3L1041.8,2494.9L1042.8,2496.5L1043.7,2498.1L1044.7,2499.7L1045.7,2501.2L1046.8,2502.8L1047.9,2504.3L1049.0,2505.8L1050.1,2507.3L1051.2,2508.7L1052.4,2510.2L1053.7,2511.6L1054.9,2513.0L1056.2,2514.4L1057.6,2515.8L1058.9,2517.1L1060.3,2518.4L1061.8,2519.8L1063.3,2521.1L1064.8,2522.3L1066.3,2523.6L1067.9,2524.8L1069.1,2525.7L1070.3,2526.6L1071.5,2527.5L1072.7,2528.4L1074.0,2529.3L1075.2,2530.1L1076.5,2531.0L1077.8,2531.8L1079.1,2532.6L1080.4,2533.5L1081.7,2534.3L1083.0,2535.0L1084.3,2535.8L1085.7,2536.6L1087.0,2537.3L1088.4,2538.1L1089.7,2538.8L1091.1,2539.5L1092.5,2540.2L1093.9,2540.9L1095.2,2541.6L1096.6,2542.2L1098.0,2542.9L1099.4,2543.5L1100.8,2544.2L1102.2,2544.8L1103.6,2545.4L1105.0,2546.0L1106.4,2546.5L1107.8,2547.1L1109.2,2547.6L1110.6,2548.2L1112.1,2548.7L1113.5,2549.2L1114.9,2549.7L1116.3,2550.2L1117.7,2550.7L1119.1,2551.2L1121.0,2551.8L1122.9,2552.4L1124.9,2553.0L1126.8,2553.6L1128.7,2554.2L1130.6,2554.7L1132.5,2555.2L1134.4,2555.8L1136.4,2556.3L1138.3,2556.8L1140.2,2557.3L1142.2,2557.8L1144.1,2558.2L1146.0,2558.7L1148.0,2559.1L1149.9,2559.6L1151.9,2560.0L1153.4,2560.3L1154.8,2560.7L1156.3,2561.0L1157.8,2561.3L1159.2,2561.6L1160.7,2561.9L1162.2,2562.2L1163.7,2562.4L1165.1,2562.7L1166.6,2563.0L1168.1,2563.3L1169.6,2563.5L1171.0,2563.8L1172.5,2564.0L1174.0,2564.3L1175.5,2564.5L1177.0,2564.7L1178.5,2564.9L1180.0,2565.1L1181.4,2565.4L1182.9,2565.6L1184.4,2565.7L1185.9,2565.9L1187.4,2566.1L1188.9,2566.3L1190.4,2566.4L1191.9,2566.6L1193.4,2566.7L1194.9,2566.9L1196.4,2567.0L1197.9,2567.2L1199.4,2567.3L1200.8,2567.4L1202.3,2567.5L1203.8,2567.6L1205.3,2567.7L1206.8,2567.8L1208.3,2567.9L1209.8,2568.0L1211.3,2568.1L1212.8,2568.1L1214.3,2568.2L1215.8,2568.3L1217.3,2568.4L1218.8,2568.4L1220.3,2568.5L1221.8,2568.6L1223.3,2568.6L1224.8,2568.7L1226.3,2568.7L1227.8,2568.8L1229.3,2568.8L1230.8,2568.9L1232.3,2569.0L1233.8,2569.0L1235.3,2569.1L1236.8,2569.1L1238.3,2569.2L1239.8,2569.2L1241.3,2569.3L1242.8,2569.3L1244.3,2569.4L1245.8,2569.4L1247.3,2569.5L1248.8,2569.5L1250.3,2569.6L1251.8,2569.6L1253.3,2569.7L1254.8,2569.7L1256.3,2569.8L1257.8,2569.8L1259.3,2569.9L1260.8,2569.9L1262.3,2570.0L1263.8,2570.0L1265.3,2570.1L1266.8,2570.1L1268.3,2570.1L1269.8,2570.2L1271.3,2570.2L1272.8,2570.2L1274.3,2570.3L1275.8,2570.3L1277.3,2570.3L1278.8,2570.3L1280.3,2570.4L1281.8,2570.4L1283.3,2570.4L1284.8,2570.4L1286.3,2570.4L1287.8,2570.4L1289.3,2570.5L1290.8,2570.5L1292.3,2570.5L1293.8,2570.5L1295.3,2570.5L1296.8,2570.5L1298.3,2570.5L1299.8,2570.5L1301.3,2570.5L1302.8,2570.5L1304.3,2570.5L1305.8,2570.5L1307.3,2570.5L1308.8,2570.6L1310.3,2570.6L1311.8,2570.6L1313.3,2570.6L1314.8,2570.6L1316.3,2570.6L1317.8,2570.7L1319.3,2570.7L1320.8,2570.7L1322.3,2570.8L1323.8,2570.8L1325.3,2570.8L1326.8,2570.9L1328.3,2570.9L1329.8,2571.0L1331.3,2571.0L1332.8,2571.1L1334.3,2571.1L1335.8,2571.2L1337.3,2571.2L1338.8,2571.3L1340.3,2571.4L1341.8,2571.4L1343.3,2571.5L1344.8,2571.6L1346.3,2571.6L1347.8,2571.7L1349.3,2571.8L1350.8,2571.9L1352.3,2571.9L1353.8,2572.0L1355.3,2572.1L1356.8,2572.1L1358.3,2572.2L1359.8,2572.3L1361.3,2572.4L1362.8,2572.4L1364.3,2572.5L1365.8,2572.6L1367.3,2572.6L1368.8,2572.7L1370.3,2572.8L1371.8,2572.8L1373.3,2572.9L1374.8,2572.9L1376.3,2573.0L1377.8,2573.0L1379.3,2573.1L1380.8,2573.1L1382.3,2573.2L1383.8,2573.2L1385.3,2573.3L1386.8,2573.3L1388.3,2573.4L1389.8,2573.4L1391.3,2573.5L1392.8,2573.5L1394.3,2573.6L1395.8,2573.6L1397.3,2573.7L1398.8,2573.7L1400.3,2573.8L1401.8,2573.8L1403.3,2573.8L1404.8,2573.9L1406.3,2573.9L1407.8,2574.0L1409.3,2574.0L1410.8,2574.1L1412.3,2574.1L1413.8,2574.2L1415.3,2574.2L1416.8,2574.3L1418.3,2574.3L1419.8,2574.4L1421.3,2574.4L1422.8,2574.5L1424.3,2574.6L1425.8,2574.6L1427.3,2574.7L1428.8,2574.7L1430.3,2574.8L1431.8,2574.9L1433.3,2574.9L1434.8,2575.0L1436.3,2575.0L1437.8,2575.1L1439.3,2575.2L1440.8,2575.2L1442.3,2575.3L1443.8,2575.4L1445.3,2575.4L1446.8,2575.5L1448.3,2575.6L1449.8,2575.6L1451.3,2575.7L1452.8,2575.8L1454.3,2575.8L1455.8,2575.9L1457.3,2576.0L1458.8,2576.0L1460.3,2576.1L1461.8,2576.2L1463.3,2576.2L1464.8,2576.3L1466.3,2576.4L1467.8,2576.4L1469.3,2576.5L1470.8,2576.6L1472.3,2576.6L1473.8,2576.7L1475.3,2576.8L1476.8,2576.8L1478.3,2576.9L1479.8,2576.9L1481.3,2577.0L1482.8,2577.1L1484.3,2577.1L1485.8,2577.2L1487.3,2577.2L1488.8,2577.3L1490.3,2577.4L1491.8,2577.4L1493.3,2577.5L1494.8,2577.5L1496.3,2577.6L1497.8,2577.6L1499.3,2577.7L1500.8,2577.7L1502.3,2577.7L1503.8,2577.8L1505.3,2577.8L1506.8,2577.9L1508.3,2577.9L1509.8,2577.9L1511.3,2578.0L1512.8,2578.0L1514.3,2578.0L1515.8,2578.1L1517.3,2578.1L1518.8,2578.1L1520.3,2578.1L1521.8,2578.2L1523.3,2578.2L1524.8,2578.2L1526.3,2578.2L1527.8,2578.3L1529.3,2578.3L1530.8,2578.3L1532.3,2578.3L1533.8,2578.4L1535.3,2578.4L1536.8,2578.4L1538.3,2578.4L1539.8,2578.5L1541.3,2578.5L1542.8,2578.5L1544.3,2578.5L1545.8,2578.5L1547.3,2578.6L1548.8,2578.6L1550.3,2578.6L1551.8,2578.7L1553.3,2578.7L1554.8,2578.7L1556.3,2578.7L1557.8,2578.8L1559.3,2578.8L1560.8,2578.8L1562.3,2578.9L1563.8,2578.9L1565.3,2579.0L1566.8,2579.0L1568.3,2579.0L1569.8,2579.1L1571.3,2579.1L1572.8,2579.1L1574.3,2579.2L1575.8,2579.2L1577.3,2579.3L1578.8,2579.3L1580.3,2579.3L1581.8,2579.4L1583.3,2579.4L1584.8,2579.5L1586.3,2579.5L1587.8,2579.5L1589.3,2579.6L1590.8,2579.6L1592.3,2579.7L1593.8,2579.7L1595.3,2579.8L1596.8,2579.8L1598.3,2579.8L1599.8,2579.9L1601.3,2579.9L1602.8,2580.0L1604.3,2580.0L1605.8,2580.1L1607.3,2580.1L1608.8,2580.1L1610.3,2580.2L1611.8,2580.2L1613.3,2580.3L1614.8,2580.3L1616.3,2580.3L1617.8,2580.4L1619.3,2580.4L1620.8,2580.5L1622.3,2580.5L1623.8,2580.5L1625.3,2580.6L1626.8,2580.6L1628.3,2580.6L1629.8,2580.7L1631.3,2580.7L1632.8,2580.7L1634.3,2580.7L1635.8,2580.8L1637.3,2580.8L1638.8,2580.8L1640.3,2580.8L1641.8,2580.9L1643.3,2580.9L1644.8,2580.9L1646.3,2580.9L1647.8,2580.9L1649.3,2580.9L1650.8,2581.0L1652.3,2581.0L1653.8,2581.0L1655.3,2581.0L1656.8,2581.0L1658.3,2581.0L1659.8,2581.0L1661.3,2581.1L1662.8,2581.1L1664.3,2581.1L1665.8,2581.1L1667.3,2581.1L1668.8,2581.1L1670.3,2581.2L1671.8,2581.2L1673.3,2581.2L1674.8,2581.2L1676.3,2581.3L1677.8,2581.3L1679.3,2581.3L1680.8,2581.3L1682.3,2581.4L1683.8,2581.4L1685.3,2581.5L1686.8,2581.5L1688.3,2581.5L1689.8,2581.6L1691.3,2581.6L1692.8,2581.7L1694.3,2581.7L1695.8,2581.8L1697.3,2581.8L1698.8,2581.9L1699.8,2581.9" fill="none" stroke="#ff0000" stroke-width="9.0" stroke-linejoin="round" stroke-linecap="butt"/>
<ellipse cx="204.0" cy="1990.0" rx="12.0" ry="11.7" fill="#ff0000"/>
<ellipse cx="248.8" cy="1976.3" rx="12.0" ry="11.7" fill="#ff0000"/>
<ellipse cx="293.6" cy="1996.2" rx="12.0" ry="11.7" fill="#ff0000"/>
<ellipse cx="338.4" cy="2063.3" rx="12.0" ry="11.7" fill="#ff0000"/>
<ellipse cx="383.2" cy="2160.3" rx="12.0" ry="11.7" fill="#ff0000"/>
<ellipse cx="428.1" cy="2173.5" rx="12.0" ry="11.7" fill="#ff0000"/>
<ellipse cx="472.9" cy="2084.4" rx="12.0" ry="11.7" fill="#ff0000"/>
<ellipse cx="517.7" cy="1943.5" rx="12.0" ry="11.7" fill="#ff0000"/>
<ellipse cx="562.5" cy="1896.6" rx="12.0" ry="11.7" fill="#ff0000"/>
<ellipse cx="607.3" cy="1973.9" rx="12.0" ry="11.7" fill="#ff0000"/>
<ellipse cx="652.1" cy="2219.0" rx="12.0" ry="11.7" fill="#ff0000"/>
<ellipse cx="696.9" cy="2345.5" rx="12.0" ry="11.7" fill="#ff0000"/>
<ellipse cx="741.7" cy="2392.3" rx="12.0" ry="11.7" fill="#ff0000"/>
<ellipse cx="786.5" cy="2405.6" rx="12.0" ry="11.7" fill="#ff0000"/>
<ellipse cx="831.3" cy="2350.3" rx="12.0" ry="11.7" fill="#ff0000"/>
<ellipse cx="876.2" cy="2177.5" rx="12.0" ry="11.7" fill="#ff0000"/>
<ellipse cx="921.0" cy="2317.5" rx="12.0" ry="11.7" fill="#ff0000"/>
<ellipse cx="965.8" cy="2428.2" rx="12.0" ry="11.7" fill="#ff0000"/>
<ellipse cx="1010.6" cy="2430.2" rx="12.0" ry="11.7" fill="#ff0000"/>
<ellipse cx="1055.4" cy="2513.5" rx="12.0" ry="11.7" fill="#ff0000"/>
<ellipse cx="1100.2" cy="2543.9" rx="12.0" ry="11.7" fill="#ff0000"/>
<ellipse cx="1145.0" cy="2558.4" rx="12.0" ry="11.7" fill="#ff0000"/>
<ellipse cx="1189.8" cy="2566.4" rx="12.0" ry="11.7" fill="#ff0000"/>
<ellipse cx="1234.6" cy="2569.0" rx="12.0" ry="11.7" fill="#ff0000"/>
<ellipse cx="1279.4" cy="2570.4" rx="12.0" ry="11.7" fill="#ff0000"/>
<ellipse cx="1324.2" cy="2570.8" rx="12.0" ry="11.7" fill="#ff0000"/>
<ellipse cx="1369.1" cy="2572.7" rx="12.0" ry="11.7" fill="#ff0000"/>
<ellipse cx="1413.9" cy="2574.2" rx="12.0" ry="11.7" fill="#ff0000"/>
<ellipse cx="1458.7" cy="2576.0" rx="12.0" ry="11.7" fill="#ff0000"/>
<ellipse cx="1503.5" cy="2577.8" rx="12.0" ry="11.7" fill="#ff0000"/>
<ellipse cx="1548.3" cy="2578.6" rx="12.0" ry="11.7" fill="#ff0000"/>
<ellipse cx="1593.1" cy="2579.7" rx="12.0" ry="11.7" fill="#ff0000"/>
<ellipse cx="1637.9" cy="2580.8" rx="12.0" ry="11.7" fill="#ff0000"/>
<ellipse cx="1682.7" cy="2581.4" rx="12.0" ry="11.7" fill="#ff0000"/>
<path d="M204.0,1881.4L205.1,1882.5L206.1,1883.6L207.2,1884.7L208.3,1885.7L209.3,1886.8L210.4,1887.9L211.5,1889.0L212.5,1890.0L213.6,1891.1L214.7,1892.2L215.7,1893.3L216.8,1894.4L217.8,1895.4L218.9,1896.5L219.9,1897.6L221.0,1898.7L222.0,1899.8L223.0,1900.9L224.1,1902.0L225.1,1903.1L226.1,1904.2L227.2,1905.3L228.2,1906.4L229.2,1907.5L230.2,1908.6L231.2,1909.8L232.2,1910.9L233.5,1912.4L234.8,1913.9L236.1,1915.4L237.4,1916.9L238.6,1918.5L239.9,1920.0L241.2,1921.6L242.4,1923.1L243.6,1924.7L244.8,1926.3L246.0,1927.9L247.2,1929.5L248.3,1931.1L249.4,1932.7L250.6,1934.4L251.7,1936.0L252.8,1937.7L253.8,1939.3L254.9,1941.0L255.9,1942.7L256.9,1944.4L258.0,1946.1L259.0,1947.8L259.9,1949.5L260.9,1951.3L261.9,1953.0L262.8,1954.8L263.8,1956.5L264.7,1958.3L265.6,1960.1L266.5,1961.9L267.4,1963.6L268.3,1965.4L268.9,1966.8L269.6,1968.1L270.2,1969.5L270.8,1970.9L271.5,1972.2L272.1,1973.6L272.7,1975.0L273.4,1976.3L274.0,1977.7L274.6,1979.1L275.2,1980.5L275.8,1981.9L276.4,1983.2L277.0,1984.6L277.6,1986.0L278.2,1987.4L278.8,1988.8L279.4,1990.2L280.0,1991.6L280.5,1993.0L281.1,1994.4L281.7,1995.8L282.3,1997.2L282.8,1998.6L283.4,2000.0L284.0,2001.4L284.6,2002.8L285.1,2004.2L285.7,2005.6L286.3,2007.0L286.8,2008.4L287.4,2009.8L288.0,2011.2L288.5,2012.7L289.1,2014.1L289.7,2015.5L290.2,2016.9L290.8,2018.3L291.4,2019.7L291.9,2021.1L292.5,2022.5L293.1,2023.9L293.7,2025.3L294.2,2026.7L294.8,2028.1L295.4,2029.5L296.0,2030.9L296.6,2032.3L297.1,2033.7L297.7,2035.1L298.3,2036.5L298.9,2037.9L299.5,2039.3L300.1,2040.6L300.7,2042.0L301.3,2043.4L301.8,2044.8L302.4,2046.2L303.0,2047.6L303.6,2049.0L304.2,2050.3L304.8,2051.7L305.4,2053.1L306.0,2054.5L306.6,2055.9L307.2,2057.3L307.8,2058.6L308.4,2060.0L309.1,2061.4L309.7,2062.8L310.3,2064.1L310.9,2065.5L311.5,2066.9L312.1,2068.3L312.7,2069.6L313.3,2071.0L313.9,2072.4L314.6,2073.7L315.2,2075.1L315.8,2076.5L316.4,2077.8L317.2,2079.7L318.0,2081.5L318.9,2083.3L319.7,2085.1L320.5,2086.9L321.3,2088.8L322.2,2090.6L323.0,2092.4L323.8,2094.2L324.7,2096.0L325.5,2097.8L326.3,2099.7L327.2,2101.5L328.0,2103.3L328.8,2105.1L329.7,2106.9L330.5,2108.7L331.3,2110.5L332.1,2112.3L333.0,2114.1L333.8,2115.9L334.6,2117.7L335.5,2119.6L336.3,2121.4L337.1,2123.2L338.0,2125.0L338.8,2126.8L339.6,2128.6L340.5,2130.4L341.3,2132.2L342.1,2134.0L343.0,2135.8L343.8,2137.6L344.6,2139.4L345.4,2141.2L346.3,2143.0L347.1,2144.8L347.9,2146.6L348.7,2148.4L349.6,2150.2L350.4,2152.0L351.2,2153.9L352.0,2155.7L352.8,2157.5L353.6,2159.3L354.5,2161.1L355.3,2162.9L356.1,2164.7L356.9,2166.5L357.7,2168.4L358.5,2170.2L359.3,2172.0L360.1,2173.8L360.9,2175.6L361.7,2177.5L362.5,2179.3L363.3,2181.1L364.1,2183.0L364.9,2184.8L365.7,2186.6L366.3,2188.0L366.9,2189.4L367.5,2190.8L368.1,2192.2L368.6,2193.5L369.2,2194.9L369.8,2196.3L370.4,2197.7L371.0,2199.1L371.6,2200.5L372.1,2201.9L372.7,2203.3L373.3,2204.7L373.9,2206.1L374.5,2207.5L375.0,2208.9L375.6,2210.3L376.2,2211.7L376.7,2213.1L377.3,2214.5L377.9,2215.9L378.4,2217.3L379.0,2218.7L379.6,2220.2L380.1,2221.6L380.7,2223.0L381.2,2224.4L381.8,2225.9L382.3,2227.3L382.9,2228.7L383.4,2230.1L384.0,2231.6L384.5,2233.0L385.1,2234.5L385.6,2235.9L386.2,2237.3L386.7,2238.8L387.2,2240.2L387.8,2241.7L388.3,2243.1L388.9,2244.5L389.5,2246.0L390.0,2247.4L390.6,2248.8L391.1,2250.3L391.7,2251.7L392.3,2253.1L392.9,2254.5L393.5,2256.0L394.1,2257.4L394.7,2258.8L395.3,2260.2L395.9,2261.6L396.5,2263.0L397.1,2264.4L397.8,2265.7L398.4,2267.1L399.1,2268.5L399.8,2269.9L400.5,2271.2L401.2,2272.6L401.9,2273.9L402.6,2275.2L403.3,2276.5L404.1,2277.8L404.8,2279.1L405.6,2280.4L406.4,2281.7L407.2,2283.0L408.0,2284.2L409.1,2285.9L410.2,2287.5L411.4,2289.2L412.6,2290.7L413.9,2292.3L414.8,2293.5L415.8,2294.6L416.8,2295.8L417.8,2296.9L418.8,2298.0L419.9,2299.1L420.9,2300.1L422.0,2301.2L423.1,2302.2L424.3,2303.2L425.5,2304.3L426.6,2305.2L427.8,2306.2L429.1,2307.2L430.3,2308.1L431.6,2309.0L432.9,2309.8L434.2,2310.7L435.6,2311.4L436.9,2312.2L438.3,2312.8L439.7,2313.4L441.1,2314.0L443.0,2314.6L444.9,2315.0L446.8,2315.3L448.8,2315.5L450.7,2315.4L452.6,2315.2L454.6,2314.8L456.5,2314.3L458.0,2313.8L459.4,2313.3L460.8,2312.7L462.2,2312.0L463.6,2311.3L464.9,2310.5L466.3,2309.6L467.6,2308.7L468.9,2307.8L470.1,2306.9L471.3,2305.9L472.5,2304.8L473.6,2303.8L474.7,2302.7L475.8,2301.6L476.8,2300.5L477.8,2299.4L479.1,2297.9L480.3,2296.3L481.5,2294.7L482.6,2293.0L483.6,2291.4L484.6,2289.7L485.5,2288.0L486.4,2286.2L487.2,2284.4L488.0,2282.6L488.8,2280.8L489.5,2278.9L490.1,2277.1L490.8,2275.2L491.2,2273.7L491.6,2272.3L492.0,2270.8L492.4,2269.3L492.8,2267.9L493.2,2266.4L493.5,2264.9L493.8,2263.4L494.1,2261.9L494.4,2260.4L494.7,2258.8L495.0,2257.3L495.3,2255.8L495.5,2254.2L495.8,2252.7L496.0,2251.1L496.3,2249.6L496.5,2248.0L496.7,2246.5L496.9,2244.9L497.1,2243.4L497.3,2241.8L497.5,2240.2L497.8,2238.7L498.0,2237.1L498.2,2235.5L498.4,2234.0L498.6,2232.4L498.8,2230.8L499.0,2229.3L499.2,2227.7L499.4,2226.2L499.7,2224.6L499.9,2223.1L500.1,2221.5L500.4,2220.0L500.6,2218.4L500.9,2216.9L501.2,2215.4L501.5,2213.9L501.8,2212.4L502.1,2210.9L502.4,2209.4L502.7,2207.9L503.1,2206.4L503.5,2205.0L503.9,2203.5L504.2,2202.1L504.6,2200.6L505.2,2198.7L505.7,2196.8L506.2,2194.8L506.8,2192.9L507.3,2191.0L507.8,2189.1L508.3,2187.1L508.8,2185.2L509.2,2183.7L509.5,2182.3L509.9,2180.8L510.3,2179.4L510.6,2177.9L511.0,2176.4L511.3,2175.0L511.7,2173.5L512.0,2172.1L512.4,2170.6L512.7,2169.1L513.1,2167.7L513.5,2166.2L513.8,2164.8L514.2,2163.3L514.6,2161.9L515.0,2160.4L515.4,2159.0L515.8,2157.5L516.4,2155.6L517.0,2153.7L517.6,2151.8L518.3,2149.9L519.0,2148.0L519.5,2146.7L520.1,2145.3L520.6,2143.9L521.2,2142.5L521.8,2141.1L522.4,2139.7L523.0,2138.3L523.6,2136.9L524.1,2135.6L524.7,2134.2L525.3,2132.8L525.9,2131.4L526.4,2130.0L527.1,2128.1L527.8,2126.2L528.4,2124.4L529.0,2122.5L529.6,2120.5L530.2,2118.6L530.7,2116.7L531.0,2115.2L531.4,2113.8L531.7,2112.3L532.1,2110.8L532.4,2109.4L532.7,2107.9L533.1,2106.4L533.4,2105.0L533.7,2103.5L534.0,2102.0L534.3,2100.6L534.6,2099.1L534.9,2097.6L535.2,2096.1L535.5,2094.7L535.8,2093.2L536.1,2091.7L536.4,2090.3L536.7,2088.8L537.0,2087.3L537.3,2085.8L537.6,2084.4L537.9,2082.9L538.2,2081.4L538.4,2079.9L538.7,2078.5L539.0,2077.0L539.3,2075.5L539.6,2074.0L539.8,2072.6L540.1,2071.1L540.4,2069.6L540.6,2068.1L540.9,2066.7L541.1,2065.2L541.4,2063.7L541.6,2062.2L541.9,2060.7L542.1,2059.3L542.4,2057.8L542.6,2056.3L542.9,2054.8L543.1,2053.3L543.3,2051.9L543.5,2050.4L543.8,2048.9L544.0,2047.4L544.2,2045.9L544.4,2044.4L544.6,2042.9L544.8,2041.5L545.0,2040.0L545.2,2038.5L545.4,2037.0L545.6,2035.5L545.8,2034.0L546.0,2032.5L546.1,2031.0L546.3,2029.5L546.5,2028.0L546.7,2026.6L546.8,2025.1L547.0,2023.6L547.2,2022.1L547.3,2020.6L547.5,2019.1L547.7,2017.6L547.8,2016.1L548.0,2014.6L548.2,2013.1L548.4,2011.6L548.6,2010.1L548.8,2008.7L549.0,2007.2L549.2,2005.7L549.4,2004.2L549.6,2002.7L549.8,2001.2L550.0,1999.8L550.3,1998.3L550.6,1996.3L550.9,1994.3L551.2,1992.3L551.5,1990.4L551.7,1988.4L551.9,1986.4L552.1,1984.9L552.3,1983.4L552.4,1981.9L552.5,1980.4L552.7,1978.9L552.8,1977.4L552.9,1975.9L553.0,1974.4L553.1,1972.9L553.2,1971.4L553.3,1969.9L553.5,1968.4L553.6,1966.9L553.7,1965.4L553.8,1963.9L553.9,1962.5L554.1,1961.0L554.2,1959.5L554.3,1958.0L554.5,1956.5L554.6,1955.0L554.7,1953.5L554.9,1952.0L555.0,1950.5L555.2,1949.0L555.3,1947.5L555.5,1946.0L555.6,1944.5L555.8,1943.0L555.9,1941.5L556.1,1940.0L556.2,1938.5L556.4,1937.1L556.5,1935.6L556.7,1934.1L556.8,1932.6L557.0,1931.1L557.1,1929.6L557.3,1928.1L557.4,1926.6L557.6,1925.1L557.7,1923.6L557.9,1922.1L558.0,1920.6L558.2,1919.1L558.3,1917.6L558.4,1916.1L558.5,1914.6L558.7,1913.1L558.8,1911.7L558.9,1910.2L559.0,1908.7L559.2,1907.2L559.3,1905.7L559.4,1904.2L559.5,1902.7L559.6,1901.2L559.8,1899.7L559.9,1898.2L560.0,1896.7L560.2,1895.2L560.3,1893.7L560.5,1892.2L560.6,1890.7L560.8,1889.2L560.9,1887.7L561.1,1886.2L561.3,1884.7L561.4,1883.3L561.6,1881.8L561.8,1880.3L562.0,1878.8L562.2,1877.3L562.4,1875.8L562.6,1874.3L562.9,1872.8L563.1,1871.4L563.3,1869.9L563.5,1868.4L563.7,1866.9L564.0,1864.9L564.2,1862.9L564.4,1861.0L564.6,1859.0L564.7,1857.5L564.8,1856.0L564.9,1854.5L565.1,1853.0L565.2,1851.5L565.3,1850.0L565.4,1848.5L565.5,1847.0L565.7,1845.5L565.8,1844.0L566.0,1842.5L566.2,1841.0L566.3,1839.5L566.5,1838.0L566.7,1836.5L566.9,1835.1L567.1,1833.6L567.3,1832.1L567.5,1830.6L567.7,1829.1L567.9,1827.6L568.0,1826.1L568.2,1824.6L568.4,1823.2L568.6,1821.7L568.8,1820.2L569.0,1818.7L569.2,1817.2L569.4,1815.7L569.6,1814.2L569.8,1812.7L569.9,1811.2L570.1,1809.8L570.3,1808.3L570.4,1806.8L570.6,1805.3L570.8,1803.8L570.9,1802.3L571.1,1800.8L571.3,1799.3L571.4,1797.8L571.6,1796.3L571.8,1794.8L571.9,1793.3L572.1,1791.8L572.4,1790.3L572.7,1788.4L573.1,1786.4L573.6,1784.5L574.1,1782.6L574.8,1780.7L575.4,1778.8L576.2,1777.0L576.8,1775.6L577.4,1774.2L578.0,1772.8L578.7,1771.5L579.3,1770.1L580.0,1768.8L580.2,1768.3L580.9,1769.7L581.5,1771.0L582.2,1772.4L582.8,1773.7L583.4,1775.1L584.0,1776.5L584.8,1778.3L585.5,1780.2L586.2,1782.1L586.8,1784.0L587.3,1785.9L587.7,1787.8L588.1,1789.8L588.5,1791.8L588.7,1793.2L589.0,1794.7L589.2,1796.2L589.4,1797.7L589.6,1799.2L589.8,1800.7L589.9,1802.2L590.1,1803.7L590.3,1805.2L590.5,1806.7L590.7,1808.2L590.9,1809.6L591.0,1811.1L591.2,1812.6L591.4,1814.1L591.6,1815.6L591.7,1817.1L591.9,1818.6L592.1,1820.1L592.2,1821.6L592.4,1823.1L592.6,1824.6L592.7,1826.0L592.9,1827.5L593.1,1829.0L593.2,1830.5L593.4,1832.0L593.5,1833.5L593.7,1835.0L593.8,1836.5L594.0,1838.0L594.1,1839.5L594.3,1841.0L594.4,1842.5L594.6,1844.0L594.7,1845.4L594.9,1846.9L595.1,1848.4L595.2,1849.9L595.4,1851.4L595.5,1852.9L595.7,1854.4L595.9,1855.9L596.1,1857.4L596.2,1858.9L596.4,1860.4L596.6,1861.9L596.7,1863.3L596.9,1864.8L597.0,1866.3L597.2,1867.8L597.3,1869.3L597.5,1870.8L597.6,1872.3L597.7,1873.8L597.9,1875.3L598.0,1876.8L598.1,1878.3L598.3,1879.8L598.4,1881.3L598.6,1882.8L598.7,1884.3L598.9,1885.8L599.0,1887.2L599.2,1888.7L599.3,1890.2L599.5,1891.7L599.6,1893.2L599.8,1894.7L599.9,1896.2L600.1,1897.7L600.2,1899.2L600.4,1900.7L600.5,1902.2L600.6,1903.7L600.8,1905.2L600.9,1906.7L601.1,1908.2L601.2,1909.7L601.3,1911.1L601.4,1912.6L601.6,1914.1L601.7,1915.6L601.8,1917.1L601.9,1918.6L602.1,1920.1L602.2,1921.6L602.3,1923.1L602.4,1924.6L602.5,1926.1L602.6,1927.6L602.7,1929.1L602.8,1930.6L602.9,1932.1L603.0,1933.6L603.1,1935.1L603.2,1936.6L603.3,1938.1L603.4,1939.6L603.5,1941.1L603.6,1942.6L603.7,1944.1L603.8,1945.6L603.9,1947.1L604.0,1948.6L604.1,1950.1L604.3,1951.6L604.4,1953.1L604.5,1954.6L604.6,1956.0L604.7,1957.5L604.8,1959.0L604.9,1960.5L605.0,1962.0L605.1,1963.5L605.2,1965.0L605.3,1966.5L605.4,1968.0L605.5,1969.5L605.6,1971.0L605.7,1972.5L605.7,1974.0L605.8,1975.5L605.9,1977.0L606.0,1978.5L606.1,1980.0L606.3,1981.5L606.4,1983.0L606.5,1984.5L606.7,1986.5L607.0,1988.5L607.2,1990.5L607.5,1992.4L607.9,1994.4L608.1,1995.9L608.4,1997.4L608.7,1999.3L609.0,2001.3L609.3,2003.3L609.5,2005.3L609.8,2007.3L610.0,2009.3L610.2,2011.2L610.3,2012.7L610.4,2014.2L610.5,2015.7L610.7,2017.2L610.8,2018.7L610.9,2020.2L611.0,2021.7L611.1,2023.2L611.1,2024.7L611.2,2026.2L611.3,2027.7L611.4,2029.2L611.5,2030.7L611.6,2032.2L611.7,2033.7L611.7,2035.2L611.8,2036.7L611.9,2038.2L612.0,2039.7L612.1,2041.2L612.2,2042.7L612.3,2044.2L612.4,2045.7L612.5,2047.2L612.7,2048.7L612.8,2050.2L612.9,2051.7L613.0,2053.2L613.1,2054.7L613.2,2056.2L613.4,2057.7L613.5,2059.2L613.6,2060.7L613.7,2062.2L613.9,2063.7L614.0,2065.2L614.1,2066.6L614.3,2068.1L614.4,2069.6L614.6,2071.1L614.7,2072.6L614.9,2074.1L615.0,2075.6L615.1,2077.1L615.3,2078.6L615.4,2080.1L615.6,2081.6L615.7,2083.1L615.9,2084.6L616.0,2086.1L616.2,2087.6L616.4,2089.0L616.5,2090.5L616.7,2092.0L616.8,2093.5L617.0,2095.0L617.1,2096.5L617.3,2098.0L617.4,2099.5L617.6,2101.0L617.7,2102.5L617.9,2104.0L618.0,2105.5L618.2,2107.0L618.3,2108.5L618.5,2110.0L618.6,2111.4L618.8,2112.9L618.9,2114.4L619.0,2115.9L619.2,2117.4L619.3,2118.9L619.5,2120.4L619.6,2121.9L619.8,2123.4L619.9,2124.9L620.1,2126.4L620.2,2127.9L620.4,2129.4L620.5,2130.9L620.7,2132.4L620.9,2133.8L621.0,2135.3L621.2,2136.8L621.3,2138.3L621.5,2139.8L621.7,2141.3L621.8,2142.8L622.0,2144.3L622.2,2145.8L622.4,2147.3L622.6,2148.8L622.7,2150.2L622.9,2151.7L623.1,2153.2L623.3,2154.7L623.5,2156.2L623.6,2157.7L623.8,2159.2L624.0,2160.7L624.2,2162.2L624.4,2163.6L624.6,2165.1L624.7,2166.6L624.9,2168.1L625.1,2169.6L625.3,2171.1L625.5,2172.6L625.7,2174.1L625.8,2175.6L626.0,2177.1L626.2,2178.6L626.4,2180.0L626.5,2181.5L626.7,2183.0L626.9,2184.5L627.0,2186.0L627.2,2187.5L627.4,2189.0L627.6,2190.5L627.7,2192.0L627.9,2193.5L628.1,2195.0L628.3,2196.4L628.4,2197.9L628.6,2199.4L628.8,2201.4L629.1,2203.4L629.3,2205.4L629.6,2207.4L629.8,2209.3L630.1,2211.3L630.4,2213.3L630.6,2215.3L630.9,2217.3L631.2,2219.2L631.5,2221.2L631.7,2223.2L632.0,2225.2L632.3,2227.1L632.6,2229.1L632.9,2231.1L633.2,2233.0L633.6,2235.0L633.9,2237.0L634.2,2239.0L634.5,2240.9L634.9,2242.9L635.2,2244.8L635.6,2246.8L635.9,2248.8L636.3,2250.7L636.7,2252.7L637.1,2254.7L637.4,2256.6L637.8,2258.6L638.2,2260.5L638.6,2262.5L639.0,2264.4L639.4,2266.4L639.9,2268.4L640.2,2269.8L640.5,2271.3L640.8,2272.7L641.2,2274.2L641.5,2275.7L641.9,2277.1L642.2,2278.6L642.6,2280.1L642.9,2281.5L643.3,2283.0L643.6,2284.4L644.0,2285.9L644.4,2287.4L644.8,2288.8L645.1,2290.3L645.5,2291.7L645.9,2293.2L646.3,2294.7L646.7,2296.1L647.1,2297.6L647.5,2299.0L647.9,2300.5L648.4,2301.9L648.8,2303.4L649.2,2304.9L649.6,2306.3L650.1,2307.8L650.5,2309.2L651.0,2310.7L651.4,2312.1L651.9,2313.6L652.3,2315.0L652.8,2316.5L653.3,2318.0L653.8,2319.4L654.2,2320.9L654.7,2322.3L655.2,2323.8L655.7,2325.2L656.2,2326.6L656.8,2328.1L657.3,2329.5L657.8,2331.0L658.3,2332.4L658.9,2333.8L659.4,2335.3L660.0,2336.7L660.5,2338.1L661.1,2339.6L661.7,2341.0L662.3,2342.4L662.8,2343.8L663.4,2345.2L664.0,2346.6L664.7,2348.0L665.3,2349.4L665.9,2350.8L666.5,2352.2L667.2,2353.6L667.8,2355.0L668.5,2356.3L669.2,2357.7L669.8,2359.0L670.5,2360.4L671.2,2361.7L671.9,2363.1L672.6,2364.4L673.4,2365.8L674.1,2367.1L674.8,2368.4L675.6,2369.7L676.3,2371.0L677.1,2372.3L677.9,2373.6L678.7,2374.9L679.5,2376.1L680.6,2377.8L681.7,2379.5L682.8,2381.1L683.9,2382.8L685.1,2384.4L686.2,2386.0L687.4,2387.6L688.7,2389.1L689.9,2390.7L691.2,2392.2L692.4,2393.7L693.7,2395.2L695.1,2396.7L696.4,2398.2L697.8,2399.6L699.1,2401.0L700.6,2402.4L702.0,2403.8L703.4,2405.1L704.9,2406.5L706.4,2407.8L707.9,2409.1L709.4,2410.4L711.0,2411.6L712.6,2412.9L714.1,2414.1L715.3,2415.0L716.6,2415.9L717.8,2416.7L719.0,2417.6L720.3,2418.5L721.5,2419.3L722.8,2420.2L724.0,2421.0L725.3,2421.8L726.6,2422.6L727.9,2423.4L729.2,2424.2L730.5,2425.0L731.8,2425.7L733.2,2426.5L734.5,2427.2L735.8,2428.0L737.2,2428.7L738.6,2429.4L739.9,2430.1L741.3,2430.8L742.7,2431.5L744.1,2432.1L745.5,2432.8L746.9,2433.5L748.3,2434.1L749.7,2434.7L751.1,2435.3L752.5,2435.9L754.0,2436.5L755.4,2437.1L756.8,2437.6L758.3,2438.1L759.7,2438.7L761.2,2439.1L762.6,2439.6L764.1,2440.1L765.5,2440.5L767.0,2440.9L768.5,2441.3L769.9,2441.6L771.4,2441.9L773.3,2442.3L775.3,2442.7L777.2,2443.0L779.2,2443.2L781.2,2443.4L783.1,2443.5L785.1,2443.6L787.0,2443.6L789.0,2443.6L790.9,2443.5L792.8,2443.3L794.8,2443.1L796.7,2442.9L798.7,2442.5L800.6,2442.2L802.5,2441.8L804.4,2441.3L806.4,2440.8L808.3,2440.3L809.7,2439.8L811.2,2439.4L812.6,2438.9L814.1,2438.4L815.5,2437.9L817.0,2437.4L818.4,2436.9L819.9,2436.3L821.3,2435.8L822.7,2435.2L824.2,2434.6L825.6,2434.0L827.1,2433.4L828.5,2432.7L830.0,2432.1L831.4,2431.5L832.9,2430.8L834.3,2430.2L835.8,2429.5L837.3,2428.8L838.7,2428.2L840.2,2427.5L841.6,2426.9L843.1,2426.3L844.5,2425.7L846.0,2425.1L847.5,2424.5L848.9,2423.9L850.4,2423.4L851.9,2422.9L853.3,2422.4L854.8,2422.0L856.2,2421.6L857.7,2421.2L859.7,2420.8L861.6,2420.4L863.6,2420.2L865.5,2420.0L867.5,2419.9L869.4,2420.0L871.4,2420.1L873.3,2420.4L875.3,2420.8L876.7,2421.2L878.2,2421.6L879.6,2422.1L881.1,2422.6L882.5,2423.2L884.0,2423.8L885.4,2424.4L886.9,2424.9L888.3,2425.5L889.7,2425.9L891.6,2426.5L893.5,2426.9L895.3,2427.2L897.2,2427.2L899.0,2427.0L900.8,2426.6L902.5,2426.0L904.3,2425.2L906.0,2424.3L907.7,2423.2L908.9,2422.3L910.1,2421.3L911.3,2420.3L912.5,2419.2L913.7,2418.1L914.8,2417.0L916.0,2415.8L917.1,2414.6L918.2,2413.3L919.2,2412.1L920.3,2410.9L921.3,2409.6L922.3,2408.4L923.2,2407.2L924.2,2406.0L925.1,2404.8L926.0,2403.6L927.2,2402.0L928.3,2400.3L929.4,2398.7L930.4,2397.0L931.4,2395.3L932.4,2393.6L933.4,2391.9L934.3,2390.1L935.2,2388.3L935.8,2387.0L936.5,2385.6L937.1,2384.3L937.8,2382.9L938.4,2381.5L939.0,2380.2L939.6,2378.8L940.3,2377.4L940.9,2376.0L941.5,2374.7L942.1,2373.3L942.7,2371.9L943.3,2370.6L943.9,2369.2L944.5,2367.8L945.1,2366.4L945.7,2365.1L946.3,2363.7L946.9,2362.3L947.5,2360.9L948.1,2359.5L948.7,2358.1L949.3,2356.8L949.8,2355.4L950.4,2354.0L951.0,2352.6L951.5,2351.2L952.1,2349.8L952.6,2348.4L953.1,2347.0L953.7,2345.6L954.2,2344.2L954.7,2342.8L955.2,2341.3L955.9,2339.5L956.5,2337.6L957.2,2335.7L957.8,2333.8L958.4,2331.9L959.0,2330.0L959.5,2328.1L960.1,2326.2L960.7,2324.3L961.2,2322.4L961.8,2320.5L962.3,2319.0L962.8,2317.6L963.3,2316.2L963.9,2314.8L964.5,2313.4L965.1,2312.0L965.8,2310.6L966.5,2309.2L967.2,2307.8L968.1,2306.4L968.9,2305.1L969.8,2303.8L970.8,2302.6L971.8,2301.5L972.9,2300.4L974.4,2299.2L976.0,2298.1L977.7,2297.3L979.4,2296.8L981.2,2296.6L983.0,2296.8L984.7,2297.4L986.4,2298.3L987.9,2299.4L989.4,2300.6L990.8,2302.0L992.1,2303.5L993.1,2304.7L993.9,2305.9L994.8,2307.2L995.6,2308.6L996.3,2309.9L997.0,2311.3L997.7,2312.8L998.4,2314.2L999.0,2315.7L999.6,2317.1L1000.2,2318.6L1000.8,2320.1L1001.3,2321.5L1001.9,2323.0L1002.4,2324.4L1002.9,2325.9L1003.4,2327.3L1003.9,2328.7L1004.4,2330.2L1004.9,2331.6L1005.6,2333.5L1006.2,2335.4L1006.8,2337.3L1007.5,2339.1L1008.1,2341.0L1008.8,2342.9L1009.4,2344.7L1010.1,2346.6L1010.8,2348.4L1011.5,2350.3L1012.2,2352.1L1013.0,2354.0L1013.7,2355.8L1014.3,2357.2L1014.9,2358.6L1015.4,2360.0L1016.0,2361.4L1016.6,2362.8L1017.1,2364.2L1017.7,2365.6L1018.2,2367.0L1018.7,2368.4L1019.2,2369.8L1019.8,2371.2L1020.3,2372.7L1020.8,2374.1L1021.3,2375.5L1021.7,2376.9L1022.2,2378.3L1022.7,2379.8L1023.2,2381.2L1023.9,2383.1L1024.6,2384.9L1025.3,2386.8L1026.1,2388.6L1026.8,2390.5L1027.6,2392.3L1028.4,2394.1L1029.3,2395.9L1030.2,2397.7L1030.8,2399.1L1031.5,2400.4L1032.2,2401.7L1033.0,2403.1L1033.7,2404.4L1034.5,2405.7L1035.2,2407.1L1036.0,2408.4L1036.8,2409.8L1037.6,2411.1L1038.4,2412.4L1039.3,2413.7L1040.2,2415.0L1041.1,2416.2L1042.1,2417.3L1043.5,2418.7L1045.0,2419.9L1046.7,2420.8L1048.4,2421.5L1050.2,2421.8L1052.0,2421.7L1053.8,2421.2L1055.6,2420.5L1057.2,2419.6L1058.7,2418.4L1060.1,2417.0L1061.1,2415.9L1062.0,2414.6L1062.9,2413.4L1063.8,2412.0L1064.6,2410.7L1065.4,2409.3L1066.1,2407.9L1066.9,2406.5L1067.6,2405.1L1068.2,2403.6L1068.9,2402.2L1069.5,2400.8L1070.2,2399.4L1070.8,2398.0L1071.4,2396.6L1071.9,2395.3L1072.5,2393.9L1073.3,2392.0L1074.0,2390.2L1074.8,2388.4L1075.5,2386.5L1076.3,2384.7L1077.0,2382.9L1077.8,2381.1L1078.6,2379.4L1079.4,2377.6L1080.2,2375.8L1081.0,2374.0L1081.9,2372.2L1082.7,2370.4L1083.3,2369.0L1084.0,2367.6L1084.6,2366.3L1085.3,2364.8L1085.9,2363.4L1086.6,2362.0L1087.2,2360.5L1087.9,2359.1L1088.5,2357.6L1089.2,2356.1L1089.9,2354.6L1090.6,2353.1L1091.3,2351.7L1092.1,2350.2L1092.8,2348.9L1093.7,2347.6L1094.6,2346.4L1095.9,2344.9L1097.3,2343.7L1098.8,2342.6L1100.5,2341.8L1102.3,2341.3L1104.2,2341.0L1106.2,2341.0L1108.1,2341.3L1110.0,2341.8L1111.8,2342.6L1113.5,2343.7L1115.1,2344.9L1116.5,2346.3L1117.5,2347.4L1118.4,2348.6L1119.3,2349.9L1120.1,2351.2L1120.9,2352.5L1121.6,2353.9L1122.3,2355.2L1123.0,2356.6L1123.7,2357.9L1124.3,2359.3L1124.9,2360.7L1125.6,2362.1L1126.1,2363.4L1126.7,2364.8L1127.3,2366.2L1127.8,2367.6L1128.3,2369.1L1128.9,2370.5L1129.4,2371.9L1129.8,2373.3L1130.3,2374.7L1130.8,2376.2L1131.3,2377.6L1131.7,2379.0L1132.2,2380.4L1132.6,2381.9L1133.1,2383.3L1133.5,2384.7L1134.0,2386.2L1134.4,2387.6L1135.0,2389.5L1135.7,2391.4L1136.3,2393.3L1137.0,2395.2L1137.6,2397.1L1138.3,2398.9L1139.0,2400.8L1139.6,2402.2L1140.1,2403.6L1140.7,2405.0L1141.3,2406.4L1141.8,2407.8L1142.4,2409.2L1142.9,2410.6L1143.5,2412.0L1144.0,2413.4L1144.6,2414.8L1145.1,2416.2L1145.7,2417.6L1146.2,2419.0L1146.7,2420.4L1147.2,2421.8L1147.7,2423.2L1148.2,2424.6L1148.7,2426.0L1149.2,2427.4L1149.8,2428.9L1150.3,2430.3L1150.8,2431.7L1151.3,2433.1L1151.8,2434.5L1152.5,2436.4L1153.2,2438.2L1154.0,2440.1L1154.7,2441.9L1155.5,2443.8L1156.3,2445.6L1157.1,2447.4L1158.0,2449.3L1158.8,2451.1L1159.5,2452.4L1160.1,2453.8L1160.8,2455.1L1161.5,2456.5L1162.1,2457.8L1162.8,2459.1L1163.5,2460.5L1164.2,2461.8L1165.0,2463.1L1165.7,2464.4L1166.4,2465.8L1167.1,2467.1L1167.8,2468.4L1168.6,2469.7L1169.3,2471.0L1170.1,2472.3L1170.9,2473.6L1171.7,2474.9L1172.5,2476.1L1173.4,2477.3L1174.3,2478.6L1175.2,2479.7L1176.2,2480.9L1177.2,2482.0L1178.3,2483.1L1179.3,2484.1L1180.5,2485.2L1181.6,2486.1L1182.8,2487.1L1184.0,2488.0L1185.2,2488.9L1186.4,2489.8L1187.7,2490.6L1189.4,2491.6L1191.2,2492.5L1192.9,2493.4L1194.7,2494.2L1196.6,2494.9L1198.4,2495.6L1200.3,2496.2L1202.2,2496.8L1204.2,2497.3L1205.6,2497.7L1207.1,2498.0L1208.6,2498.3L1210.1,2498.6L1211.6,2498.8L1213.1,2499.1L1214.6,2499.3L1216.1,2499.5L1217.6,2499.6L1219.1,2499.8L1220.7,2499.9L1222.2,2500.1L1223.7,2500.2L1225.3,2500.3L1226.8,2500.4L1228.3,2500.5L1229.9,2500.6L1231.4,2500.6L1232.9,2500.7L1234.5,2500.8L1236.0,2500.8L1237.5,2500.9L1239.1,2501.0L1240.6,2501.0L1242.1,2501.1L1243.6,2501.2L1245.1,2501.2L1246.6,2501.3L1248.1,2501.3L1249.6,2501.4L1251.2,2501.5L1252.7,2501.6L1254.2,2501.6L1256.1,2501.7L1258.1,2501.9L1260.1,2502.0L1262.1,2502.1L1264.1,2502.3L1266.1,2502.4L1268.1,2502.6L1270.0,2502.8L1272.0,2503.0L1274.0,2503.2L1275.9,2503.5L1277.9,2503.7L1279.9,2504.0L1281.8,2504.3L1283.8,2504.7L1285.8,2505.0L1287.7,2505.4L1289.7,2505.7L1291.7,2506.1L1293.6,2506.5L1295.1,2506.8L1296.6,2507.1L1298.0,2507.4L1299.5,2507.7L1301.0,2508.1L1302.4,2508.4L1303.9,2508.7L1305.4,2509.0L1306.9,2509.3L1308.3,2509.6L1309.8,2509.9L1311.3,2510.2L1312.7,2510.5L1314.2,2510.8L1315.7,2511.1L1317.2,2511.4L1318.7,2511.7L1320.1,2511.9L1321.6,2512.2L1323.1,2512.4L1324.6,2512.7L1326.1,2512.9L1327.5,2513.1L1329.0,2513.3L1330.5,2513.5L1332.0,2513.7L1333.5,2513.9L1335.0,2514.0L1336.5,2514.2L1338.0,2514.3L1339.5,2514.5L1341.0,2514.6L1342.5,2514.8L1343.9,2514.9L1345.4,2515.0L1346.9,2515.2L1348.4,2515.3L1349.9,2515.4L1351.4,2515.5L1352.9,2515.6L1354.4,2515.8L1355.9,2515.9L1357.4,2516.0L1358.9,2516.1L1360.4,2516.2L1361.9,2516.3L1363.4,2516.5L1364.9,2516.6L1366.4,2516.7L1367.9,2516.9L1369.4,2517.0L1370.9,2517.1L1372.4,2517.3L1373.9,2517.5L1375.4,2517.6L1376.9,2517.8L1378.3,2517.9L1379.8,2518.1L1381.3,2518.3L1382.8,2518.5L1384.3,2518.7L1385.8,2518.9L1387.3,2519.1L1388.8,2519.3L1390.3,2519.5L1391.7,2519.7L1393.2,2519.9L1394.7,2520.1L1396.2,2520.3L1397.7,2520.5L1399.2,2520.7L1400.7,2521.0L1402.1,2521.2L1403.6,2521.4L1405.1,2521.7L1406.6,2521.9L1408.1,2522.1L1409.6,2522.4L1411.0,2522.6L1412.5,2522.8L1414.0,2523.1L1415.5,2523.3L1417.0,2523.6L1418.4,2523.8L1419.9,2524.1L1421.4,2524.3L1422.9,2524.6L1424.4,2524.8L1425.8,2525.1L1427.3,2525.3L1428.8,2525.6L1430.3,2525.9L1431.8,2526.1L1433.2,2526.4L1434.7,2526.6L1436.2,2526.9L1437.7,2527.1L1439.1,2527.4L1440.6,2527.7L1442.1,2527.9L1443.6,2528.2L1445.1,2528.4L1446.5,2528.7L1448.0,2529.0L1449.5,2529.2L1451.0,2529.5L1452.4,2529.7L1453.9,2530.0L1455.4,2530.2L1456.9,2530.5L1458.4,2530.7L1459.8,2531.0L1461.3,2531.2L1462.8,2531.5L1464.3,2531.7L1465.8,2532.0L1467.2,2532.2L1468.7,2532.5L1470.2,2532.7L1471.7,2533.0L1473.2,2533.2L1474.6,2533.4L1476.1,2533.7L1477.6,2533.9L1479.1,2534.1L1480.6,2534.4L1482.1,2534.6L1483.5,2534.8L1485.0,2535.1L1486.5,2535.3L1488.0,2535.5L1489.5,2535.8L1491.0,2536.0L1492.4,2536.2L1493.9,2536.4L1495.4,2536.6L1496.9,2536.8L1498.4,2537.1L1499.9,2537.3L1501.4,2537.5L1502.8,2537.7L1504.3,2537.9L1505.8,2538.1L1507.3,2538.3L1508.8,2538.5L1510.3,2538.7L1511.8,2538.9L1513.3,2539.1L1514.7,2539.3L1516.2,2539.5L1517.7,2539.7L1519.2,2539.8L1520.7,2540.0L1522.2,2540.2L1523.7,2540.4L1525.2,2540.6L1526.7,2540.8L1528.1,2540.9L1529.6,2541.1L1531.1,2541.3L1532.6,2541.5L1534.1,2541.7L1535.6,2541.8L1537.1,2542.0L1538.6,2542.2L1540.1,2542.4L1541.6,2542.5L1543.1,2542.7L1544.5,2542.9L1546.0,2543.0L1547.5,2543.2L1549.0,2543.4L1550.5,2543.5L1552.0,2543.7L1553.5,2543.9L1555.0,2544.0L1556.5,2544.2L1558.0,2544.4L1559.5,2544.5L1560.9,2544.7L1562.4,2544.9L1563.9,2545.0L1565.4,2545.2L1566.9,2545.4L1568.4,2545.5L1569.9,2545.7L1571.4,2545.9L1572.9,2546.0L1574.4,2546.2L1575.9,2546.4L1577.4,2546.5L1578.8,2546.7L1580.3,2546.9L1581.8,2547.0L1583.3,2547.2L1584.8,2547.4L1586.3,2547.5L1587.8,2547.7L1589.3,2547.9L1590.8,2548.0L1592.3,2548.2L1593.8,2548.4L1595.3,2548.5L1596.7,2548.7L1598.2,2548.9L1599.7,2549.0L1601.2,2549.2L1602.7,2549.4L1604.2,2549.5L1605.7,2549.7L1607.2,2549.9L1608.7,2550.0L1610.2,2550.2L1611.7,2550.4L1613.1,2550.5L1614.6,2550.7L1616.1,2550.9L1617.6,2551.0L1619.1,2551.2L1620.6,2551.4L1622.1,2551.5L1623.6,2551.7L1625.1,2551.8L1626.6,2552.0L1628.1,2552.1L1629.6,2552.3L1631.1,2552.4L1632.6,2552.6L1634.0,2552.7L1635.5,2552.9L1637.0,2553.0L1638.5,2553.1L1640.0,2553.3L1641.5,2553.4L1643.0,2553.5L1644.5,2553.7L1646.0,2553.8L1647.5,2553.9L1649.0,2554.0L1650.5,2554.1L1652.0,2554.3L1653.5,2554.4L1655.0,2554.5L1656.5,2554.6L1658.0,2554.8L1659.5,2554.9L1661.0,2555.0L1662.5,2555.1L1664.0,2555.2L1665.5,2555.4L1666.9,2555.5L1668.4,2555.6L1669.9,2555.7L1671.4,2555.9L1672.9,2556.0L1674.4,2556.1L1675.9,2556.3L1677.4,2556.4L1678.9,2556.5L1680.4,2556.7L1681.9,2556.8L1683.4,2557.0L1684.9,2557.1L1686.4,2557.3L1687.9,2557.4L1689.4,2557.6L1690.9,2557.7L1692.3,2557.9L1693.8,2558.1L1695.3,2558.2L1696.8,2558.4L1698.3,2558.6L1699.8,2558.7" fill="none" stroke="#0000ff" stroke-width="9.0" stroke-linejoin="round" stroke-linecap="butt"/>
<polygon points="204.0,1865.1 218.2,1889.6 189.8,1889.6" fill="#0000ff"/>
<polygon points="248.8,1915.5 263.1,1940.0 234.6,1940.0" fill="#0000ff"/>
<polygon points="293.6,2008.9 307.9,2033.4 279.4,2033.4" fill="#0000ff"/>
<polygon points="338.4,2109.6 352.7,2134.1 324.2,2134.1" fill="#0000ff"/>
<polygon points="383.2,2213.3 397.5,2237.8 369.0,2237.8" fill="#0000ff"/>
<polygon points="428.1,2290.0 442.3,2314.5 413.8,2314.5" fill="#0000ff"/>
<polygon points="472.9,2288.2 487.1,2312.7 458.6,2312.7" fill="#0000ff"/>
<polygon points="517.7,2135.2 531.9,2159.7 503.4,2159.7" fill="#0000ff"/>
<polygon points="562.5,1858.9 576.7,1883.4 548.2,1883.4" fill="#0000ff"/>
<polygon points="607.3,1974.7 621.5,1999.2 593.0,1999.2" fill="#0000ff"/>
<polygon points="652.1,2298.0 666.4,2322.5 637.9,2322.5" fill="#0000ff"/>
<polygon points="696.9,2382.4 711.2,2406.9 682.7,2406.9" fill="#0000ff"/>
<polygon points="741.7,2414.7 756.0,2439.2 727.5,2439.2" fill="#0000ff"/>
<polygon points="786.5,2427.3 800.8,2451.8 772.3,2451.8" fill="#0000ff"/>
<polygon points="831.3,2415.2 845.6,2439.7 817.1,2439.7" fill="#0000ff"/>
<polygon points="876.2,2404.6 890.4,2429.1 861.9,2429.1" fill="#0000ff"/>
<polygon points="921.0,2393.6 935.2,2418.1 906.7,2418.1" fill="#0000ff"/>
<polygon points="965.8,2294.3 980.0,2318.8 951.5,2318.8" fill="#0000ff"/>
<polygon points="1010.6,2331.6 1024.8,2356.1 996.3,2356.1" fill="#0000ff"/>
<polygon points="1055.4,2404.3 1069.6,2428.8 1041.1,2428.8" fill="#0000ff"/>
<polygon points="1100.2,2325.5 1114.5,2350.0 1086.0,2350.0" fill="#0000ff"/>
<polygon points="1145.0,2399.5 1159.3,2424.0 1130.8,2424.0" fill="#0000ff"/>
<polygon points="1189.8,2475.5 1204.1,2500.0 1175.6,2500.0" fill="#0000ff"/>
<polygon points="1234.6,2484.5 1248.9,2509.0 1220.4,2509.0" fill="#0000ff"/>
<polygon points="1279.4,2487.6 1293.7,2512.1 1265.2,2512.1" fill="#0000ff"/>
<polygon points="1324.2,2496.3 1338.5,2520.8 1310.0,2520.8" fill="#0000ff"/>
<polygon points="1369.1,2500.6 1383.3,2525.1 1354.8,2525.1" fill="#0000ff"/>
<polygon points="1413.9,2506.7 1428.1,2531.2 1399.6,2531.2" fill="#0000ff"/>
<polygon points="1458.7,2514.5 1472.9,2539.0 1444.4,2539.0" fill="#0000ff"/>
<polygon points="1503.5,2521.4 1517.7,2545.9 1489.2,2545.9" fill="#0000ff"/>
<polygon points="1548.3,2527.0 1562.6,2551.5 1534.1,2551.5" fill="#0000ff"/>
<polygon points="1593.1,2532.0 1607.4,2556.5 1578.9,2556.5" fill="#0000ff"/>
<polygon points="1637.9,2536.7 1652.2,2561.2 1623.7,2561.2" fill="#0000ff"/>
<polygon points="1682.7,2540.6 1697.0,2565.1 1668.5,2565.1" fill="#0000ff"/>
<path d="M204.0,1871.4L205.9,1871.0L207.9,1870.6L209.8,1870.2L211.8,1869.8L213.7,1869.4L215.7,1869.0L217.6,1868.6L219.6,1868.2L221.6,1867.9L223.5,1867.5L225.5,1867.2L227.5,1866.8L229.4,1866.5L230.9,1866.2L232.4,1866.0L233.9,1865.8L235.4,1865.6L236.9,1865.4L238.4,1865.2L239.9,1865.0L241.4,1864.8L242.9,1864.6L244.4,1864.5L245.9,1864.3L247.4,1864.2L248.9,1864.1L250.4,1864.0L252.0,1863.9L253.5,1863.8L255.0,1863.7L256.6,1863.7L258.1,1863.6L259.6,1863.6L261.2,1863.6L262.7,1863.6L264.3,1863.7L265.8,1863.7L267.3,1863.8L268.8,1863.9L270.4,1864.0L271.9,1864.1L273.4,1864.3L274.9,1864.5L276.4,1864.7L277.9,1864.9L279.4,1865.2L280.8,1865.5L282.8,1865.9L284.7,1866.4L286.6,1866.9L288.5,1867.5L290.4,1868.1L292.3,1868.8L294.1,1869.6L295.9,1870.4L297.6,1871.2L299.4,1872.2L301.1,1873.1L302.8,1874.2L304.5,1875.2L306.1,1876.4L307.7,1877.5L308.9,1878.5L310.1,1879.4L311.3,1880.4L312.4,1881.3L313.6,1882.3L314.7,1883.4L315.8,1884.4L316.9,1885.5L318.0,1886.6L319.0,1887.7L320.1,1888.8L321.1,1889.9L322.2,1891.1L323.2,1892.3L324.2,1893.5L325.1,1894.7L326.1,1895.9L327.0,1897.1L328.0,1898.4L328.9,1899.6L329.8,1900.9L330.7,1902.2L331.6,1903.5L332.5,1904.8L333.3,1906.1L334.1,1907.4L335.0,1908.7L335.8,1910.0L336.6,1911.4L337.3,1912.7L338.1,1914.0L338.9,1915.4L339.6,1916.7L340.3,1918.1L341.0,1919.4L341.7,1920.8L342.4,1922.1L343.1,1923.5L343.8,1924.9L344.4,1926.2L345.0,1927.6L345.7,1929.0L346.3,1930.3L346.9,1931.7L347.5,1933.1L348.1,1934.5L348.8,1936.3L349.6,1938.2L350.3,1940.0L351.1,1941.9L351.8,1943.7L352.5,1945.6L353.2,1947.5L353.8,1949.3L354.5,1951.2L355.2,1953.1L355.8,1955.0L356.4,1956.8L357.1,1958.7L357.7,1960.6L358.3,1962.5L358.9,1964.4L359.6,1966.3L360.2,1968.2L360.8,1970.1L361.4,1972.0L361.9,1973.9L362.5,1975.8L363.1,1977.7L363.7,1979.6L364.3,1981.5L364.8,1983.4L365.4,1985.4L365.9,1987.3L366.5,1989.2L367.0,1991.1L367.6,1993.0L368.0,1994.5L368.4,1995.9L368.8,1997.4L369.2,1998.8L369.6,2000.3L370.0,2001.7L370.4,2003.2L370.8,2004.6L371.1,2006.1L371.5,2007.5L371.9,2009.0L372.3,2010.4L372.7,2011.9L373.0,2013.3L373.4,2014.8L373.8,2016.3L374.2,2017.7L374.5,2019.2L374.9,2020.6L375.3,2022.1L375.6,2023.6L376.0,2025.0L376.4,2026.5L376.7,2027.9L377.1,2029.4L377.4,2030.9L377.8,2032.3L378.2,2033.8L378.5,2035.2L378.9,2036.7L379.2,2038.2L379.6,2039.6L379.9,2041.1L380.3,2042.6L380.6,2044.0L380.9,2045.5L381.3,2047.0L381.6,2048.4L382.0,2049.9L382.3,2051.4L382.7,2052.8L383.0,2054.3L383.3,2055.8L383.7,2057.2L384.0,2058.7L384.3,2060.2L384.7,2061.6L385.0,2063.1L385.3,2064.6L385.7,2066.0L386.0,2067.5L386.3,2069.0L386.7,2070.4L387.0,2071.9L387.3,2073.4L387.7,2074.8L388.0,2076.3L388.3,2077.8L388.6,2079.2L389.0,2080.7L389.3,2082.2L389.6,2083.6L390.0,2085.1L390.3,2086.6L390.6,2088.1L390.9,2089.5L391.3,2091.0L391.6,2092.5L391.9,2093.9L392.2,2095.4L392.5,2096.9L392.9,2098.3L393.2,2099.8L393.5,2101.3L393.8,2102.7L394.2,2104.2L394.5,2105.7L394.8,2107.1L395.1,2108.6L395.4,2110.1L395.8,2111.5L396.1,2113.0L396.4,2114.5L396.7,2115.9L397.0,2117.4L397.4,2118.9L397.7,2120.3L398.0,2121.8L398.3,2123.3L398.6,2124.7L399.0,2126.2L399.3,2127.7L399.6,2129.1L399.9,2130.6L400.2,2132.1L400.6,2133.5L400.9,2135.0L401.2,2136.5L401.5,2137.9L401.9,2139.4L402.2,2140.9L402.5,2142.3L402.8,2143.8L403.1,2145.3L403.5,2146.7L403.8,2148.2L404.1,2149.7L404.4,2151.1L404.8,2152.6L405.1,2154.1L405.4,2155.5L405.7,2157.0L406.1,2158.4L406.5,2160.4L407.0,2162.4L407.4,2164.3L407.8,2166.3L408.3,2168.2L408.7,2170.2L409.2,2172.1L409.6,2174.1L410.1,2176.0L410.5,2177.9L411.0,2179.9L411.4,2181.8L411.9,2183.8L412.3,2185.7L412.8,2187.7L413.2,2189.6L413.7,2191.6L414.1,2193.5L414.6,2195.5L415.1,2197.4L415.5,2199.3L416.0,2201.3L416.5,2203.2L416.9,2205.2L417.4,2207.1L417.9,2209.1L418.4,2211.0L418.9,2212.9L419.3,2214.9L419.8,2216.8L420.3,2218.8L420.8,2220.7L421.3,2222.6L421.8,2224.6L422.3,2226.5L422.8,2228.4L423.3,2230.4L423.8,2232.3L424.3,2234.2L424.8,2236.2L425.3,2238.1L425.8,2240.0L426.4,2242.0L426.9,2243.9L427.4,2245.8L427.9,2247.7L428.5,2249.7L429.0,2251.6L429.5,2253.5L430.1,2255.4L430.6,2257.4L431.2,2259.3L431.7,2261.2L432.3,2263.1L432.8,2265.0L433.4,2267.0L434.0,2268.9L434.5,2270.8L435.1,2272.7L435.7,2274.6L436.3,2276.5L436.9,2278.4L437.5,2280.3L438.1,2282.2L438.7,2284.1L439.3,2286.0L440.0,2287.9L440.6,2289.8L441.2,2291.7L441.9,2293.6L442.5,2295.5L443.2,2297.4L443.8,2299.3L444.3,2300.7L444.9,2302.1L445.4,2303.5L445.9,2304.9L446.4,2306.3L446.9,2307.8L447.5,2309.2L448.0,2310.6L448.5,2312.0L449.1,2313.4L449.6,2314.8L450.2,2316.2L450.7,2317.6L451.3,2318.9L451.9,2320.3L452.4,2321.7L453.0,2323.1L453.6,2324.5L454.2,2325.9L454.8,2327.3L455.4,2328.6L456.0,2330.0L456.6,2331.4L457.2,2332.8L457.8,2334.2L458.4,2335.5L459.1,2336.9L459.7,2338.3L460.4,2339.6L461.0,2341.0L461.7,2342.4L462.3,2343.7L463.0,2345.1L463.7,2346.4L464.4,2347.8L465.0,2349.1L465.7,2350.5L466.4,2351.8L467.1,2353.2L467.9,2354.5L468.6,2355.8L469.3,2357.2L470.0,2358.5L470.8,2359.8L471.5,2361.2L472.3,2362.5L473.1,2363.8L473.8,2365.1L474.6,2366.5L475.4,2367.8L476.2,2369.1L477.0,2370.4L477.8,2371.7L478.6,2373.0L479.4,2374.3L480.3,2375.6L481.1,2376.9L481.9,2378.1L482.8,2379.4L483.7,2380.7L484.5,2381.9L485.4,2383.2L486.3,2384.4L487.2,2385.6L488.1,2386.9L489.1,2388.1L490.0,2389.3L490.9,2390.5L491.9,2391.7L492.9,2392.8L493.8,2394.0L494.8,2395.1L495.8,2396.3L496.8,2397.4L497.8,2398.5L498.8,2399.6L499.9,2400.7L500.9,2401.8L502.0,2402.9L503.4,2404.3L504.9,2405.6L506.3,2407.0L507.8,2408.3L509.3,2409.6L510.9,2410.8L512.4,2412.1L514.0,2413.3L515.6,2414.4L517.3,2415.6L518.9,2416.7L520.6,2417.7L522.3,2418.8L524.0,2419.8L525.7,2420.8L527.5,2421.7L529.2,2422.7L530.6,2423.4L531.9,2424.1L533.2,2424.7L534.6,2425.4L535.9,2426.1L537.3,2426.7L538.6,2427.4L540.0,2428.1L541.3,2428.7L542.7,2429.4L544.1,2430.0L545.4,2430.7L546.8,2431.3L548.1,2432.0L549.5,2432.7L550.8,2433.3L552.2,2434.0L553.5,2434.7L554.9,2435.4L556.2,2436.1L557.5,2436.8L558.8,2437.6L560.6,2438.5L562.3,2439.6L564.0,2440.6L565.7,2441.7L567.3,2442.8L569.0,2443.9L570.6,2445.0L572.2,2446.2L573.8,2447.4L575.4,2448.6L577.0,2449.8L578.5,2451.1L580.1,2452.3L581.2,2453.3L582.4,2454.3L583.5,2455.3L584.6,2456.3L585.8,2457.3L586.9,2458.3L588.0,2459.3L589.1,2460.3L590.2,2461.3L591.3,2462.4L592.4,2463.4L593.5,2464.5L594.6,2465.5L595.6,2466.6L596.7,2467.7L597.8,2468.7L598.8,2469.8L599.9,2470.9L601.0,2472.0L602.0,2473.1L603.1,2474.2L604.1,2475.3L605.2,2476.3L606.2,2477.4L607.3,2478.5L608.3,2479.6L609.3,2480.7L610.4,2481.8L611.4,2482.9L612.5,2484.0L613.5,2485.1L614.5,2486.2L615.6,2487.3L616.6,2488.4L617.6,2489.5L618.7,2490.6L619.7,2491.7L620.8,2492.8L621.8,2493.9L622.8,2495.0L623.9,2496.1L624.9,2497.1L626.0,2498.2L627.0,2499.3L628.1,2500.4L629.1,2501.4L630.2,2502.5L631.6,2503.9L633.1,2505.3L634.5,2506.7L635.9,2508.1L637.4,2509.4L638.8,2510.8L640.3,2512.1L641.8,2513.5L643.3,2514.8L644.8,2516.1L646.3,2517.4L647.8,2518.7L649.3,2520.0L650.9,2521.2L652.5,2522.5L654.0,2523.7L655.6,2524.9L657.2,2526.1L658.8,2527.3L660.5,2528.4L661.7,2529.3L662.9,2530.1L664.2,2531.0L665.4,2531.8L666.7,2532.6L668.0,2533.4L669.2,2534.2L670.5,2535.0L671.8,2535.8L673.1,2536.6L674.4,2537.4L675.7,2538.1L677.0,2538.9L678.3,2539.6L679.6,2540.3L680.9,2541.1L682.3,2541.8L683.6,2542.5L684.9,2543.2L686.3,2543.9L687.6,2544.5L689.0,2545.2L690.3,2545.9L691.7,2546.5L693.0,2547.2L694.4,2547.8L695.8,2548.4L697.2,2549.1L698.5,2549.7L699.9,2550.3L701.3,2550.9L702.7,2551.5L704.1,2552.0L705.5,2552.6L706.9,2553.2L708.3,2553.7L709.7,2554.3L711.1,2554.8L712.5,2555.3L713.9,2555.8L715.3,2556.3L716.7,2556.8L718.2,2557.3L719.6,2557.8L721.0,2558.3L722.4,2558.7L723.9,2559.2L725.3,2559.6L726.7,2560.1L728.2,2560.5L729.6,2560.9L731.1,2561.3L732.5,2561.7L734.0,2562.1L735.4,2562.5L736.9,2562.9L738.3,2563.2L739.8,2563.6L741.7,2564.0L743.7,2564.5L745.6,2564.9L747.6,2565.3L749.6,2565.7L751.5,2566.1L753.0,2566.4L754.5,2566.6L755.9,2566.9L757.4,2567.2L758.9,2567.4L760.4,2567.7L761.9,2567.9L763.3,2568.1L764.8,2568.3L766.3,2568.6L767.8,2568.8L769.3,2569.0L770.8,2569.2L772.3,2569.4L773.8,2569.6L775.2,2569.8L776.7,2570.0L778.2,2570.2L779.7,2570.4L781.2,2570.5L782.7,2570.7L784.2,2570.9L785.7,2571.1L787.2,2571.2L788.7,2571.4L790.2,2571.6L791.7,2571.7L793.2,2571.9L794.7,2572.1L796.1,2572.2L797.6,2572.4L799.1,2572.5L800.6,2572.7L802.1,2572.8L803.6,2573.0L805.1,2573.1L806.6,2573.3L808.1,2573.4L809.6,2573.5L811.1,2573.7L812.6,2573.8L814.1,2573.9L815.6,2574.0L817.1,2574.1L818.6,2574.2L820.6,2574.4L822.6,2574.5L824.6,2574.6L826.6,2574.7L828.6,2574.8L830.6,2574.9L832.5,2575.0L834.5,2575.0L836.5,2575.1L838.5,2575.1L840.0,2575.2L841.5,2575.2L843.0,2575.2L844.5,2575.2L846.0,2575.2L847.5,2575.3L849.0,2575.3L850.5,2575.3L852.0,2575.3L853.6,2575.3L855.1,2575.3L856.6,2575.3L858.1,2575.3L859.6,2575.3L861.1,2575.3L862.6,2575.3L864.1,2575.3L865.6,2575.3L867.1,2575.3L868.6,2575.3L870.1,2575.4L871.6,2575.4L873.1,2575.4L874.6,2575.4L876.1,2575.4L877.6,2575.5L879.1,2575.5L880.6,2575.5L882.1,2575.6L883.6,2575.6L885.1,2575.6L886.6,2575.7L888.1,2575.7L889.6,2575.8L891.1,2575.8L892.6,2575.9L894.1,2575.9L895.6,2576.0L897.1,2576.1L898.6,2576.1L900.1,2576.2L901.6,2576.2L903.1,2576.3L904.6,2576.4L906.1,2576.4L907.6,2576.5L909.1,2576.5L910.6,2576.6L912.1,2576.7L913.6,2576.7L915.1,2576.8L916.6,2576.8L918.1,2576.9L919.6,2576.9L921.1,2577.0L922.6,2577.0L924.1,2577.1L925.6,2577.1L927.1,2577.2L928.6,2577.2L930.1,2577.2L931.6,2577.3L933.1,2577.3L934.6,2577.3L936.1,2577.4L937.6,2577.4L939.1,2577.4L940.6,2577.5L942.1,2577.5L943.6,2577.5L945.1,2577.6L946.6,2577.6L948.1,2577.6L949.6,2577.7L951.1,2577.7L952.6,2577.7L954.1,2577.8L955.6,2577.8L957.1,2577.8L958.6,2577.8L960.1,2577.9L961.6,2577.9L963.1,2577.9L964.6,2578.0L966.1,2578.0L967.6,2578.0L969.1,2578.1L970.6,2578.1L972.1,2578.2L973.6,2578.2L975.1,2578.2L976.6,2578.3L978.1,2578.3L979.6,2578.4L981.1,2578.4L982.6,2578.5L984.1,2578.5L985.6,2578.6L987.1,2578.6L988.6,2578.7L990.1,2578.7L991.6,2578.7L993.1,2578.8L994.6,2578.8L996.1,2578.9L997.6,2578.9L999.1,2579.0L1000.6,2579.0L1002.1,2579.1L1003.6,2579.1L1005.1,2579.2L1006.6,2579.2L1008.1,2579.3L1009.6,2579.3L1011.1,2579.3L1012.6,2579.4L1014.1,2579.4L1015.6,2579.5L1017.1,2579.5L1018.6,2579.5L1020.1,2579.6L1021.6,2579.6L1023.1,2579.7L1024.6,2579.7L1026.1,2579.7L1027.6,2579.8L1029.1,2579.8L1030.6,2579.8L1032.1,2579.9L1033.6,2579.9L1035.1,2579.9L1036.6,2580.0L1038.1,2580.0L1039.6,2580.1L1041.1,2580.1L1042.6,2580.1L1044.1,2580.2L1045.6,2580.2L1047.1,2580.2L1048.6,2580.3L1050.1,2580.3L1051.6,2580.3L1053.1,2580.4L1054.6,2580.4L1056.1,2580.4L1057.6,2580.5L1059.1,2580.5L1060.6,2580.6L1062.1,2580.6L1063.6,2580.6L1065.1,2580.7L1066.6,2580.7L1068.1,2580.8L1069.6,2580.8L1071.1,2580.8L1072.6,2580.9L1074.1,2580.9L1075.6,2580.9L1077.1,2581.0L1078.6,2581.0L1080.1,2581.1L1081.6,2581.1L1083.1,2581.1L1084.6,2581.2L1086.1,2581.2L1087.6,2581.2L1089.1,2581.3L1090.6,2581.3L1092.1,2581.4L1093.6,2581.4L1095.1,2581.4L1096.6,2581.5L1098.1,2581.5L1099.6,2581.5L1101.1,2581.6L1102.6,2581.6L1104.1,2581.6L1105.6,2581.6L1107.1,2581.7L1108.6,2581.7L1110.1,2581.7L1111.6,2581.7L1113.1,2581.8L1114.6,2581.8L1116.1,2581.8L1117.6,2581.8L1119.1,2581.9L1120.6,2581.9L1122.1,2581.9L1123.6,2581.9L1125.1,2582.0L1126.6,2582.0L1128.1,2582.0L1129.6,2582.0L1131.1,2582.1L1132.6,2582.1L1134.1,2582.1L1135.6,2582.1L1137.1,2582.1L1138.6,2582.2L1140.1,2582.2L1141.6,2582.2L1143.1,2582.2L1144.6,2582.3L1146.1,2582.3L1147.6,2582.3L1149.1,2582.3L1150.6,2582.4L1152.1,2582.4L1153.6,2582.4L1155.1,2582.4L1156.6,2582.5L1158.1,2582.5L1159.6,2582.5L1161.1,2582.5L1162.6,2582.6L1164.1,2582.6L1165.6,2582.6L1167.1,2582.6L1168.6,2582.7L1170.1,2582.7L1171.6,2582.7L1173.1,2582.8L1174.6,2582.8L1176.1,2582.8L1177.6,2582.8L1179.1,2582.8L1180.6,2582.9L1182.1,2582.9L1183.6,2582.9L1185.1,2582.9L1186.6,2583.0L1188.1,2583.0L1189.6,2583.0L1191.1,2583.0L1192.6,2583.0L1194.1,2583.1L1195.6,2583.1L1197.1,2583.1L1198.6,2583.1L1200.1,2583.1L1201.6,2583.1L1203.1,2583.2L1204.6,2583.2L1206.1,2583.2L1207.6,2583.2L1209.1,2583.2L1210.6,2583.2L1212.1,2583.2L1213.6,2583.2L1215.1,2583.2L1216.6,2583.3L1218.1,2583.3L1219.6,2583.3L1221.1,2583.3L1222.6,2583.3L1224.1,2583.3L1225.6,2583.3L1227.1,2583.3L1228.6,2583.3L1230.1,2583.3L1231.6,2583.4L1233.1,2583.4L1234.6,2583.4L1236.1,2583.4L1237.6,2583.4L1239.1,2583.4L1240.6,2583.4L1242.1,2583.4L1243.6,2583.4L1245.1,2583.4L1246.6,2583.4L1248.1,2583.4L1249.6,2583.5L1251.1,2583.5L1252.6,2583.5L1254.1,2583.5L1255.6,2583.5L1257.1,2583.5L1258.6,2583.5L1260.1,2583.5L1261.6,2583.5L1263.1,2583.5L1264.6,2583.5L1266.1,2583.5L1267.6,2583.5L1269.1,2583.6L1270.6,2583.6L1272.1,2583.6L1273.6,2583.6L1275.1,2583.6L1276.6,2583.6L1278.1,2583.6L1279.6,2583.6L1281.1,2583.6L1282.6,2583.6L1284.1,2583.6L1285.6,2583.6L1287.1,2583.6L1288.6,2583.6L1290.1,2583.6L1291.6,2583.6L1293.1,2583.6L1294.6,2583.6L1296.1,2583.6L1297.6,2583.6L1299.1,2583.6L1300.6,2583.7L1302.1,2583.7L1303.6,2583.7L1305.1,2583.7L1306.6,2583.7L1308.1,2583.7L1309.6,2583.7L1311.1,2583.7L1312.6,2583.7L1314.1,2583.7L1315.7,2583.7L1317.2,2583.7L1318.7,2583.7L1320.2,2583.7L1321.7,2583.7L1323.2,2583.7L1324.7,2583.7L1326.2,2583.8L1327.7,2583.8L1329.2,2583.8L1330.7,2583.8L1332.2,2583.8L1333.7,2583.8L1335.2,2583.8L1336.7,2583.8L1338.2,2583.8L1339.7,2583.8L1341.2,2583.9L1342.7,2583.9L1344.2,2583.9L1345.7,2583.9L1347.2,2583.9L1348.7,2583.9L1350.2,2583.9L1351.7,2583.9L1353.2,2584.0L1354.7,2584.0L1356.2,2584.0L1357.7,2584.0L1359.2,2584.0L1360.7,2584.0L1362.2,2584.0L1363.7,2584.1L1365.2,2584.1L1366.7,2584.1L1368.2,2584.1L1369.7,2584.1L1371.2,2584.1L1372.7,2584.1L1374.2,2584.2L1375.7,2584.2L1377.2,2584.2L1378.7,2584.2L1380.2,2584.2L1381.7,2584.2L1383.2,2584.3L1384.7,2584.3L1386.2,2584.3L1387.7,2584.3L1389.2,2584.3L1390.7,2584.3L1392.2,2584.3L1393.7,2584.4L1395.2,2584.4L1396.7,2584.4L1398.2,2584.4L1399.7,2584.4L1401.2,2584.4L1402.7,2584.4L1404.2,2584.4L1405.7,2584.4L1407.2,2584.4L1408.7,2584.5L1410.2,2584.5L1411.7,2584.5L1413.2,2584.5L1414.7,2584.5L1416.2,2584.5L1417.7,2584.5L1419.2,2584.5L1420.7,2584.5L1422.2,2584.5L1423.7,2584.5L1425.2,2584.5L1426.7,2584.5L1428.2,2584.5L1429.7,2584.5L1431.2,2584.5L1432.7,2584.5L1434.2,2584.5L1435.7,2584.5L1437.2,2584.5L1438.7,2584.5L1440.2,2584.5L1441.7,2584.5L1443.2,2584.5L1444.7,2584.5L1446.2,2584.5L1447.7,2584.5L1449.2,2584.5L1450.7,2584.5L1452.2,2584.5L1453.7,2584.5L1455.2,2584.5L1456.7,2584.5L1458.2,2584.5L1459.7,2584.5L1461.2,2584.5L1462.7,2584.5L1464.2,2584.5L1465.7,2584.5L1467.2,2584.5L1468.7,2584.5L1470.2,2584.5L1471.7,2584.5L1473.2,2584.5L1474.7,2584.6L1476.2,2584.6L1477.7,2584.6L1479.2,2584.6L1480.7,2584.6L1482.2,2584.6L1483.7,2584.6L1485.2,2584.6L1486.7,2584.7L1488.2,2584.7L1489.7,2584.7L1491.2,2584.7L1492.7,2584.7L1494.2,2584.7L1495.7,2584.8L1497.2,2584.8L1498.7,2584.8L1500.2,2584.8L1501.7,2584.8L1503.2,2584.8L1504.7,2584.9L1506.2,2584.9L1507.7,2584.9L1509.2,2584.9L1510.7,2584.9L1512.2,2584.9L1513.7,2585.0L1515.2,2585.0L1516.7,2585.0L1518.2,2585.0L1519.7,2585.0L1521.2,2585.0L1522.7,2585.0L1524.2,2585.1L1525.7,2585.1L1527.2,2585.1L1528.7,2585.1L1530.2,2585.1L1531.7,2585.1L1533.2,2585.1L1534.7,2585.1L1536.2,2585.2L1537.7,2585.2L1539.2,2585.2L1540.7,2585.2L1542.2,2585.2L1543.7,2585.2L1545.2,2585.2L1546.7,2585.2L1548.2,2585.2L1549.7,2585.2L1551.2,2585.2L1552.7,2585.2L1554.2,2585.2L1555.7,2585.2L1557.2,2585.2L1558.7,2585.2L1560.2,2585.2L1561.7,2585.2L1563.2,2585.2L1564.7,2585.2L1566.2,2585.2L1567.8,2585.2L1569.3,2585.2L1570.8,2585.2L1572.3,2585.2L1573.8,2585.2L1575.3,2585.2L1576.8,2585.2L1578.3,2585.2L1579.8,2585.2L1581.3,2585.2L1582.8,2585.2L1584.3,2585.2L1585.8,2585.2L1587.3,2585.2L1588.8,2585.2L1590.3,2585.2L1591.8,2585.2L1593.3,2585.2L1594.8,2585.2L1596.3,2585.2L1597.8,2585.2L1599.3,2585.3L1600.8,2585.3L1602.3,2585.3L1603.8,2585.3L1605.3,2585.3L1606.8,2585.3L1608.3,2585.3L1609.8,2585.4L1611.3,2585.4L1612.8,2585.4L1614.3,2585.4L1615.8,2585.4L1617.3,2585.4L1618.8,2585.5L1620.3,2585.5L1621.8,2585.5L1623.3,2585.5L1624.8,2585.5L1626.3,2585.5L1627.8,2585.5L1629.3,2585.5L1630.8,2585.6L1632.3,2585.6L1633.8,2585.6L1635.3,2585.6L1636.8,2585.6L1638.3,2585.6L1639.8,2585.6L1641.3,2585.6L1642.8,2585.6L1644.3,2585.6L1645.8,2585.6L1647.3,2585.6L1648.8,2585.6L1650.3,2585.6L1651.8,2585.5L1653.3,2585.5L1654.8,2585.5L1656.3,2585.5L1657.8,2585.5L1659.3,2585.5L1660.8,2585.5L1662.3,2585.5L1663.8,2585.5L1665.3,2585.5L1666.8,2585.5L1668.3,2585.5L1669.8,2585.5L1671.3,2585.5L1672.8,2585.5L1674.3,2585.5L1675.8,2585.5L1677.3,2585.5L1678.8,2585.5L1680.3,2585.5L1681.8,2585.6L1683.3,2585.6L1684.8,2585.6L1686.3,2585.6L1687.8,2585.7L1689.3,2585.7L1690.8,2585.7L1692.3,2585.8L1693.8,2585.8L1695.3,2585.8L1696.8,2585.9L1698.3,2585.9L1699.8,2585.9" fill="none" stroke="#008080" stroke-width="9.0" stroke-linejoin="round" stroke-linecap="butt"/>
<polygon points="204.0,1887.8 218.2,1863.3 189.8,1863.3" fill="#008080"/>
<polygon points="248.8,1880.4 263.1,1855.9 234.6,1855.9" fill="#008080"/>
<polygon points="293.6,1885.7 307.9,1861.2 279.4,1861.2" fill="#008080"/>
<polygon points="338.4,1930.9 352.7,1906.4 324.2,1906.4" fill="#008080"/>
<polygon points="383.2,2071.7 397.5,2047.2 369.0,2047.2" fill="#008080"/>
<polygon points="428.1,2264.5 442.3,2240.0 413.8,2240.0" fill="#008080"/>
<polygon points="472.9,2379.8 487.1,2355.3 458.6,2355.3" fill="#008080"/>
<polygon points="517.7,2432.2 531.9,2407.7 503.4,2407.7" fill="#008080"/>
<polygon points="562.5,2456.0 576.7,2431.5 548.2,2431.5" fill="#008080"/>
<polygon points="607.3,2494.9 621.5,2470.4 593.0,2470.4" fill="#008080"/>
<polygon points="652.1,2538.5 666.4,2514.0 637.9,2514.0" fill="#008080"/>
<polygon points="696.9,2565.3 711.2,2540.8 682.7,2540.8" fill="#008080"/>
<polygon points="741.7,2580.4 756.0,2555.9 727.5,2555.9" fill="#008080"/>
<polygon points="786.5,2587.5 800.8,2563.0 772.3,2563.0" fill="#008080"/>
<polygon points="831.3,2591.2 845.6,2566.7 817.1,2566.7" fill="#008080"/>
<polygon points="876.2,2591.8 890.4,2567.3 861.9,2567.3" fill="#008080"/>
<polygon points="921.0,2593.3 935.2,2568.8 906.7,2568.8" fill="#008080"/>
<polygon points="965.8,2594.3 980.0,2569.8 951.5,2569.8" fill="#008080"/>
<polygon points="1010.6,2595.7 1024.8,2571.2 996.3,2571.2" fill="#008080"/>
<polygon points="1055.4,2596.8 1069.6,2572.3 1041.1,2572.3" fill="#008080"/>
<polygon points="1100.2,2597.9 1114.5,2573.4 1086.0,2573.4" fill="#008080"/>
<polygon points="1145.0,2598.6 1159.3,2574.1 1130.8,2574.1" fill="#008080"/>
<polygon points="1189.8,2599.3 1204.1,2574.8 1175.6,2574.8" fill="#008080"/>
<polygon points="1234.6,2599.7 1248.9,2575.2 1220.4,2575.2" fill="#008080"/>
<polygon points="1279.4,2599.9 1293.7,2575.4 1265.2,2575.4" fill="#008080"/>
<polygon points="1324.2,2600.1 1338.5,2575.6 1310.0,2575.6" fill="#008080"/>
<polygon points="1369.1,2600.4 1383.3,2575.9 1354.8,2575.9" fill="#008080"/>
<polygon points="1413.9,2600.8 1428.1,2576.3 1399.6,2576.3" fill="#008080"/>
<polygon points="1458.7,2600.8 1472.9,2576.3 1444.4,2576.3" fill="#008080"/>
<polygon points="1503.5,2601.2 1517.7,2576.7 1489.2,2576.7" fill="#008080"/>
<polygon points="1548.3,2601.5 1562.6,2577.0 1534.1,2577.0" fill="#008080"/>
<polygon points="1593.1,2601.5 1607.4,2577.0 1578.9,2577.0" fill="#008080"/>
<polygon points="1637.9,2601.9 1652.2,2577.4 1623.7,2577.4" fill="#008080"/>
<polygon points="1682.7,2601.9 1697.0,2577.4 1668.5,2577.4" fill="#008080"/>
</g>
<g shape-rendering="crispEdges"><rect x="1162" y="1693.5" width="118" height="8.6" fill="#000000"/></g>
<rect x="1209.2" y="1688.0" width="22.7" height="19.5" fill="#000000"/>
<text y="1714.0" font-family='"Liberation Serif", "Times New Roman", Times, serif' font-size="48" font-weight="bold"><tspan x="1294.81" textLength="134.82" lengthAdjust="spacingAndGlyphs">THPP</tspan><tspan x="1430.80" textLength="18.29" lengthAdjust="spacingAndGlyphs">-</tspan><tspan x="1450.07" textLength="91.89" lengthAdjust="spacingAndGlyphs">TiO</tspan><tspan x="1537.58" dy="19" font-size="26" textLength="17.14" lengthAdjust="spacingAndGlyphs">2</tspan></text>
<g shape-rendering="crispEdges"><rect x="1162" y="1769.9" width="118" height="8.6" fill="#ff0000"/></g>
<ellipse cx="1220.5" cy="1774.2" rx="12.5" ry="12" fill="#ff0000"/>
<text y="1791.0" font-family='"Liberation Serif", "Times New Roman", Times, serif' font-size="48" font-weight="bold"><tspan x="1294.81" textLength="134.82" lengthAdjust="spacingAndGlyphs">THPP</tspan><tspan x="1430.80" textLength="18.29" lengthAdjust="spacingAndGlyphs">-</tspan><tspan x="1450.13" textLength="57.81" lengthAdjust="spacingAndGlyphs">Pd</tspan><tspan x="1509.09" textLength="19.31" lengthAdjust="spacingAndGlyphs">-</tspan><tspan x="1529.27" textLength="91.05" lengthAdjust="spacingAndGlyphs">TiO</tspan><tspan x="1616.25" dy="19" font-size="26" textLength="16.31" lengthAdjust="spacingAndGlyphs">2</tspan></text>
<g shape-rendering="crispEdges"><rect x="1162" y="1846.2" width="118" height="8.6" fill="#0000ff"/></g>
<polygon points="1220.5,1834.8 1235.0,1858.8 1206.0,1858.8" fill="#0000ff"/>
<text y="1867.3" font-family='"Liberation Serif", "Times New Roman", Times, serif' font-size="48" font-weight="bold"><tspan x="1294.81" textLength="134.82" lengthAdjust="spacingAndGlyphs">THPP</tspan><tspan x="1430.80" textLength="18.29" lengthAdjust="spacingAndGlyphs">-</tspan><tspan x="1448.57" textLength="60.86" lengthAdjust="spacingAndGlyphs">Zn</tspan><tspan x="1510.40" textLength="19.18" lengthAdjust="spacingAndGlyphs">-</tspan><tspan x="1530.47" textLength="91.05" lengthAdjust="spacingAndGlyphs">TiO</tspan><tspan x="1618.00" dy="19" font-size="26" textLength="16.90" lengthAdjust="spacingAndGlyphs">2</tspan></text>
<g shape-rendering="crispEdges"><rect x="1162" y="1922.9" width="118" height="8.6" fill="#008080"/></g>
<polygon points="1220.5,1942.9 1235.0,1918.9 1206.0,1918.9" fill="#008080"/>
<text y="1944.0" font-family='"Liberation Serif", "Times New Roman", Times, serif' font-size="48" font-weight="bold"><tspan x="1293.20" textLength="76.80" lengthAdjust="spacingAndGlyphs">Gel</tspan><tspan x="1371.07" textLength="17.65" lengthAdjust="spacingAndGlyphs">-</tspan><tspan x="1389.77" textLength="91.05" lengthAdjust="spacingAndGlyphs">TiO</tspan><tspan x="1476.69" dy="19" font-size="26" textLength="17.02" lengthAdjust="spacingAndGlyphs">2</tspan></text>
</svg>
</body>
</html>
